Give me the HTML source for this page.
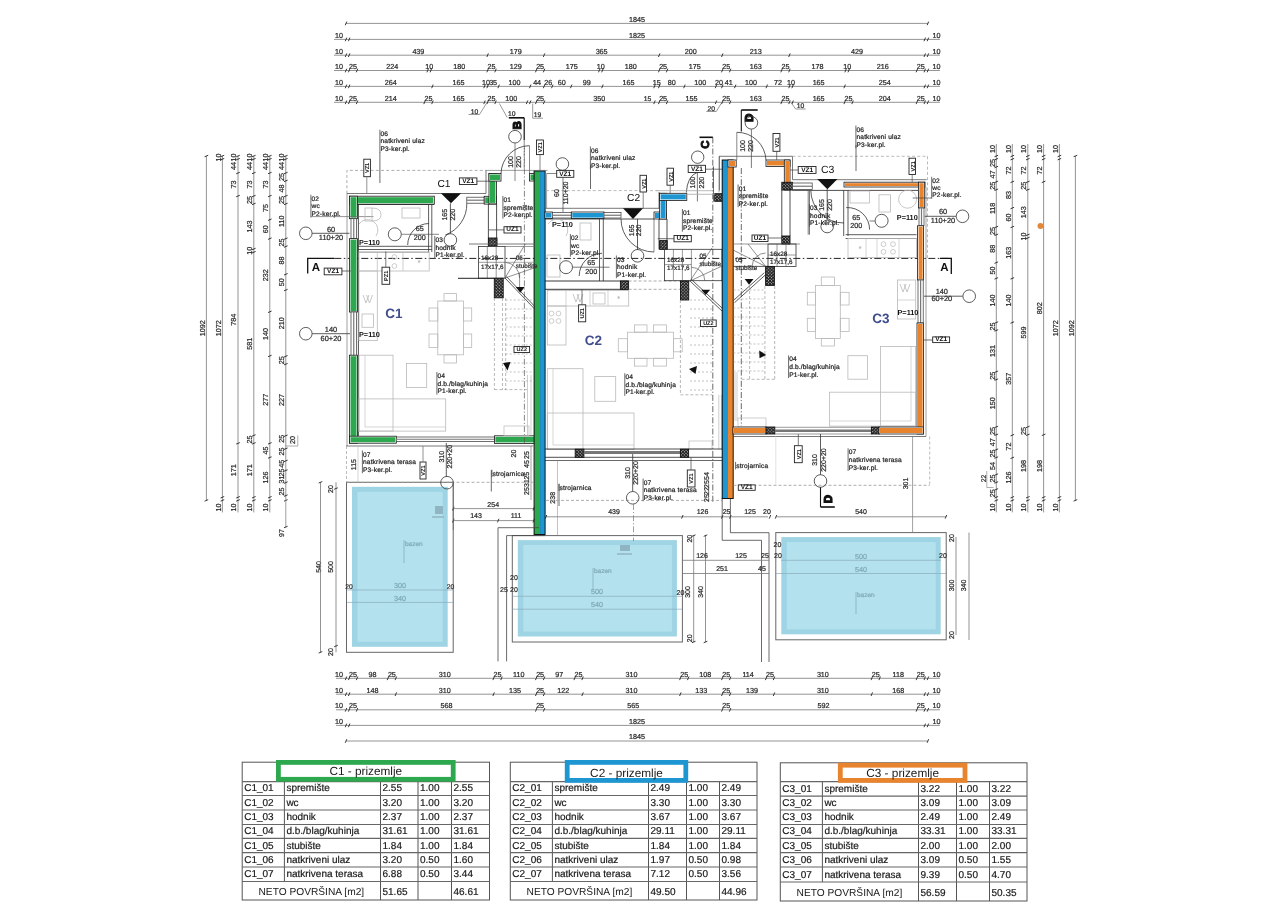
<!DOCTYPE html>
<html><head><meta charset="utf-8"><style>
html,body{margin:0;padding:0;background:#fff;width:1264px;height:920px;overflow:hidden}
svg{display:block;will-change:transform}
#wrap{width:1264px;height:920px}
text{font-family:"Liberation Sans",sans-serif}
svg{-webkit-font-smoothing:antialiased;text-rendering:geometricPrecision}
</style></head><body><div id="wrap">
<svg width="1264" height="920" viewBox="0 0 1264 920">
<rect x="0" y="0" width="1264" height="920" fill="#fff"/>
<line x1="346" y1="23.4" x2="927.91" y2="23.4" stroke="#888888" stroke-width="0.9"/>
<line x1="345.25" y1="25.2" x2="346.75" y2="21.6" stroke="#222" stroke-width="0.9"/>
<line x1="927.16" y1="25.2" x2="928.66" y2="21.6" stroke="#222" stroke-width="0.9"/>
<text x="636.96" y="21.8" font-size="7.2" text-anchor="middle" fill="#2a2a2a" font-weight="normal" font-family="Liberation Sans"  stroke="#2a2a2a" stroke-width="0.22">1845</text>
<line x1="334" y1="39.4" x2="939.91" y2="39.4" stroke="#888888" stroke-width="0.9"/>
<line x1="345.25" y1="41.2" x2="346.75" y2="37.6" stroke="#222" stroke-width="0.9"/>
<line x1="348.4" y1="41.2" x2="349.9" y2="37.6" stroke="#222" stroke-width="0.9"/>
<line x1="924.01" y1="41.2" x2="925.51" y2="37.6" stroke="#222" stroke-width="0.9"/>
<line x1="927.16" y1="41.2" x2="928.66" y2="37.6" stroke="#222" stroke-width="0.9"/>
<text x="343" y="37.8" font-size="7.2" text-anchor="end" fill="#2a2a2a" font-weight="normal" font-family="Liberation Sans"  stroke="#2a2a2a" stroke-width="0.22">10</text>
<text x="636.96" y="37.8" font-size="7.2" text-anchor="middle" fill="#2a2a2a" font-weight="normal" font-family="Liberation Sans"  stroke="#2a2a2a" stroke-width="0.22">1825</text>
<text x="932.41" y="37.8" font-size="7.2" text-anchor="start" fill="#2a2a2a" font-weight="normal" font-family="Liberation Sans"  stroke="#2a2a2a" stroke-width="0.22">10</text>
<line x1="334" y1="55.2" x2="939.91" y2="55.2" stroke="#888888" stroke-width="0.9"/>
<line x1="345.25" y1="57" x2="346.75" y2="53.4" stroke="#222" stroke-width="0.9"/>
<line x1="348.4" y1="57" x2="349.9" y2="53.4" stroke="#222" stroke-width="0.9"/>
<line x1="486.86" y1="57" x2="488.36" y2="53.4" stroke="#222" stroke-width="0.9"/>
<line x1="543.32" y1="57" x2="544.82" y2="53.4" stroke="#222" stroke-width="0.9"/>
<line x1="658.44" y1="57" x2="659.94" y2="53.4" stroke="#222" stroke-width="0.9"/>
<line x1="721.52" y1="57" x2="723.02" y2="53.4" stroke="#222" stroke-width="0.9"/>
<line x1="788.7" y1="57" x2="790.2" y2="53.4" stroke="#222" stroke-width="0.9"/>
<line x1="924.01" y1="57" x2="925.51" y2="53.4" stroke="#222" stroke-width="0.9"/>
<line x1="927.16" y1="57" x2="928.66" y2="53.4" stroke="#222" stroke-width="0.9"/>
<text x="343" y="53.6" font-size="7.2" text-anchor="end" fill="#2a2a2a" font-weight="normal" font-family="Liberation Sans"  stroke="#2a2a2a" stroke-width="0.22">10</text>
<text x="418.38" y="53.6" font-size="7.2" text-anchor="middle" fill="#2a2a2a" font-weight="normal" font-family="Liberation Sans"  stroke="#2a2a2a" stroke-width="0.22">439</text>
<text x="515.84" y="53.6" font-size="7.2" text-anchor="middle" fill="#2a2a2a" font-weight="normal" font-family="Liberation Sans"  stroke="#2a2a2a" stroke-width="0.22">179</text>
<text x="601.63" y="53.6" font-size="7.2" text-anchor="middle" fill="#2a2a2a" font-weight="normal" font-family="Liberation Sans"  stroke="#2a2a2a" stroke-width="0.22">365</text>
<text x="690.73" y="53.6" font-size="7.2" text-anchor="middle" fill="#2a2a2a" font-weight="normal" font-family="Liberation Sans"  stroke="#2a2a2a" stroke-width="0.22">200</text>
<text x="755.86" y="53.6" font-size="7.2" text-anchor="middle" fill="#2a2a2a" font-weight="normal" font-family="Liberation Sans"  stroke="#2a2a2a" stroke-width="0.22">213</text>
<text x="857.11" y="53.6" font-size="7.2" text-anchor="middle" fill="#2a2a2a" font-weight="normal" font-family="Liberation Sans"  stroke="#2a2a2a" stroke-width="0.22">429</text>
<text x="932.41" y="53.6" font-size="7.2" text-anchor="start" fill="#2a2a2a" font-weight="normal" font-family="Liberation Sans"  stroke="#2a2a2a" stroke-width="0.22">10</text>
<line x1="334" y1="70.5" x2="939.91" y2="70.5" stroke="#888888" stroke-width="0.9"/>
<line x1="345.25" y1="72.3" x2="346.75" y2="68.7" stroke="#222" stroke-width="0.9"/>
<line x1="348.4" y1="72.3" x2="349.9" y2="68.7" stroke="#222" stroke-width="0.9"/>
<line x1="356.29" y1="72.3" x2="357.79" y2="68.7" stroke="#222" stroke-width="0.9"/>
<line x1="426.94" y1="72.3" x2="428.44" y2="68.7" stroke="#222" stroke-width="0.9"/>
<line x1="430.09" y1="72.3" x2="431.59" y2="68.7" stroke="#222" stroke-width="0.9"/>
<line x1="486.86" y1="72.3" x2="488.36" y2="68.7" stroke="#222" stroke-width="0.9"/>
<line x1="494.75" y1="72.3" x2="496.25" y2="68.7" stroke="#222" stroke-width="0.9"/>
<line x1="535.44" y1="72.3" x2="536.94" y2="68.7" stroke="#222" stroke-width="0.9"/>
<line x1="543.32" y1="72.3" x2="544.82" y2="68.7" stroke="#222" stroke-width="0.9"/>
<line x1="598.52" y1="72.3" x2="600.02" y2="68.7" stroke="#222" stroke-width="0.9"/>
<line x1="601.67" y1="72.3" x2="603.17" y2="68.7" stroke="#222" stroke-width="0.9"/>
<line x1="658.44" y1="72.3" x2="659.94" y2="68.7" stroke="#222" stroke-width="0.9"/>
<line x1="666.33" y1="72.3" x2="667.83" y2="68.7" stroke="#222" stroke-width="0.9"/>
<line x1="721.52" y1="72.3" x2="723.02" y2="68.7" stroke="#222" stroke-width="0.9"/>
<line x1="729.41" y1="72.3" x2="730.91" y2="68.7" stroke="#222" stroke-width="0.9"/>
<line x1="780.82" y1="72.3" x2="782.32" y2="68.7" stroke="#222" stroke-width="0.9"/>
<line x1="788.7" y1="72.3" x2="790.2" y2="68.7" stroke="#222" stroke-width="0.9"/>
<line x1="844.84" y1="72.3" x2="846.34" y2="68.7" stroke="#222" stroke-width="0.9"/>
<line x1="848" y1="72.3" x2="849.5" y2="68.7" stroke="#222" stroke-width="0.9"/>
<line x1="916.12" y1="72.3" x2="917.62" y2="68.7" stroke="#222" stroke-width="0.9"/>
<line x1="924.01" y1="72.3" x2="925.51" y2="68.7" stroke="#222" stroke-width="0.9"/>
<line x1="927.16" y1="72.3" x2="928.66" y2="68.7" stroke="#222" stroke-width="0.9"/>
<text x="343" y="68.9" font-size="7.2" text-anchor="end" fill="#2a2a2a" font-weight="normal" font-family="Liberation Sans"  stroke="#2a2a2a" stroke-width="0.22">10</text>
<text x="353.1" y="68.9" font-size="7.2" text-anchor="middle" fill="#2a2a2a" font-weight="normal" font-family="Liberation Sans"  stroke="#2a2a2a" stroke-width="0.22">25</text>
<text x="392.36" y="68.9" font-size="7.2" text-anchor="middle" fill="#2a2a2a" font-weight="normal" font-family="Liberation Sans"  stroke="#2a2a2a" stroke-width="0.22">224</text>
<text x="429.27" y="68.9" font-size="7.2" text-anchor="middle" fill="#2a2a2a" font-weight="normal" font-family="Liberation Sans"  stroke="#2a2a2a" stroke-width="0.22">10</text>
<text x="459.23" y="68.9" font-size="7.2" text-anchor="middle" fill="#2a2a2a" font-weight="normal" font-family="Liberation Sans"  stroke="#2a2a2a" stroke-width="0.22">180</text>
<text x="491.56" y="68.9" font-size="7.2" text-anchor="middle" fill="#2a2a2a" font-weight="normal" font-family="Liberation Sans"  stroke="#2a2a2a" stroke-width="0.22">25</text>
<text x="515.84" y="68.9" font-size="7.2" text-anchor="middle" fill="#2a2a2a" font-weight="normal" font-family="Liberation Sans"  stroke="#2a2a2a" stroke-width="0.22">129</text>
<text x="540.13" y="68.9" font-size="7.2" text-anchor="middle" fill="#2a2a2a" font-weight="normal" font-family="Liberation Sans"  stroke="#2a2a2a" stroke-width="0.22">25</text>
<text x="571.67" y="68.9" font-size="7.2" text-anchor="middle" fill="#2a2a2a" font-weight="normal" font-family="Liberation Sans"  stroke="#2a2a2a" stroke-width="0.22">175</text>
<text x="600.84" y="68.9" font-size="7.2" text-anchor="middle" fill="#2a2a2a" font-weight="normal" font-family="Liberation Sans"  stroke="#2a2a2a" stroke-width="0.22">10</text>
<text x="630.81" y="68.9" font-size="7.2" text-anchor="middle" fill="#2a2a2a" font-weight="normal" font-family="Liberation Sans"  stroke="#2a2a2a" stroke-width="0.22">180</text>
<text x="663.13" y="68.9" font-size="7.2" text-anchor="middle" fill="#2a2a2a" font-weight="normal" font-family="Liberation Sans"  stroke="#2a2a2a" stroke-width="0.22">25</text>
<text x="694.67" y="68.9" font-size="7.2" text-anchor="middle" fill="#2a2a2a" font-weight="normal" font-family="Liberation Sans"  stroke="#2a2a2a" stroke-width="0.22">175</text>
<text x="726.21" y="68.9" font-size="7.2" text-anchor="middle" fill="#2a2a2a" font-weight="normal" font-family="Liberation Sans"  stroke="#2a2a2a" stroke-width="0.22">25</text>
<text x="755.86" y="68.9" font-size="7.2" text-anchor="middle" fill="#2a2a2a" font-weight="normal" font-family="Liberation Sans"  stroke="#2a2a2a" stroke-width="0.22">163</text>
<text x="785.51" y="68.9" font-size="7.2" text-anchor="middle" fill="#2a2a2a" font-weight="normal" font-family="Liberation Sans"  stroke="#2a2a2a" stroke-width="0.22">25</text>
<text x="817.52" y="68.9" font-size="7.2" text-anchor="middle" fill="#2a2a2a" font-weight="normal" font-family="Liberation Sans"  stroke="#2a2a2a" stroke-width="0.22">178</text>
<text x="847.17" y="68.9" font-size="7.2" text-anchor="middle" fill="#2a2a2a" font-weight="normal" font-family="Liberation Sans"  stroke="#2a2a2a" stroke-width="0.22">10</text>
<text x="882.81" y="68.9" font-size="7.2" text-anchor="middle" fill="#2a2a2a" font-weight="normal" font-family="Liberation Sans"  stroke="#2a2a2a" stroke-width="0.22">216</text>
<text x="920.82" y="68.9" font-size="7.2" text-anchor="middle" fill="#2a2a2a" font-weight="normal" font-family="Liberation Sans"  stroke="#2a2a2a" stroke-width="0.22">25</text>
<text x="932.41" y="68.9" font-size="7.2" text-anchor="start" fill="#2a2a2a" font-weight="normal" font-family="Liberation Sans"  stroke="#2a2a2a" stroke-width="0.22">10</text>
<line x1="334" y1="86.4" x2="939.91" y2="86.4" stroke="#888888" stroke-width="0.9"/>
<line x1="345.25" y1="88.2" x2="346.75" y2="84.6" stroke="#222" stroke-width="0.9"/>
<line x1="348.4" y1="88.2" x2="349.9" y2="84.6" stroke="#222" stroke-width="0.9"/>
<line x1="431.67" y1="88.2" x2="433.17" y2="84.6" stroke="#222" stroke-width="0.9"/>
<line x1="483.71" y1="88.2" x2="485.21" y2="84.6" stroke="#222" stroke-width="0.9"/>
<line x1="486.86" y1="88.2" x2="488.36" y2="84.6" stroke="#222" stroke-width="0.9"/>
<line x1="497.9" y1="88.2" x2="499.4" y2="84.6" stroke="#222" stroke-width="0.9"/>
<line x1="529.44" y1="88.2" x2="530.94" y2="84.6" stroke="#222" stroke-width="0.9"/>
<line x1="543.32" y1="88.2" x2="544.82" y2="84.6" stroke="#222" stroke-width="0.9"/>
<line x1="551.52" y1="88.2" x2="553.02" y2="84.6" stroke="#222" stroke-width="0.9"/>
<line x1="570.45" y1="88.2" x2="571.95" y2="84.6" stroke="#222" stroke-width="0.9"/>
<line x1="601.67" y1="88.2" x2="603.17" y2="84.6" stroke="#222" stroke-width="0.9"/>
<line x1="653.71" y1="88.2" x2="655.21" y2="84.6" stroke="#222" stroke-width="0.9"/>
<line x1="658.44" y1="88.2" x2="659.94" y2="84.6" stroke="#222" stroke-width="0.9"/>
<line x1="683.67" y1="88.2" x2="685.17" y2="84.6" stroke="#222" stroke-width="0.9"/>
<line x1="715.21" y1="88.2" x2="716.71" y2="84.6" stroke="#222" stroke-width="0.9"/>
<line x1="721.52" y1="88.2" x2="723.02" y2="84.6" stroke="#222" stroke-width="0.9"/>
<line x1="734.45" y1="88.2" x2="735.95" y2="84.6" stroke="#222" stroke-width="0.9"/>
<line x1="765.99" y1="88.2" x2="767.49" y2="84.6" stroke="#222" stroke-width="0.9"/>
<line x1="788.7" y1="88.2" x2="790.2" y2="84.6" stroke="#222" stroke-width="0.9"/>
<line x1="791.86" y1="88.2" x2="793.36" y2="84.6" stroke="#222" stroke-width="0.9"/>
<line x1="843.9" y1="88.2" x2="845.4" y2="84.6" stroke="#222" stroke-width="0.9"/>
<line x1="924.01" y1="88.2" x2="925.51" y2="84.6" stroke="#222" stroke-width="0.9"/>
<line x1="927.16" y1="88.2" x2="928.66" y2="84.6" stroke="#222" stroke-width="0.9"/>
<text x="343" y="84.8" font-size="7.2" text-anchor="end" fill="#2a2a2a" font-weight="normal" font-family="Liberation Sans"  stroke="#2a2a2a" stroke-width="0.22">10</text>
<text x="390.79" y="84.8" font-size="7.2" text-anchor="middle" fill="#2a2a2a" font-weight="normal" font-family="Liberation Sans"  stroke="#2a2a2a" stroke-width="0.22">264</text>
<text x="458.44" y="84.8" font-size="7.2" text-anchor="middle" fill="#2a2a2a" font-weight="normal" font-family="Liberation Sans"  stroke="#2a2a2a" stroke-width="0.22">165</text>
<text x="486.04" y="84.8" font-size="7.2" text-anchor="middle" fill="#2a2a2a" font-weight="normal" font-family="Liberation Sans"  stroke="#2a2a2a" stroke-width="0.22">10</text>
<text x="493.13" y="84.8" font-size="7.2" text-anchor="middle" fill="#2a2a2a" font-weight="normal" font-family="Liberation Sans"  stroke="#2a2a2a" stroke-width="0.22">35</text>
<text x="514.42" y="84.8" font-size="7.2" text-anchor="middle" fill="#2a2a2a" font-weight="normal" font-family="Liberation Sans"  stroke="#2a2a2a" stroke-width="0.22">100</text>
<text x="537.13" y="84.8" font-size="7.2" text-anchor="middle" fill="#2a2a2a" font-weight="normal" font-family="Liberation Sans"  stroke="#2a2a2a" stroke-width="0.22">44</text>
<text x="548.17" y="84.8" font-size="7.2" text-anchor="middle" fill="#2a2a2a" font-weight="normal" font-family="Liberation Sans"  stroke="#2a2a2a" stroke-width="0.22">26</text>
<text x="561.73" y="84.8" font-size="7.2" text-anchor="middle" fill="#2a2a2a" font-weight="normal" font-family="Liberation Sans"  stroke="#2a2a2a" stroke-width="0.22">60</text>
<text x="586.81" y="84.8" font-size="7.2" text-anchor="middle" fill="#2a2a2a" font-weight="normal" font-family="Liberation Sans"  stroke="#2a2a2a" stroke-width="0.22">99</text>
<text x="628.44" y="84.8" font-size="7.2" text-anchor="middle" fill="#2a2a2a" font-weight="normal" font-family="Liberation Sans"  stroke="#2a2a2a" stroke-width="0.22">165</text>
<text x="656.83" y="84.8" font-size="7.2" text-anchor="middle" fill="#2a2a2a" font-weight="normal" font-family="Liberation Sans"  stroke="#2a2a2a" stroke-width="0.22">15</text>
<text x="671.81" y="84.8" font-size="7.2" text-anchor="middle" fill="#2a2a2a" font-weight="normal" font-family="Liberation Sans"  stroke="#2a2a2a" stroke-width="0.22">80</text>
<text x="700.19" y="84.8" font-size="7.2" text-anchor="middle" fill="#2a2a2a" font-weight="normal" font-family="Liberation Sans"  stroke="#2a2a2a" stroke-width="0.22">100</text>
<text x="719.12" y="84.8" font-size="7.2" text-anchor="middle" fill="#2a2a2a" font-weight="normal" font-family="Liberation Sans"  stroke="#2a2a2a" stroke-width="0.22">20</text>
<text x="728.74" y="84.8" font-size="7.2" text-anchor="middle" fill="#2a2a2a" font-weight="normal" font-family="Liberation Sans"  stroke="#2a2a2a" stroke-width="0.22">41</text>
<text x="750.97" y="84.8" font-size="7.2" text-anchor="middle" fill="#2a2a2a" font-weight="normal" font-family="Liberation Sans"  stroke="#2a2a2a" stroke-width="0.22">100</text>
<text x="778.1" y="84.8" font-size="7.2" text-anchor="middle" fill="#2a2a2a" font-weight="normal" font-family="Liberation Sans"  stroke="#2a2a2a" stroke-width="0.22">72</text>
<text x="791.03" y="84.8" font-size="7.2" text-anchor="middle" fill="#2a2a2a" font-weight="normal" font-family="Liberation Sans"  stroke="#2a2a2a" stroke-width="0.22">10</text>
<text x="818.63" y="84.8" font-size="7.2" text-anchor="middle" fill="#2a2a2a" font-weight="normal" font-family="Liberation Sans"  stroke="#2a2a2a" stroke-width="0.22">165</text>
<text x="884.7" y="84.8" font-size="7.2" text-anchor="middle" fill="#2a2a2a" font-weight="normal" font-family="Liberation Sans"  stroke="#2a2a2a" stroke-width="0.22">254</text>
<text x="932.41" y="84.8" font-size="7.2" text-anchor="start" fill="#2a2a2a" font-weight="normal" font-family="Liberation Sans"  stroke="#2a2a2a" stroke-width="0.22">10</text>
<line x1="334" y1="102.3" x2="939.91" y2="102.3" stroke="#888888" stroke-width="0.9"/>
<line x1="345.25" y1="104.1" x2="346.75" y2="100.5" stroke="#222" stroke-width="0.9"/>
<line x1="348.4" y1="104.1" x2="349.9" y2="100.5" stroke="#222" stroke-width="0.9"/>
<line x1="356.29" y1="104.1" x2="357.79" y2="100.5" stroke="#222" stroke-width="0.9"/>
<line x1="423.78" y1="104.1" x2="425.28" y2="100.5" stroke="#222" stroke-width="0.9"/>
<line x1="431.67" y1="104.1" x2="433.17" y2="100.5" stroke="#222" stroke-width="0.9"/>
<line x1="483.71" y1="104.1" x2="485.21" y2="100.5" stroke="#222" stroke-width="0.9"/>
<line x1="486.86" y1="104.1" x2="488.36" y2="100.5" stroke="#222" stroke-width="0.9"/>
<line x1="494.75" y1="104.1" x2="496.25" y2="100.5" stroke="#222" stroke-width="0.9"/>
<line x1="526.29" y1="104.1" x2="527.79" y2="100.5" stroke="#222" stroke-width="0.9"/>
<line x1="529.44" y1="104.1" x2="530.94" y2="100.5" stroke="#222" stroke-width="0.9"/>
<line x1="535.44" y1="104.1" x2="536.94" y2="100.5" stroke="#222" stroke-width="0.9"/>
<line x1="543.32" y1="104.1" x2="544.82" y2="100.5" stroke="#222" stroke-width="0.9"/>
<line x1="653.71" y1="104.1" x2="655.21" y2="100.5" stroke="#222" stroke-width="0.9"/>
<line x1="658.44" y1="104.1" x2="659.94" y2="100.5" stroke="#222" stroke-width="0.9"/>
<line x1="666.33" y1="104.1" x2="667.83" y2="100.5" stroke="#222" stroke-width="0.9"/>
<line x1="715.21" y1="104.1" x2="716.71" y2="100.5" stroke="#222" stroke-width="0.9"/>
<line x1="721.52" y1="104.1" x2="723.02" y2="100.5" stroke="#222" stroke-width="0.9"/>
<line x1="729.41" y1="104.1" x2="730.91" y2="100.5" stroke="#222" stroke-width="0.9"/>
<line x1="780.82" y1="104.1" x2="782.32" y2="100.5" stroke="#222" stroke-width="0.9"/>
<line x1="788.7" y1="104.1" x2="790.2" y2="100.5" stroke="#222" stroke-width="0.9"/>
<line x1="791.86" y1="104.1" x2="793.36" y2="100.5" stroke="#222" stroke-width="0.9"/>
<line x1="843.9" y1="104.1" x2="845.4" y2="100.5" stroke="#222" stroke-width="0.9"/>
<line x1="851.78" y1="104.1" x2="853.28" y2="100.5" stroke="#222" stroke-width="0.9"/>
<line x1="916.12" y1="104.1" x2="917.62" y2="100.5" stroke="#222" stroke-width="0.9"/>
<line x1="924.01" y1="104.1" x2="925.51" y2="100.5" stroke="#222" stroke-width="0.9"/>
<line x1="927.16" y1="104.1" x2="928.66" y2="100.5" stroke="#222" stroke-width="0.9"/>
<text x="343" y="100.7" font-size="7.2" text-anchor="end" fill="#2a2a2a" font-weight="normal" font-family="Liberation Sans"  stroke="#2a2a2a" stroke-width="0.22">10</text>
<text x="353.1" y="100.7" font-size="7.2" text-anchor="middle" fill="#2a2a2a" font-weight="normal" font-family="Liberation Sans"  stroke="#2a2a2a" stroke-width="0.22">25</text>
<text x="390.79" y="100.7" font-size="7.2" text-anchor="middle" fill="#2a2a2a" font-weight="normal" font-family="Liberation Sans"  stroke="#2a2a2a" stroke-width="0.22">214</text>
<text x="428.48" y="100.7" font-size="7.2" text-anchor="middle" fill="#2a2a2a" font-weight="normal" font-family="Liberation Sans"  stroke="#2a2a2a" stroke-width="0.22">25</text>
<text x="458.44" y="100.7" font-size="7.2" text-anchor="middle" fill="#2a2a2a" font-weight="normal" font-family="Liberation Sans"  stroke="#2a2a2a" stroke-width="0.22">165</text>
<text x="491.56" y="100.7" font-size="7.2" text-anchor="middle" fill="#2a2a2a" font-weight="normal" font-family="Liberation Sans"  stroke="#2a2a2a" stroke-width="0.22">25</text>
<text x="511.27" y="100.7" font-size="7.2" text-anchor="middle" fill="#2a2a2a" font-weight="normal" font-family="Liberation Sans"  stroke="#2a2a2a" stroke-width="0.22">100</text>
<text x="540.13" y="100.7" font-size="7.2" text-anchor="middle" fill="#2a2a2a" font-weight="normal" font-family="Liberation Sans"  stroke="#2a2a2a" stroke-width="0.22">25</text>
<text x="599.27" y="100.7" font-size="7.2" text-anchor="middle" fill="#2a2a2a" font-weight="normal" font-family="Liberation Sans"  stroke="#2a2a2a" stroke-width="0.22">350</text>
<text x="663.13" y="100.7" font-size="7.2" text-anchor="middle" fill="#2a2a2a" font-weight="normal" font-family="Liberation Sans"  stroke="#2a2a2a" stroke-width="0.22">25</text>
<text x="691.52" y="100.7" font-size="7.2" text-anchor="middle" fill="#2a2a2a" font-weight="normal" font-family="Liberation Sans"  stroke="#2a2a2a" stroke-width="0.22">155</text>
<text x="726.21" y="100.7" font-size="7.2" text-anchor="middle" fill="#2a2a2a" font-weight="normal" font-family="Liberation Sans"  stroke="#2a2a2a" stroke-width="0.22">25</text>
<text x="755.86" y="100.7" font-size="7.2" text-anchor="middle" fill="#2a2a2a" font-weight="normal" font-family="Liberation Sans"  stroke="#2a2a2a" stroke-width="0.22">163</text>
<text x="785.51" y="100.7" font-size="7.2" text-anchor="middle" fill="#2a2a2a" font-weight="normal" font-family="Liberation Sans"  stroke="#2a2a2a" stroke-width="0.22">25</text>
<text x="818.63" y="100.7" font-size="7.2" text-anchor="middle" fill="#2a2a2a" font-weight="normal" font-family="Liberation Sans"  stroke="#2a2a2a" stroke-width="0.22">165</text>
<text x="848.59" y="100.7" font-size="7.2" text-anchor="middle" fill="#2a2a2a" font-weight="normal" font-family="Liberation Sans"  stroke="#2a2a2a" stroke-width="0.22">25</text>
<text x="884.7" y="100.7" font-size="7.2" text-anchor="middle" fill="#2a2a2a" font-weight="normal" font-family="Liberation Sans"  stroke="#2a2a2a" stroke-width="0.22">204</text>
<text x="920.82" y="100.7" font-size="7.2" text-anchor="middle" fill="#2a2a2a" font-weight="normal" font-family="Liberation Sans"  stroke="#2a2a2a" stroke-width="0.22">25</text>
<text x="932.41" y="100.7" font-size="7.2" text-anchor="start" fill="#2a2a2a" font-weight="normal" font-family="Liberation Sans"  stroke="#2a2a2a" stroke-width="0.22">10</text>
<text x="647.5" y="100.7" font-size="6.8" text-anchor="middle" fill="#2a2a2a" font-weight="normal" font-family="Liberation Sans"  stroke="#2a2a2a" stroke-width="0.22">15</text>
<line x1="486.46" y1="103.3" x2="479.46" y2="114.5" stroke="#555" stroke-width="0.6"/>
<line x1="479.46" y1="114.5" x2="468.46" y2="114.5" stroke="#555" stroke-width="0.6"/>
<text x="474.46" y="113.5" font-size="6.8" text-anchor="middle" fill="#2a2a2a" font-weight="normal" font-family="Liberation Sans"  stroke="#2a2a2a" stroke-width="0.22">10</text>
<line x1="499.4" y1="103.5" x2="507.2" y2="117.5" stroke="#555" stroke-width="0.6"/>
<text x="511.8" y="115.5" font-size="6.8" text-anchor="middle" fill="#2a2a2a" font-weight="normal" font-family="Liberation Sans"  stroke="#2a2a2a" stroke-width="0.22">10</text>
<line x1="532.7" y1="103.5" x2="532.7" y2="118.2" stroke="#555" stroke-width="0.6"/>
<line x1="532.7" y1="118.2" x2="543" y2="118.2" stroke="#555" stroke-width="0.6"/>
<text x="537.5" y="116.7" font-size="6.8" text-anchor="middle" fill="#2a2a2a" font-weight="normal" font-family="Liberation Sans"  stroke="#2a2a2a" stroke-width="0.22">19</text>
<line x1="721.27" y1="103.3" x2="716.27" y2="111.5" stroke="#555" stroke-width="0.6"/>
<line x1="716.27" y1="111.5" x2="706.27" y2="111.5" stroke="#555" stroke-width="0.6"/>
<text x="711.27" y="110.5" font-size="6.8" text-anchor="middle" fill="#2a2a2a" font-weight="normal" font-family="Liberation Sans"  stroke="#2a2a2a" stroke-width="0.22">20</text>
<line x1="791.61" y1="103.3" x2="795.61" y2="109" stroke="#555" stroke-width="0.6"/>
<line x1="795.61" y1="109" x2="805.61" y2="109" stroke="#555" stroke-width="0.6"/>
<text x="800.61" y="108" font-size="6.8" text-anchor="middle" fill="#2a2a2a" font-weight="normal" font-family="Liberation Sans"  stroke="#2a2a2a" stroke-width="0.22">10</text>
<line x1="336" y1="678.3" x2="939.91" y2="678.3" stroke="#888888" stroke-width="0.9"/>
<line x1="345.25" y1="680.1" x2="346.75" y2="676.5" stroke="#222" stroke-width="0.9"/>
<line x1="348.4" y1="680.1" x2="349.9" y2="676.5" stroke="#222" stroke-width="0.9"/>
<line x1="356.29" y1="680.1" x2="357.79" y2="676.5" stroke="#222" stroke-width="0.9"/>
<line x1="387.2" y1="680.1" x2="388.7" y2="676.5" stroke="#222" stroke-width="0.9"/>
<line x1="395.08" y1="680.1" x2="396.58" y2="676.5" stroke="#222" stroke-width="0.9"/>
<line x1="492.86" y1="680.1" x2="494.36" y2="676.5" stroke="#222" stroke-width="0.9"/>
<line x1="500.74" y1="680.1" x2="502.24" y2="676.5" stroke="#222" stroke-width="0.9"/>
<line x1="535.44" y1="680.1" x2="536.94" y2="676.5" stroke="#222" stroke-width="0.9"/>
<line x1="543.32" y1="680.1" x2="544.82" y2="676.5" stroke="#222" stroke-width="0.9"/>
<line x1="573.91" y1="680.1" x2="575.41" y2="676.5" stroke="#222" stroke-width="0.9"/>
<line x1="581.8" y1="680.1" x2="583.3" y2="676.5" stroke="#222" stroke-width="0.9"/>
<line x1="679.57" y1="680.1" x2="681.07" y2="676.5" stroke="#222" stroke-width="0.9"/>
<line x1="687.46" y1="680.1" x2="688.96" y2="676.5" stroke="#222" stroke-width="0.9"/>
<line x1="721.52" y1="680.1" x2="723.02" y2="676.5" stroke="#222" stroke-width="0.9"/>
<line x1="729.41" y1="680.1" x2="730.91" y2="676.5" stroke="#222" stroke-width="0.9"/>
<line x1="765.36" y1="680.1" x2="766.86" y2="676.5" stroke="#222" stroke-width="0.9"/>
<line x1="773.25" y1="680.1" x2="774.75" y2="676.5" stroke="#222" stroke-width="0.9"/>
<line x1="871.02" y1="680.1" x2="872.52" y2="676.5" stroke="#222" stroke-width="0.9"/>
<line x1="878.91" y1="680.1" x2="880.41" y2="676.5" stroke="#222" stroke-width="0.9"/>
<line x1="916.12" y1="680.1" x2="917.62" y2="676.5" stroke="#222" stroke-width="0.9"/>
<line x1="924.01" y1="680.1" x2="925.51" y2="676.5" stroke="#222" stroke-width="0.9"/>
<line x1="927.16" y1="680.1" x2="928.66" y2="676.5" stroke="#222" stroke-width="0.9"/>
<text x="343" y="676.7" font-size="7.2" text-anchor="end" fill="#2a2a2a" font-weight="normal" font-family="Liberation Sans"  stroke="#2a2a2a" stroke-width="0.22">10</text>
<text x="353.1" y="676.7" font-size="7.2" text-anchor="middle" fill="#2a2a2a" font-weight="normal" font-family="Liberation Sans"  stroke="#2a2a2a" stroke-width="0.22">25</text>
<text x="372.49" y="676.7" font-size="7.2" text-anchor="middle" fill="#2a2a2a" font-weight="normal" font-family="Liberation Sans"  stroke="#2a2a2a" stroke-width="0.22">98</text>
<text x="391.89" y="676.7" font-size="7.2" text-anchor="middle" fill="#2a2a2a" font-weight="normal" font-family="Liberation Sans"  stroke="#2a2a2a" stroke-width="0.22">25</text>
<text x="444.72" y="676.7" font-size="7.2" text-anchor="middle" fill="#2a2a2a" font-weight="normal" font-family="Liberation Sans"  stroke="#2a2a2a" stroke-width="0.22">310</text>
<text x="497.55" y="676.7" font-size="7.2" text-anchor="middle" fill="#2a2a2a" font-weight="normal" font-family="Liberation Sans"  stroke="#2a2a2a" stroke-width="0.22">25</text>
<text x="518.84" y="676.7" font-size="7.2" text-anchor="middle" fill="#2a2a2a" font-weight="normal" font-family="Liberation Sans"  stroke="#2a2a2a" stroke-width="0.22">110</text>
<text x="540.13" y="676.7" font-size="7.2" text-anchor="middle" fill="#2a2a2a" font-weight="normal" font-family="Liberation Sans"  stroke="#2a2a2a" stroke-width="0.22">25</text>
<text x="559.37" y="676.7" font-size="7.2" text-anchor="middle" fill="#2a2a2a" font-weight="normal" font-family="Liberation Sans"  stroke="#2a2a2a" stroke-width="0.22">97</text>
<text x="578.61" y="676.7" font-size="7.2" text-anchor="middle" fill="#2a2a2a" font-weight="normal" font-family="Liberation Sans"  stroke="#2a2a2a" stroke-width="0.22">25</text>
<text x="631.44" y="676.7" font-size="7.2" text-anchor="middle" fill="#2a2a2a" font-weight="normal" font-family="Liberation Sans"  stroke="#2a2a2a" stroke-width="0.22">310</text>
<text x="684.27" y="676.7" font-size="7.2" text-anchor="middle" fill="#2a2a2a" font-weight="normal" font-family="Liberation Sans"  stroke="#2a2a2a" stroke-width="0.22">25</text>
<text x="705.24" y="676.7" font-size="7.2" text-anchor="middle" fill="#2a2a2a" font-weight="normal" font-family="Liberation Sans"  stroke="#2a2a2a" stroke-width="0.22">108</text>
<text x="726.21" y="676.7" font-size="7.2" text-anchor="middle" fill="#2a2a2a" font-weight="normal" font-family="Liberation Sans"  stroke="#2a2a2a" stroke-width="0.22">25</text>
<text x="748.13" y="676.7" font-size="7.2" text-anchor="middle" fill="#2a2a2a" font-weight="normal" font-family="Liberation Sans"  stroke="#2a2a2a" stroke-width="0.22">114</text>
<text x="770.06" y="676.7" font-size="7.2" text-anchor="middle" fill="#2a2a2a" font-weight="normal" font-family="Liberation Sans"  stroke="#2a2a2a" stroke-width="0.22">25</text>
<text x="822.88" y="676.7" font-size="7.2" text-anchor="middle" fill="#2a2a2a" font-weight="normal" font-family="Liberation Sans"  stroke="#2a2a2a" stroke-width="0.22">310</text>
<text x="875.71" y="676.7" font-size="7.2" text-anchor="middle" fill="#2a2a2a" font-weight="normal" font-family="Liberation Sans"  stroke="#2a2a2a" stroke-width="0.22">25</text>
<text x="898.27" y="676.7" font-size="7.2" text-anchor="middle" fill="#2a2a2a" font-weight="normal" font-family="Liberation Sans"  stroke="#2a2a2a" stroke-width="0.22">118</text>
<text x="920.82" y="676.7" font-size="7.2" text-anchor="middle" fill="#2a2a2a" font-weight="normal" font-family="Liberation Sans"  stroke="#2a2a2a" stroke-width="0.22">25</text>
<text x="932.41" y="676.7" font-size="7.2" text-anchor="start" fill="#2a2a2a" font-weight="normal" font-family="Liberation Sans"  stroke="#2a2a2a" stroke-width="0.22">10</text>
<line x1="336" y1="694.2" x2="939.91" y2="694.2" stroke="#888888" stroke-width="0.9"/>
<line x1="345.25" y1="696" x2="346.75" y2="692.4" stroke="#222" stroke-width="0.9"/>
<line x1="348.4" y1="696" x2="349.9" y2="692.4" stroke="#222" stroke-width="0.9"/>
<line x1="395.08" y1="696" x2="396.58" y2="692.4" stroke="#222" stroke-width="0.9"/>
<line x1="492.86" y1="696" x2="494.36" y2="692.4" stroke="#222" stroke-width="0.9"/>
<line x1="535.44" y1="696" x2="536.94" y2="692.4" stroke="#222" stroke-width="0.9"/>
<line x1="543.32" y1="696" x2="544.82" y2="692.4" stroke="#222" stroke-width="0.9"/>
<line x1="581.8" y1="696" x2="583.3" y2="692.4" stroke="#222" stroke-width="0.9"/>
<line x1="679.57" y1="696" x2="681.07" y2="692.4" stroke="#222" stroke-width="0.9"/>
<line x1="721.52" y1="696" x2="723.02" y2="692.4" stroke="#222" stroke-width="0.9"/>
<line x1="729.41" y1="696" x2="730.91" y2="692.4" stroke="#222" stroke-width="0.9"/>
<line x1="773.25" y1="696" x2="774.75" y2="692.4" stroke="#222" stroke-width="0.9"/>
<line x1="871.02" y1="696" x2="872.52" y2="692.4" stroke="#222" stroke-width="0.9"/>
<line x1="924.01" y1="696" x2="925.51" y2="692.4" stroke="#222" stroke-width="0.9"/>
<line x1="927.16" y1="696" x2="928.66" y2="692.4" stroke="#222" stroke-width="0.9"/>
<text x="343" y="692.6" font-size="7.2" text-anchor="end" fill="#2a2a2a" font-weight="normal" font-family="Liberation Sans"  stroke="#2a2a2a" stroke-width="0.22">10</text>
<text x="372.49" y="692.6" font-size="7.2" text-anchor="middle" fill="#2a2a2a" font-weight="normal" font-family="Liberation Sans"  stroke="#2a2a2a" stroke-width="0.22">148</text>
<text x="444.72" y="692.6" font-size="7.2" text-anchor="middle" fill="#2a2a2a" font-weight="normal" font-family="Liberation Sans"  stroke="#2a2a2a" stroke-width="0.22">310</text>
<text x="514.9" y="692.6" font-size="7.2" text-anchor="middle" fill="#2a2a2a" font-weight="normal" font-family="Liberation Sans"  stroke="#2a2a2a" stroke-width="0.22">135</text>
<text x="540.13" y="692.6" font-size="7.2" text-anchor="middle" fill="#2a2a2a" font-weight="normal" font-family="Liberation Sans"  stroke="#2a2a2a" stroke-width="0.22">25</text>
<text x="563.31" y="692.6" font-size="7.2" text-anchor="middle" fill="#2a2a2a" font-weight="normal" font-family="Liberation Sans"  stroke="#2a2a2a" stroke-width="0.22">122</text>
<text x="631.44" y="692.6" font-size="7.2" text-anchor="middle" fill="#2a2a2a" font-weight="normal" font-family="Liberation Sans"  stroke="#2a2a2a" stroke-width="0.22">310</text>
<text x="701.3" y="692.6" font-size="7.2" text-anchor="middle" fill="#2a2a2a" font-weight="normal" font-family="Liberation Sans"  stroke="#2a2a2a" stroke-width="0.22">133</text>
<text x="726.21" y="692.6" font-size="7.2" text-anchor="middle" fill="#2a2a2a" font-weight="normal" font-family="Liberation Sans"  stroke="#2a2a2a" stroke-width="0.22">25</text>
<text x="752.08" y="692.6" font-size="7.2" text-anchor="middle" fill="#2a2a2a" font-weight="normal" font-family="Liberation Sans"  stroke="#2a2a2a" stroke-width="0.22">139</text>
<text x="822.88" y="692.6" font-size="7.2" text-anchor="middle" fill="#2a2a2a" font-weight="normal" font-family="Liberation Sans"  stroke="#2a2a2a" stroke-width="0.22">310</text>
<text x="898.27" y="692.6" font-size="7.2" text-anchor="middle" fill="#2a2a2a" font-weight="normal" font-family="Liberation Sans"  stroke="#2a2a2a" stroke-width="0.22">168</text>
<text x="932.41" y="692.6" font-size="7.2" text-anchor="start" fill="#2a2a2a" font-weight="normal" font-family="Liberation Sans"  stroke="#2a2a2a" stroke-width="0.22">10</text>
<line x1="336" y1="709.8" x2="939.91" y2="709.8" stroke="#888888" stroke-width="0.9"/>
<line x1="345.25" y1="711.6" x2="346.75" y2="708" stroke="#222" stroke-width="0.9"/>
<line x1="348.4" y1="711.6" x2="349.9" y2="708" stroke="#222" stroke-width="0.9"/>
<line x1="356.29" y1="711.6" x2="357.79" y2="708" stroke="#222" stroke-width="0.9"/>
<line x1="535.44" y1="711.6" x2="536.94" y2="708" stroke="#222" stroke-width="0.9"/>
<line x1="543.32" y1="711.6" x2="544.82" y2="708" stroke="#222" stroke-width="0.9"/>
<line x1="721.52" y1="711.6" x2="723.02" y2="708" stroke="#222" stroke-width="0.9"/>
<line x1="729.41" y1="711.6" x2="730.91" y2="708" stroke="#222" stroke-width="0.9"/>
<line x1="916.12" y1="711.6" x2="917.62" y2="708" stroke="#222" stroke-width="0.9"/>
<line x1="924.01" y1="711.6" x2="925.51" y2="708" stroke="#222" stroke-width="0.9"/>
<line x1="927.16" y1="711.6" x2="928.66" y2="708" stroke="#222" stroke-width="0.9"/>
<text x="343" y="708.2" font-size="7.2" text-anchor="end" fill="#2a2a2a" font-weight="normal" font-family="Liberation Sans"  stroke="#2a2a2a" stroke-width="0.22">10</text>
<text x="353.1" y="708.2" font-size="7.2" text-anchor="middle" fill="#2a2a2a" font-weight="normal" font-family="Liberation Sans"  stroke="#2a2a2a" stroke-width="0.22">25</text>
<text x="446.61" y="708.2" font-size="7.2" text-anchor="middle" fill="#2a2a2a" font-weight="normal" font-family="Liberation Sans"  stroke="#2a2a2a" stroke-width="0.22">568</text>
<text x="540.13" y="708.2" font-size="7.2" text-anchor="middle" fill="#2a2a2a" font-weight="normal" font-family="Liberation Sans"  stroke="#2a2a2a" stroke-width="0.22">25</text>
<text x="633.17" y="708.2" font-size="7.2" text-anchor="middle" fill="#2a2a2a" font-weight="normal" font-family="Liberation Sans"  stroke="#2a2a2a" stroke-width="0.22">565</text>
<text x="726.21" y="708.2" font-size="7.2" text-anchor="middle" fill="#2a2a2a" font-weight="normal" font-family="Liberation Sans"  stroke="#2a2a2a" stroke-width="0.22">25</text>
<text x="823.52" y="708.2" font-size="7.2" text-anchor="middle" fill="#2a2a2a" font-weight="normal" font-family="Liberation Sans"  stroke="#2a2a2a" stroke-width="0.22">592</text>
<text x="920.82" y="708.2" font-size="7.2" text-anchor="middle" fill="#2a2a2a" font-weight="normal" font-family="Liberation Sans"  stroke="#2a2a2a" stroke-width="0.22">25</text>
<text x="932.41" y="708.2" font-size="7.2" text-anchor="start" fill="#2a2a2a" font-weight="normal" font-family="Liberation Sans"  stroke="#2a2a2a" stroke-width="0.22">10</text>
<line x1="336" y1="725.4" x2="939.91" y2="725.4" stroke="#888888" stroke-width="0.9"/>
<line x1="345.25" y1="727.2" x2="346.75" y2="723.6" stroke="#222" stroke-width="0.9"/>
<line x1="348.4" y1="727.2" x2="349.9" y2="723.6" stroke="#222" stroke-width="0.9"/>
<line x1="924.01" y1="727.2" x2="925.51" y2="723.6" stroke="#222" stroke-width="0.9"/>
<line x1="927.16" y1="727.2" x2="928.66" y2="723.6" stroke="#222" stroke-width="0.9"/>
<text x="343" y="723.8" font-size="7.2" text-anchor="end" fill="#2a2a2a" font-weight="normal" font-family="Liberation Sans"  stroke="#2a2a2a" stroke-width="0.22">10</text>
<text x="636.96" y="723.8" font-size="7.2" text-anchor="middle" fill="#2a2a2a" font-weight="normal" font-family="Liberation Sans"  stroke="#2a2a2a" stroke-width="0.22">1825</text>
<text x="932.41" y="723.8" font-size="7.2" text-anchor="start" fill="#2a2a2a" font-weight="normal" font-family="Liberation Sans"  stroke="#2a2a2a" stroke-width="0.22">10</text>
<line x1="346" y1="741" x2="927.91" y2="741" stroke="#888888" stroke-width="0.9"/>
<line x1="345.25" y1="742.8" x2="346.75" y2="739.2" stroke="#222" stroke-width="0.9"/>
<line x1="927.16" y1="742.8" x2="928.66" y2="739.2" stroke="#222" stroke-width="0.9"/>
<text x="636.96" y="739.4" font-size="7.2" text-anchor="middle" fill="#2a2a2a" font-weight="normal" font-family="Liberation Sans"  stroke="#2a2a2a" stroke-width="0.22">1845</text>
<line x1="206.4" y1="156" x2="206.4" y2="500.42" stroke="#888888" stroke-width="0.9"/>
<line x1="204.6" y1="156.75" x2="208.2" y2="155.25" stroke="#222" stroke-width="0.9"/>
<line x1="204.6" y1="501.17" x2="208.2" y2="499.67" stroke="#222" stroke-width="0.9"/>
<text x="204.8" y="328.21" font-size="7.2" text-anchor="middle" fill="#2a2a2a" font-weight="normal" font-family="Liberation Sans" transform="rotate(-90 204.8 328.21)"  stroke="#2a2a2a" stroke-width="0.22">1092</text>
<line x1="222.4" y1="156" x2="222.4" y2="512.42" stroke="#888888" stroke-width="0.9"/>
<line x1="220.6" y1="156.75" x2="224.2" y2="155.25" stroke="#222" stroke-width="0.9"/>
<line x1="220.6" y1="159.9" x2="224.2" y2="158.4" stroke="#222" stroke-width="0.9"/>
<line x1="220.6" y1="498.01" x2="224.2" y2="496.51" stroke="#222" stroke-width="0.9"/>
<line x1="220.6" y1="501.17" x2="224.2" y2="499.67" stroke="#222" stroke-width="0.9"/>
<text x="220.8" y="157.58" font-size="7.2" text-anchor="middle" fill="#2a2a2a" font-weight="normal" font-family="Liberation Sans" transform="rotate(-90 220.8 157.58)"  stroke="#2a2a2a" stroke-width="0.22">10</text>
<text x="220.8" y="328.21" font-size="7.2" text-anchor="middle" fill="#2a2a2a" font-weight="normal" font-family="Liberation Sans" transform="rotate(-90 220.8 328.21)"  stroke="#2a2a2a" stroke-width="0.22">1072</text>
<text x="220.8" y="503.42" font-size="7.2" text-anchor="end" fill="#2a2a2a" font-weight="normal" font-family="Liberation Sans" transform="rotate(-90 220.8 503.42)"  stroke="#2a2a2a" stroke-width="0.22">10</text>
<line x1="238" y1="156" x2="238" y2="512.42" stroke="#888888" stroke-width="0.9"/>
<line x1="236.2" y1="156.75" x2="239.8" y2="155.25" stroke="#222" stroke-width="0.9"/>
<line x1="236.2" y1="159.9" x2="239.8" y2="158.4" stroke="#222" stroke-width="0.9"/>
<line x1="236.2" y1="173.78" x2="239.8" y2="172.28" stroke="#222" stroke-width="0.9"/>
<line x1="236.2" y1="196.81" x2="239.8" y2="195.31" stroke="#222" stroke-width="0.9"/>
<line x1="236.2" y1="444.08" x2="239.8" y2="442.58" stroke="#222" stroke-width="0.9"/>
<line x1="236.2" y1="498.01" x2="239.8" y2="496.51" stroke="#222" stroke-width="0.9"/>
<line x1="236.2" y1="501.17" x2="239.8" y2="499.67" stroke="#222" stroke-width="0.9"/>
<text x="236.4" y="157.58" font-size="7.2" text-anchor="middle" fill="#2a2a2a" font-weight="normal" font-family="Liberation Sans" transform="rotate(-90 236.4 157.58)"  stroke="#2a2a2a" stroke-width="0.22">10</text>
<text x="236.4" y="166.09" font-size="7.2" text-anchor="middle" fill="#2a2a2a" font-weight="normal" font-family="Liberation Sans" transform="rotate(-90 236.4 166.09)"  stroke="#2a2a2a" stroke-width="0.22">44</text>
<text x="236.4" y="184.54" font-size="7.2" text-anchor="middle" fill="#2a2a2a" font-weight="normal" font-family="Liberation Sans" transform="rotate(-90 236.4 184.54)"  stroke="#2a2a2a" stroke-width="0.22">73</text>
<text x="236.4" y="319.69" font-size="7.2" text-anchor="middle" fill="#2a2a2a" font-weight="normal" font-family="Liberation Sans" transform="rotate(-90 236.4 319.69)"  stroke="#2a2a2a" stroke-width="0.22">784</text>
<text x="236.4" y="470.3" font-size="7.2" text-anchor="middle" fill="#2a2a2a" font-weight="normal" font-family="Liberation Sans" transform="rotate(-90 236.4 470.3)"  stroke="#2a2a2a" stroke-width="0.22">171</text>
<text x="236.4" y="503.42" font-size="7.2" text-anchor="end" fill="#2a2a2a" font-weight="normal" font-family="Liberation Sans" transform="rotate(-90 236.4 503.42)"  stroke="#2a2a2a" stroke-width="0.22">10</text>
<line x1="253.8" y1="156" x2="253.8" y2="512.42" stroke="#888888" stroke-width="0.9"/>
<line x1="252" y1="156.75" x2="255.6" y2="155.25" stroke="#222" stroke-width="0.9"/>
<line x1="252" y1="159.9" x2="255.6" y2="158.4" stroke="#222" stroke-width="0.9"/>
<line x1="252" y1="173.78" x2="255.6" y2="172.28" stroke="#222" stroke-width="0.9"/>
<line x1="252" y1="196.81" x2="255.6" y2="195.31" stroke="#222" stroke-width="0.9"/>
<line x1="252" y1="204.69" x2="255.6" y2="203.19" stroke="#222" stroke-width="0.9"/>
<line x1="252" y1="249.79" x2="255.6" y2="248.29" stroke="#222" stroke-width="0.9"/>
<line x1="252" y1="252.95" x2="255.6" y2="251.45" stroke="#222" stroke-width="0.9"/>
<line x1="252" y1="436.19" x2="255.6" y2="434.69" stroke="#222" stroke-width="0.9"/>
<line x1="252" y1="444.08" x2="255.6" y2="442.58" stroke="#222" stroke-width="0.9"/>
<line x1="252" y1="498.01" x2="255.6" y2="496.51" stroke="#222" stroke-width="0.9"/>
<line x1="252" y1="501.17" x2="255.6" y2="499.67" stroke="#222" stroke-width="0.9"/>
<text x="252.2" y="157.58" font-size="7.2" text-anchor="middle" fill="#2a2a2a" font-weight="normal" font-family="Liberation Sans" transform="rotate(-90 252.2 157.58)"  stroke="#2a2a2a" stroke-width="0.22">10</text>
<text x="252.2" y="166.09" font-size="7.2" text-anchor="middle" fill="#2a2a2a" font-weight="normal" font-family="Liberation Sans" transform="rotate(-90 252.2 166.09)"  stroke="#2a2a2a" stroke-width="0.22">44</text>
<text x="252.2" y="184.54" font-size="7.2" text-anchor="middle" fill="#2a2a2a" font-weight="normal" font-family="Liberation Sans" transform="rotate(-90 252.2 184.54)"  stroke="#2a2a2a" stroke-width="0.22">73</text>
<text x="252.2" y="200" font-size="7.2" text-anchor="middle" fill="#2a2a2a" font-weight="normal" font-family="Liberation Sans" transform="rotate(-90 252.2 200)"  stroke="#2a2a2a" stroke-width="0.22">25</text>
<text x="252.2" y="226.49" font-size="7.2" text-anchor="middle" fill="#2a2a2a" font-weight="normal" font-family="Liberation Sans" transform="rotate(-90 252.2 226.49)"  stroke="#2a2a2a" stroke-width="0.22">143</text>
<text x="252.2" y="250.62" font-size="7.2" text-anchor="middle" fill="#2a2a2a" font-weight="normal" font-family="Liberation Sans" transform="rotate(-90 252.2 250.62)"  stroke="#2a2a2a" stroke-width="0.22">10</text>
<text x="252.2" y="343.82" font-size="7.2" text-anchor="middle" fill="#2a2a2a" font-weight="normal" font-family="Liberation Sans" transform="rotate(-90 252.2 343.82)"  stroke="#2a2a2a" stroke-width="0.22">581</text>
<text x="252.2" y="439.39" font-size="7.2" text-anchor="middle" fill="#2a2a2a" font-weight="normal" font-family="Liberation Sans" transform="rotate(-90 252.2 439.39)"  stroke="#2a2a2a" stroke-width="0.22">25</text>
<text x="252.2" y="470.3" font-size="7.2" text-anchor="middle" fill="#2a2a2a" font-weight="normal" font-family="Liberation Sans" transform="rotate(-90 252.2 470.3)"  stroke="#2a2a2a" stroke-width="0.22">171</text>
<text x="252.2" y="503.42" font-size="7.2" text-anchor="end" fill="#2a2a2a" font-weight="normal" font-family="Liberation Sans" transform="rotate(-90 252.2 503.42)"  stroke="#2a2a2a" stroke-width="0.22">10</text>
<line x1="269.8" y1="156" x2="269.8" y2="512.42" stroke="#888888" stroke-width="0.9"/>
<line x1="268" y1="156.75" x2="271.6" y2="155.25" stroke="#222" stroke-width="0.9"/>
<line x1="268" y1="159.9" x2="271.6" y2="158.4" stroke="#222" stroke-width="0.9"/>
<line x1="268" y1="173.78" x2="271.6" y2="172.28" stroke="#222" stroke-width="0.9"/>
<line x1="268" y1="196.81" x2="271.6" y2="195.31" stroke="#222" stroke-width="0.9"/>
<line x1="268" y1="220.46" x2="271.6" y2="218.96" stroke="#222" stroke-width="0.9"/>
<line x1="268" y1="239.38" x2="271.6" y2="237.88" stroke="#222" stroke-width="0.9"/>
<line x1="268" y1="312.56" x2="271.6" y2="311.06" stroke="#222" stroke-width="0.9"/>
<line x1="268" y1="356.71" x2="271.6" y2="355.21" stroke="#222" stroke-width="0.9"/>
<line x1="268" y1="444.08" x2="271.6" y2="442.58" stroke="#222" stroke-width="0.9"/>
<line x1="268" y1="458.27" x2="271.6" y2="456.77" stroke="#222" stroke-width="0.9"/>
<line x1="268" y1="498.01" x2="271.6" y2="496.51" stroke="#222" stroke-width="0.9"/>
<line x1="268" y1="501.17" x2="271.6" y2="499.67" stroke="#222" stroke-width="0.9"/>
<text x="268.2" y="157.58" font-size="7.2" text-anchor="middle" fill="#2a2a2a" font-weight="normal" font-family="Liberation Sans" transform="rotate(-90 268.2 157.58)"  stroke="#2a2a2a" stroke-width="0.22">10</text>
<text x="268.2" y="166.09" font-size="7.2" text-anchor="middle" fill="#2a2a2a" font-weight="normal" font-family="Liberation Sans" transform="rotate(-90 268.2 166.09)"  stroke="#2a2a2a" stroke-width="0.22">44</text>
<text x="268.2" y="184.54" font-size="7.2" text-anchor="middle" fill="#2a2a2a" font-weight="normal" font-family="Liberation Sans" transform="rotate(-90 268.2 184.54)"  stroke="#2a2a2a" stroke-width="0.22">73</text>
<text x="268.2" y="207.88" font-size="7.2" text-anchor="middle" fill="#2a2a2a" font-weight="normal" font-family="Liberation Sans" transform="rotate(-90 268.2 207.88)"  stroke="#2a2a2a" stroke-width="0.22">75</text>
<text x="268.2" y="229.17" font-size="7.2" text-anchor="middle" fill="#2a2a2a" font-weight="normal" font-family="Liberation Sans" transform="rotate(-90 268.2 229.17)"  stroke="#2a2a2a" stroke-width="0.22">60</text>
<text x="268.2" y="275.22" font-size="7.2" text-anchor="middle" fill="#2a2a2a" font-weight="normal" font-family="Liberation Sans" transform="rotate(-90 268.2 275.22)"  stroke="#2a2a2a" stroke-width="0.22">232</text>
<text x="268.2" y="333.89" font-size="7.2" text-anchor="middle" fill="#2a2a2a" font-weight="normal" font-family="Liberation Sans" transform="rotate(-90 268.2 333.89)"  stroke="#2a2a2a" stroke-width="0.22">140</text>
<text x="268.2" y="399.65" font-size="7.2" text-anchor="middle" fill="#2a2a2a" font-weight="normal" font-family="Liberation Sans" transform="rotate(-90 268.2 399.65)"  stroke="#2a2a2a" stroke-width="0.22">277</text>
<text x="268.2" y="450.43" font-size="7.2" text-anchor="middle" fill="#2a2a2a" font-weight="normal" font-family="Liberation Sans" transform="rotate(-90 268.2 450.43)"  stroke="#2a2a2a" stroke-width="0.22">45</text>
<text x="268.2" y="477.39" font-size="7.2" text-anchor="middle" fill="#2a2a2a" font-weight="normal" font-family="Liberation Sans" transform="rotate(-90 268.2 477.39)"  stroke="#2a2a2a" stroke-width="0.22">126</text>
<text x="268.2" y="503.42" font-size="7.2" text-anchor="end" fill="#2a2a2a" font-weight="normal" font-family="Liberation Sans" transform="rotate(-90 268.2 503.42)"  stroke="#2a2a2a" stroke-width="0.22">10</text>
<line x1="285.8" y1="156" x2="285.8" y2="500.42" stroke="#888888" stroke-width="0.9"/>
<line x1="284" y1="156.75" x2="287.6" y2="155.25" stroke="#222" stroke-width="0.9"/>
<line x1="284" y1="159.9" x2="287.6" y2="158.4" stroke="#222" stroke-width="0.9"/>
<line x1="284" y1="173.78" x2="287.6" y2="172.28" stroke="#222" stroke-width="0.9"/>
<line x1="284" y1="181.67" x2="287.6" y2="180.17" stroke="#222" stroke-width="0.9"/>
<line x1="284" y1="196.81" x2="287.6" y2="195.31" stroke="#222" stroke-width="0.9"/>
<line x1="284" y1="204.69" x2="287.6" y2="203.19" stroke="#222" stroke-width="0.9"/>
<line x1="284" y1="239.38" x2="287.6" y2="237.88" stroke="#222" stroke-width="0.9"/>
<line x1="284" y1="247.27" x2="287.6" y2="245.77" stroke="#222" stroke-width="0.9"/>
<line x1="284" y1="275.02" x2="287.6" y2="273.52" stroke="#222" stroke-width="0.9"/>
<line x1="284" y1="290.8" x2="287.6" y2="289.3" stroke="#222" stroke-width="0.9"/>
<line x1="284" y1="357.03" x2="287.6" y2="355.53" stroke="#222" stroke-width="0.9"/>
<line x1="284" y1="364.91" x2="287.6" y2="363.41" stroke="#222" stroke-width="0.9"/>
<line x1="284" y1="436.51" x2="287.6" y2="435.01" stroke="#222" stroke-width="0.9"/>
<line x1="284" y1="501.17" x2="287.6" y2="499.67" stroke="#222" stroke-width="0.9"/>
<text x="284.2" y="157.58" font-size="7.2" text-anchor="middle" fill="#2a2a2a" font-weight="normal" font-family="Liberation Sans" transform="rotate(-90 284.2 157.58)"  stroke="#2a2a2a" stroke-width="0.22">10</text>
<text x="284.2" y="166.09" font-size="7.2" text-anchor="middle" fill="#2a2a2a" font-weight="normal" font-family="Liberation Sans" transform="rotate(-90 284.2 166.09)"  stroke="#2a2a2a" stroke-width="0.22">44</text>
<text x="284.2" y="176.97" font-size="7.2" text-anchor="middle" fill="#2a2a2a" font-weight="normal" font-family="Liberation Sans" transform="rotate(-90 284.2 176.97)"  stroke="#2a2a2a" stroke-width="0.22">25</text>
<text x="284.2" y="188.49" font-size="7.2" text-anchor="middle" fill="#2a2a2a" font-weight="normal" font-family="Liberation Sans" transform="rotate(-90 284.2 188.49)"  stroke="#2a2a2a" stroke-width="0.22">48</text>
<text x="284.2" y="200" font-size="7.2" text-anchor="middle" fill="#2a2a2a" font-weight="normal" font-family="Liberation Sans" transform="rotate(-90 284.2 200)"  stroke="#2a2a2a" stroke-width="0.22">25</text>
<text x="284.2" y="221.29" font-size="7.2" text-anchor="middle" fill="#2a2a2a" font-weight="normal" font-family="Liberation Sans" transform="rotate(-90 284.2 221.29)"  stroke="#2a2a2a" stroke-width="0.22">110</text>
<text x="284.2" y="242.58" font-size="7.2" text-anchor="middle" fill="#2a2a2a" font-weight="normal" font-family="Liberation Sans" transform="rotate(-90 284.2 242.58)"  stroke="#2a2a2a" stroke-width="0.22">25</text>
<text x="284.2" y="260.4" font-size="7.2" text-anchor="middle" fill="#2a2a2a" font-weight="normal" font-family="Liberation Sans" transform="rotate(-90 284.2 260.4)"  stroke="#2a2a2a" stroke-width="0.22">88</text>
<text x="284.2" y="282.16" font-size="7.2" text-anchor="middle" fill="#2a2a2a" font-weight="normal" font-family="Liberation Sans" transform="rotate(-90 284.2 282.16)"  stroke="#2a2a2a" stroke-width="0.22">50</text>
<text x="284.2" y="323.16" font-size="7.2" text-anchor="middle" fill="#2a2a2a" font-weight="normal" font-family="Liberation Sans" transform="rotate(-90 284.2 323.16)"  stroke="#2a2a2a" stroke-width="0.22">210</text>
<text x="284.2" y="360.22" font-size="7.2" text-anchor="middle" fill="#2a2a2a" font-weight="normal" font-family="Liberation Sans" transform="rotate(-90 284.2 360.22)"  stroke="#2a2a2a" stroke-width="0.22">25</text>
<text x="284.2" y="399.96" font-size="7.2" text-anchor="middle" fill="#2a2a2a" font-weight="normal" font-family="Liberation Sans" transform="rotate(-90 284.2 399.96)"  stroke="#2a2a2a" stroke-width="0.22">227</text>
<line x1="284" y1="449.45" x2="287.6" y2="447.95" stroke="#222" stroke-width="0.9"/>
<line x1="284" y1="461.65" x2="287.6" y2="460.15" stroke="#222" stroke-width="0.9"/>
<line x1="284" y1="471.25" x2="287.6" y2="469.75" stroke="#222" stroke-width="0.9"/>
<line x1="284" y1="483.35" x2="287.6" y2="481.85" stroke="#222" stroke-width="0.9"/>
<line x1="284" y1="496.35" x2="287.6" y2="494.85" stroke="#222" stroke-width="0.9"/>
<text x="284.2" y="438.8" font-size="7.2" text-anchor="middle" fill="#2a2a2a" font-weight="normal" font-family="Liberation Sans" transform="rotate(-90 284.2 438.8)"  stroke="#2a2a2a" stroke-width="0.22">25</text>
<text x="284.2" y="451.5" font-size="7.2" text-anchor="middle" fill="#2a2a2a" font-weight="normal" font-family="Liberation Sans" transform="rotate(-90 284.2 451.5)"  stroke="#2a2a2a" stroke-width="0.22">25</text>
<text x="284.2" y="463.8" font-size="7.2" text-anchor="middle" fill="#2a2a2a" font-weight="normal" font-family="Liberation Sans" transform="rotate(-90 284.2 463.8)"  stroke="#2a2a2a" stroke-width="0.22">45</text>
<text x="284.2" y="472.4" font-size="7.2" text-anchor="middle" fill="#2a2a2a" font-weight="normal" font-family="Liberation Sans" transform="rotate(-90 284.2 472.4)"  stroke="#2a2a2a" stroke-width="0.22">25</text>
<text x="284.2" y="479.4" font-size="7.2" text-anchor="middle" fill="#2a2a2a" font-weight="normal" font-family="Liberation Sans" transform="rotate(-90 284.2 479.4)"  stroke="#2a2a2a" stroke-width="0.22">31</text>
<text x="284.2" y="491.4" font-size="7.2" text-anchor="middle" fill="#2a2a2a" font-weight="normal" font-family="Liberation Sans" transform="rotate(-90 284.2 491.4)"  stroke="#2a2a2a" stroke-width="0.22">25</text>
<text x="294.5" y="440" font-size="7.2" text-anchor="middle" fill="#2a2a2a" font-weight="normal" font-family="Liberation Sans" transform="rotate(-90 294.5 440)"  stroke="#2a2a2a" stroke-width="0.22">20</text>
<path d="M297.8 435.3 V446 H285.6" fill="none" stroke="#777" stroke-width="0.6"/>
<line x1="1075.4" y1="156" x2="1075.4" y2="500.42" stroke="#888888" stroke-width="0.9"/>
<line x1="1073.6" y1="156.75" x2="1077.2" y2="155.25" stroke="#222" stroke-width="0.9"/>
<line x1="1073.6" y1="501.17" x2="1077.2" y2="499.67" stroke="#222" stroke-width="0.9"/>
<text x="1073.8" y="328.21" font-size="7.2" text-anchor="middle" fill="#2a2a2a" font-weight="normal" font-family="Liberation Sans" transform="rotate(-90 1073.8 328.21)"  stroke="#2a2a2a" stroke-width="0.22">1092</text>
<line x1="1059.4" y1="144" x2="1059.4" y2="512.42" stroke="#888888" stroke-width="0.9"/>
<line x1="1057.6" y1="156.75" x2="1061.2" y2="155.25" stroke="#222" stroke-width="0.9"/>
<line x1="1057.6" y1="159.9" x2="1061.2" y2="158.4" stroke="#222" stroke-width="0.9"/>
<line x1="1057.6" y1="498.01" x2="1061.2" y2="496.51" stroke="#222" stroke-width="0.9"/>
<line x1="1057.6" y1="501.17" x2="1061.2" y2="499.67" stroke="#222" stroke-width="0.9"/>
<text x="1057.8" y="153" font-size="7.2" text-anchor="start" fill="#2a2a2a" font-weight="normal" font-family="Liberation Sans" transform="rotate(-90 1057.8 153)"  stroke="#2a2a2a" stroke-width="0.22">10</text>
<text x="1057.8" y="328.21" font-size="7.2" text-anchor="middle" fill="#2a2a2a" font-weight="normal" font-family="Liberation Sans" transform="rotate(-90 1057.8 328.21)"  stroke="#2a2a2a" stroke-width="0.22">1072</text>
<text x="1057.8" y="503.42" font-size="7.2" text-anchor="end" fill="#2a2a2a" font-weight="normal" font-family="Liberation Sans" transform="rotate(-90 1057.8 503.42)"  stroke="#2a2a2a" stroke-width="0.22">10</text>
<line x1="1043.6" y1="144" x2="1043.6" y2="512.42" stroke="#888888" stroke-width="0.9"/>
<line x1="1041.8" y1="156.75" x2="1045.4" y2="155.25" stroke="#222" stroke-width="0.9"/>
<line x1="1041.8" y1="159.9" x2="1045.4" y2="158.4" stroke="#222" stroke-width="0.9"/>
<line x1="1041.8" y1="182.61" x2="1045.4" y2="181.11" stroke="#222" stroke-width="0.9"/>
<line x1="1041.8" y1="435.56" x2="1045.4" y2="434.06" stroke="#222" stroke-width="0.9"/>
<line x1="1041.8" y1="498.01" x2="1045.4" y2="496.51" stroke="#222" stroke-width="0.9"/>
<line x1="1041.8" y1="501.17" x2="1045.4" y2="499.67" stroke="#222" stroke-width="0.9"/>
<text x="1042" y="153" font-size="7.2" text-anchor="start" fill="#2a2a2a" font-weight="normal" font-family="Liberation Sans" transform="rotate(-90 1042 153)"  stroke="#2a2a2a" stroke-width="0.22">10</text>
<text x="1042" y="170.51" font-size="7.2" text-anchor="middle" fill="#2a2a2a" font-weight="normal" font-family="Liberation Sans" transform="rotate(-90 1042 170.51)"  stroke="#2a2a2a" stroke-width="0.22">72</text>
<text x="1042" y="308.34" font-size="7.2" text-anchor="middle" fill="#2a2a2a" font-weight="normal" font-family="Liberation Sans" transform="rotate(-90 1042 308.34)"  stroke="#2a2a2a" stroke-width="0.22">802</text>
<text x="1042" y="466.04" font-size="7.2" text-anchor="middle" fill="#2a2a2a" font-weight="normal" font-family="Liberation Sans" transform="rotate(-90 1042 466.04)"  stroke="#2a2a2a" stroke-width="0.22">198</text>
<text x="1042" y="503.42" font-size="7.2" text-anchor="end" fill="#2a2a2a" font-weight="normal" font-family="Liberation Sans" transform="rotate(-90 1042 503.42)"  stroke="#2a2a2a" stroke-width="0.22">10</text>
<line x1="1027.8" y1="144" x2="1027.8" y2="512.42" stroke="#888888" stroke-width="0.9"/>
<line x1="1026" y1="156.75" x2="1029.6" y2="155.25" stroke="#222" stroke-width="0.9"/>
<line x1="1026" y1="159.9" x2="1029.6" y2="158.4" stroke="#222" stroke-width="0.9"/>
<line x1="1026" y1="182.61" x2="1029.6" y2="181.11" stroke="#222" stroke-width="0.9"/>
<line x1="1026" y1="190.5" x2="1029.6" y2="189" stroke="#222" stroke-width="0.9"/>
<line x1="1026" y1="235.6" x2="1029.6" y2="234.1" stroke="#222" stroke-width="0.9"/>
<line x1="1026" y1="238.75" x2="1029.6" y2="237.25" stroke="#222" stroke-width="0.9"/>
<line x1="1026" y1="427.68" x2="1029.6" y2="426.18" stroke="#222" stroke-width="0.9"/>
<line x1="1026" y1="435.56" x2="1029.6" y2="434.06" stroke="#222" stroke-width="0.9"/>
<line x1="1026" y1="498.01" x2="1029.6" y2="496.51" stroke="#222" stroke-width="0.9"/>
<line x1="1026" y1="501.17" x2="1029.6" y2="499.67" stroke="#222" stroke-width="0.9"/>
<text x="1026.2" y="153" font-size="7.2" text-anchor="start" fill="#2a2a2a" font-weight="normal" font-family="Liberation Sans" transform="rotate(-90 1026.2 153)"  stroke="#2a2a2a" stroke-width="0.22">10</text>
<text x="1026.2" y="170.51" font-size="7.2" text-anchor="middle" fill="#2a2a2a" font-weight="normal" font-family="Liberation Sans" transform="rotate(-90 1026.2 170.51)"  stroke="#2a2a2a" stroke-width="0.22">72</text>
<text x="1026.2" y="185.81" font-size="7.2" text-anchor="middle" fill="#2a2a2a" font-weight="normal" font-family="Liberation Sans" transform="rotate(-90 1026.2 185.81)"  stroke="#2a2a2a" stroke-width="0.22">25</text>
<text x="1026.2" y="212.3" font-size="7.2" text-anchor="middle" fill="#2a2a2a" font-weight="normal" font-family="Liberation Sans" transform="rotate(-90 1026.2 212.3)"  stroke="#2a2a2a" stroke-width="0.22">143</text>
<text x="1026.2" y="236.43" font-size="7.2" text-anchor="middle" fill="#2a2a2a" font-weight="normal" font-family="Liberation Sans" transform="rotate(-90 1026.2 236.43)"  stroke="#2a2a2a" stroke-width="0.22">10</text>
<text x="1026.2" y="332.47" font-size="7.2" text-anchor="middle" fill="#2a2a2a" font-weight="normal" font-family="Liberation Sans" transform="rotate(-90 1026.2 332.47)"  stroke="#2a2a2a" stroke-width="0.22">599</text>
<text x="1026.2" y="430.87" font-size="7.2" text-anchor="middle" fill="#2a2a2a" font-weight="normal" font-family="Liberation Sans" transform="rotate(-90 1026.2 430.87)"  stroke="#2a2a2a" stroke-width="0.22">25</text>
<text x="1026.2" y="466.04" font-size="7.2" text-anchor="middle" fill="#2a2a2a" font-weight="normal" font-family="Liberation Sans" transform="rotate(-90 1026.2 466.04)"  stroke="#2a2a2a" stroke-width="0.22">198</text>
<text x="1026.2" y="503.42" font-size="7.2" text-anchor="end" fill="#2a2a2a" font-weight="normal" font-family="Liberation Sans" transform="rotate(-90 1026.2 503.42)"  stroke="#2a2a2a" stroke-width="0.22">10</text>
<line x1="1012.3" y1="144" x2="1012.3" y2="512.42" stroke="#888888" stroke-width="0.9"/>
<line x1="1010.5" y1="156.75" x2="1014.1" y2="155.25" stroke="#222" stroke-width="0.9"/>
<line x1="1010.5" y1="159.9" x2="1014.1" y2="158.4" stroke="#222" stroke-width="0.9"/>
<line x1="1010.5" y1="182.61" x2="1014.1" y2="181.11" stroke="#222" stroke-width="0.9"/>
<line x1="1010.5" y1="208.79" x2="1014.1" y2="207.29" stroke="#222" stroke-width="0.9"/>
<line x1="1010.5" y1="227.72" x2="1014.1" y2="226.22" stroke="#222" stroke-width="0.9"/>
<line x1="1010.5" y1="279.13" x2="1014.1" y2="277.63" stroke="#222" stroke-width="0.9"/>
<line x1="1010.5" y1="323.28" x2="1014.1" y2="321.78" stroke="#222" stroke-width="0.9"/>
<line x1="1010.5" y1="435.88" x2="1014.1" y2="434.38" stroke="#222" stroke-width="0.9"/>
<line x1="1010.5" y1="458.59" x2="1014.1" y2="457.09" stroke="#222" stroke-width="0.9"/>
<line x1="1010.5" y1="498.01" x2="1014.1" y2="496.51" stroke="#222" stroke-width="0.9"/>
<line x1="1010.5" y1="501.17" x2="1014.1" y2="499.67" stroke="#222" stroke-width="0.9"/>
<text x="1010.7" y="153" font-size="7.2" text-anchor="start" fill="#2a2a2a" font-weight="normal" font-family="Liberation Sans" transform="rotate(-90 1010.7 153)"  stroke="#2a2a2a" stroke-width="0.22">10</text>
<text x="1010.7" y="170.51" font-size="7.2" text-anchor="middle" fill="#2a2a2a" font-weight="normal" font-family="Liberation Sans" transform="rotate(-90 1010.7 170.51)"  stroke="#2a2a2a" stroke-width="0.22">72</text>
<text x="1010.7" y="194.95" font-size="7.2" text-anchor="middle" fill="#2a2a2a" font-weight="normal" font-family="Liberation Sans" transform="rotate(-90 1010.7 194.95)"  stroke="#2a2a2a" stroke-width="0.22">83</text>
<text x="1010.7" y="217.5" font-size="7.2" text-anchor="middle" fill="#2a2a2a" font-weight="normal" font-family="Liberation Sans" transform="rotate(-90 1010.7 217.5)"  stroke="#2a2a2a" stroke-width="0.22">60</text>
<text x="1010.7" y="252.67" font-size="7.2" text-anchor="middle" fill="#2a2a2a" font-weight="normal" font-family="Liberation Sans" transform="rotate(-90 1010.7 252.67)"  stroke="#2a2a2a" stroke-width="0.22">163</text>
<text x="1010.7" y="300.45" font-size="7.2" text-anchor="middle" fill="#2a2a2a" font-weight="normal" font-family="Liberation Sans" transform="rotate(-90 1010.7 300.45)"  stroke="#2a2a2a" stroke-width="0.22">140</text>
<text x="1010.7" y="378.83" font-size="7.2" text-anchor="middle" fill="#2a2a2a" font-weight="normal" font-family="Liberation Sans" transform="rotate(-90 1010.7 378.83)"  stroke="#2a2a2a" stroke-width="0.22">357</text>
<text x="1010.7" y="446.48" font-size="7.2" text-anchor="middle" fill="#2a2a2a" font-weight="normal" font-family="Liberation Sans" transform="rotate(-90 1010.7 446.48)"  stroke="#2a2a2a" stroke-width="0.22">72</text>
<text x="1010.7" y="477.55" font-size="7.2" text-anchor="middle" fill="#2a2a2a" font-weight="normal" font-family="Liberation Sans" transform="rotate(-90 1010.7 477.55)"  stroke="#2a2a2a" stroke-width="0.22">126</text>
<text x="1010.7" y="503.42" font-size="7.2" text-anchor="end" fill="#2a2a2a" font-weight="normal" font-family="Liberation Sans" transform="rotate(-90 1010.7 503.42)"  stroke="#2a2a2a" stroke-width="0.22">10</text>
<text x="985.5" y="478.5" font-size="6.8" text-anchor="middle" fill="#2a2a2a" font-weight="normal" font-family="Liberation Sans" transform="rotate(-90 985.5 478.5)"  stroke="#2a2a2a" stroke-width="0.22">22</text>
<path d="M986.8 471 V487.5 H993.5" fill="none" stroke="#777" stroke-width="0.6"/>
<line x1="996.3" y1="144" x2="996.3" y2="512.42" stroke="#888888" stroke-width="0.9"/>
<line x1="994.5" y1="156.75" x2="998.1" y2="155.25" stroke="#222" stroke-width="0.9"/>
<line x1="994.5" y1="159.9" x2="998.1" y2="158.4" stroke="#222" stroke-width="0.9"/>
<line x1="994.5" y1="167.79" x2="998.1" y2="166.29" stroke="#222" stroke-width="0.9"/>
<line x1="994.5" y1="182.61" x2="998.1" y2="181.11" stroke="#222" stroke-width="0.9"/>
<line x1="994.5" y1="190.5" x2="998.1" y2="189" stroke="#222" stroke-width="0.9"/>
<line x1="994.5" y1="227.72" x2="998.1" y2="226.22" stroke="#222" stroke-width="0.9"/>
<line x1="994.5" y1="235.6" x2="998.1" y2="234.1" stroke="#222" stroke-width="0.9"/>
<line x1="994.5" y1="263.36" x2="998.1" y2="261.86" stroke="#222" stroke-width="0.9"/>
<line x1="994.5" y1="279.13" x2="998.1" y2="277.63" stroke="#222" stroke-width="0.9"/>
<line x1="994.5" y1="323.28" x2="998.1" y2="321.78" stroke="#222" stroke-width="0.9"/>
<line x1="994.5" y1="331.17" x2="998.1" y2="329.67" stroke="#222" stroke-width="0.9"/>
<line x1="994.5" y1="372.48" x2="998.1" y2="370.98" stroke="#222" stroke-width="0.9"/>
<line x1="994.5" y1="380.37" x2="998.1" y2="378.87" stroke="#222" stroke-width="0.9"/>
<line x1="994.5" y1="427.68" x2="998.1" y2="426.18" stroke="#222" stroke-width="0.9"/>
<line x1="994.5" y1="435.56" x2="998.1" y2="434.06" stroke="#222" stroke-width="0.9"/>
<line x1="994.5" y1="450.39" x2="998.1" y2="448.89" stroke="#222" stroke-width="0.9"/>
<line x1="994.5" y1="458.27" x2="998.1" y2="456.77" stroke="#222" stroke-width="0.9"/>
<line x1="994.5" y1="475.3" x2="998.1" y2="473.8" stroke="#222" stroke-width="0.9"/>
<line x1="994.5" y1="483.19" x2="998.1" y2="481.69" stroke="#222" stroke-width="0.9"/>
<line x1="994.5" y1="490.13" x2="998.1" y2="488.63" stroke="#222" stroke-width="0.9"/>
<line x1="994.5" y1="498.01" x2="998.1" y2="496.51" stroke="#222" stroke-width="0.9"/>
<line x1="994.5" y1="501.17" x2="998.1" y2="499.67" stroke="#222" stroke-width="0.9"/>
<text x="994.7" y="153" font-size="7.2" text-anchor="start" fill="#2a2a2a" font-weight="normal" font-family="Liberation Sans" transform="rotate(-90 994.7 153)"  stroke="#2a2a2a" stroke-width="0.22">10</text>
<text x="994.7" y="163.1" font-size="7.2" text-anchor="middle" fill="#2a2a2a" font-weight="normal" font-family="Liberation Sans" transform="rotate(-90 994.7 163.1)"  stroke="#2a2a2a" stroke-width="0.22">25</text>
<text x="994.7" y="174.45" font-size="7.2" text-anchor="middle" fill="#2a2a2a" font-weight="normal" font-family="Liberation Sans" transform="rotate(-90 994.7 174.45)"  stroke="#2a2a2a" stroke-width="0.22">47</text>
<text x="994.7" y="185.81" font-size="7.2" text-anchor="middle" fill="#2a2a2a" font-weight="normal" font-family="Liberation Sans" transform="rotate(-90 994.7 185.81)"  stroke="#2a2a2a" stroke-width="0.22">25</text>
<text x="994.7" y="208.36" font-size="7.2" text-anchor="middle" fill="#2a2a2a" font-weight="normal" font-family="Liberation Sans" transform="rotate(-90 994.7 208.36)"  stroke="#2a2a2a" stroke-width="0.22">118</text>
<text x="994.7" y="230.91" font-size="7.2" text-anchor="middle" fill="#2a2a2a" font-weight="normal" font-family="Liberation Sans" transform="rotate(-90 994.7 230.91)"  stroke="#2a2a2a" stroke-width="0.22">25</text>
<text x="994.7" y="248.73" font-size="7.2" text-anchor="middle" fill="#2a2a2a" font-weight="normal" font-family="Liberation Sans" transform="rotate(-90 994.7 248.73)"  stroke="#2a2a2a" stroke-width="0.22">88</text>
<text x="994.7" y="270.49" font-size="7.2" text-anchor="middle" fill="#2a2a2a" font-weight="normal" font-family="Liberation Sans" transform="rotate(-90 994.7 270.49)"  stroke="#2a2a2a" stroke-width="0.22">50</text>
<text x="994.7" y="300.45" font-size="7.2" text-anchor="middle" fill="#2a2a2a" font-weight="normal" font-family="Liberation Sans" transform="rotate(-90 994.7 300.45)"  stroke="#2a2a2a" stroke-width="0.22">140</text>
<text x="994.7" y="326.47" font-size="7.2" text-anchor="middle" fill="#2a2a2a" font-weight="normal" font-family="Liberation Sans" transform="rotate(-90 994.7 326.47)"  stroke="#2a2a2a" stroke-width="0.22">25</text>
<text x="994.7" y="351.07" font-size="7.2" text-anchor="middle" fill="#2a2a2a" font-weight="normal" font-family="Liberation Sans" transform="rotate(-90 994.7 351.07)"  stroke="#2a2a2a" stroke-width="0.22">131</text>
<text x="994.7" y="375.68" font-size="7.2" text-anchor="middle" fill="#2a2a2a" font-weight="normal" font-family="Liberation Sans" transform="rotate(-90 994.7 375.68)"  stroke="#2a2a2a" stroke-width="0.22">25</text>
<text x="994.7" y="403.27" font-size="7.2" text-anchor="middle" fill="#2a2a2a" font-weight="normal" font-family="Liberation Sans" transform="rotate(-90 994.7 403.27)"  stroke="#2a2a2a" stroke-width="0.22">150</text>
<text x="994.7" y="430.87" font-size="7.2" text-anchor="middle" fill="#2a2a2a" font-weight="normal" font-family="Liberation Sans" transform="rotate(-90 994.7 430.87)"  stroke="#2a2a2a" stroke-width="0.22">25</text>
<text x="994.7" y="442.23" font-size="7.2" text-anchor="middle" fill="#2a2a2a" font-weight="normal" font-family="Liberation Sans" transform="rotate(-90 994.7 442.23)"  stroke="#2a2a2a" stroke-width="0.22">47</text>
<text x="994.7" y="453.58" font-size="7.2" text-anchor="middle" fill="#2a2a2a" font-weight="normal" font-family="Liberation Sans" transform="rotate(-90 994.7 453.58)"  stroke="#2a2a2a" stroke-width="0.22">25</text>
<text x="994.7" y="466.04" font-size="7.2" text-anchor="middle" fill="#2a2a2a" font-weight="normal" font-family="Liberation Sans" transform="rotate(-90 994.7 466.04)"  stroke="#2a2a2a" stroke-width="0.22">54</text>
<text x="994.7" y="478.5" font-size="7.2" text-anchor="middle" fill="#2a2a2a" font-weight="normal" font-family="Liberation Sans" transform="rotate(-90 994.7 478.5)"  stroke="#2a2a2a" stroke-width="0.22">25</text>
<text x="994.7" y="493.32" font-size="7.2" text-anchor="middle" fill="#2a2a2a" font-weight="normal" font-family="Liberation Sans" transform="rotate(-90 994.7 493.32)"  stroke="#2a2a2a" stroke-width="0.22">25</text>
<text x="994.7" y="503.42" font-size="7.2" text-anchor="end" fill="#2a2a2a" font-weight="normal" font-family="Liberation Sans" transform="rotate(-90 994.7 503.42)"  stroke="#2a2a2a" stroke-width="0.22">10</text>
<circle cx="1040.5" cy="226" r="3" fill="#e0893a"/>
<rect x="346.5" y="482.3" width="106.7" height="170" fill="#ffffff" stroke="#666" stroke-width="1" />
<rect x="352" y="486.8" width="95.7" height="160" fill="#9fd4e4" stroke="none" stroke-width="1" />
<rect x="357.5" y="491.8" width="85.2" height="150" fill="#b4e1ee" stroke="none" stroke-width="1" />
<rect x="512.3" y="535.6" width="170.1" height="106.4" fill="#ffffff" stroke="#666" stroke-width="1" />
<rect x="517.8" y="540.1" width="159.1" height="96.4" fill="#9fd4e4" stroke="none" stroke-width="1" />
<rect x="523.3" y="545.1" width="148.6" height="86.4" fill="#b4e1ee" stroke="none" stroke-width="1" />
<rect x="775.8" y="532.6" width="170.4" height="107.2" fill="#ffffff" stroke="#666" stroke-width="1" />
<rect x="781.3" y="537.1" width="159.4" height="97.2" fill="#9fd4e4" stroke="none" stroke-width="1" />
<rect x="786.8" y="542.1" width="148.9" height="87.2" fill="#b4e1ee" stroke="none" stroke-width="1" />
<rect x="242.2" y="762.2" width="247.3" height="137.8" fill="none" stroke="#555" stroke-width="1" />
<line x1="284.4" y1="781.7" x2="284.4" y2="881.5" stroke="#555" stroke-width="1"/>
<line x1="380.5" y1="781.7" x2="380.5" y2="900" stroke="#555" stroke-width="1"/>
<line x1="418" y1="781.7" x2="418" y2="900" stroke="#555" stroke-width="1"/>
<line x1="451.5" y1="781.7" x2="451.5" y2="900" stroke="#555" stroke-width="1"/>
<line x1="242.2" y1="781.7" x2="489.5" y2="781.7" stroke="#666" stroke-width="1.2"/>
<line x1="242.2" y1="795.5" x2="489.5" y2="795.5" stroke="#666" stroke-width="1.2"/>
<line x1="242.2" y1="810" x2="489.5" y2="810" stroke="#666" stroke-width="1.2"/>
<line x1="242.2" y1="824.5" x2="489.5" y2="824.5" stroke="#666" stroke-width="1.2"/>
<line x1="242.2" y1="838.3" x2="489.5" y2="838.3" stroke="#666" stroke-width="1.2"/>
<line x1="242.2" y1="852.7" x2="489.5" y2="852.7" stroke="#666" stroke-width="1.2"/>
<line x1="242.2" y1="867" x2="489.5" y2="867" stroke="#666" stroke-width="1.2"/>
<line x1="242.2" y1="881.5" x2="489.5" y2="881.5" stroke="#666" stroke-width="1.2"/>
<rect x="278.4" y="762.4" width="174.8" height="16.9" fill="#fff" stroke="#2ea84e" stroke-width="4.8" />
<text x="365.8" y="775.4" font-size="11.8" text-anchor="middle" fill="#1a1a1a" font-weight="normal" font-family="Liberation Sans" >C1 - prizemlje</text>
<text x="244.2" y="791.3" font-size="10" text-anchor="start" fill="#1a1a1a" font-weight="normal" font-family="Liberation Sans" stroke="#1a1a1a" stroke-width="0.2">C1_01</text>
<text x="286.4" y="791.3" font-size="10" text-anchor="start" fill="#1a1a1a" font-weight="normal" font-family="Liberation Sans" stroke="#1a1a1a" stroke-width="0.2">spremište</text>
<text x="382.5" y="791.3" font-size="10" text-anchor="start" fill="#1a1a1a" font-weight="normal" font-family="Liberation Sans" stroke="#1a1a1a" stroke-width="0.2">2.55</text>
<text x="420" y="791.3" font-size="10" text-anchor="start" fill="#1a1a1a" font-weight="normal" font-family="Liberation Sans" stroke="#1a1a1a" stroke-width="0.2">1.00</text>
<text x="453.5" y="791.3" font-size="10" text-anchor="start" fill="#1a1a1a" font-weight="normal" font-family="Liberation Sans" stroke="#1a1a1a" stroke-width="0.2">2.55</text>
<text x="244.2" y="805.8" font-size="10" text-anchor="start" fill="#1a1a1a" font-weight="normal" font-family="Liberation Sans" stroke="#1a1a1a" stroke-width="0.2">C1_02</text>
<text x="286.4" y="805.8" font-size="10" text-anchor="start" fill="#1a1a1a" font-weight="normal" font-family="Liberation Sans" stroke="#1a1a1a" stroke-width="0.2">wc</text>
<text x="382.5" y="805.8" font-size="10" text-anchor="start" fill="#1a1a1a" font-weight="normal" font-family="Liberation Sans" stroke="#1a1a1a" stroke-width="0.2">3.20</text>
<text x="420" y="805.8" font-size="10" text-anchor="start" fill="#1a1a1a" font-weight="normal" font-family="Liberation Sans" stroke="#1a1a1a" stroke-width="0.2">1.00</text>
<text x="453.5" y="805.8" font-size="10" text-anchor="start" fill="#1a1a1a" font-weight="normal" font-family="Liberation Sans" stroke="#1a1a1a" stroke-width="0.2">3.20</text>
<text x="244.2" y="820.3" font-size="10" text-anchor="start" fill="#1a1a1a" font-weight="normal" font-family="Liberation Sans" stroke="#1a1a1a" stroke-width="0.2">C1_03</text>
<text x="286.4" y="820.3" font-size="10" text-anchor="start" fill="#1a1a1a" font-weight="normal" font-family="Liberation Sans" stroke="#1a1a1a" stroke-width="0.2">hodnik</text>
<text x="382.5" y="820.3" font-size="10" text-anchor="start" fill="#1a1a1a" font-weight="normal" font-family="Liberation Sans" stroke="#1a1a1a" stroke-width="0.2">2.37</text>
<text x="420" y="820.3" font-size="10" text-anchor="start" fill="#1a1a1a" font-weight="normal" font-family="Liberation Sans" stroke="#1a1a1a" stroke-width="0.2">1.00</text>
<text x="453.5" y="820.3" font-size="10" text-anchor="start" fill="#1a1a1a" font-weight="normal" font-family="Liberation Sans" stroke="#1a1a1a" stroke-width="0.2">2.37</text>
<text x="244.2" y="834.1" font-size="10" text-anchor="start" fill="#1a1a1a" font-weight="normal" font-family="Liberation Sans" stroke="#1a1a1a" stroke-width="0.2">C1_04</text>
<text x="286.4" y="834.1" font-size="10" text-anchor="start" fill="#1a1a1a" font-weight="normal" font-family="Liberation Sans" stroke="#1a1a1a" stroke-width="0.2">d.b./blag/kuhinja</text>
<text x="382.5" y="834.1" font-size="10" text-anchor="start" fill="#1a1a1a" font-weight="normal" font-family="Liberation Sans" stroke="#1a1a1a" stroke-width="0.2">31.61</text>
<text x="420" y="834.1" font-size="10" text-anchor="start" fill="#1a1a1a" font-weight="normal" font-family="Liberation Sans" stroke="#1a1a1a" stroke-width="0.2">1.00</text>
<text x="453.5" y="834.1" font-size="10" text-anchor="start" fill="#1a1a1a" font-weight="normal" font-family="Liberation Sans" stroke="#1a1a1a" stroke-width="0.2">31.61</text>
<text x="244.2" y="848.5" font-size="10" text-anchor="start" fill="#1a1a1a" font-weight="normal" font-family="Liberation Sans" stroke="#1a1a1a" stroke-width="0.2">C1_05</text>
<text x="286.4" y="848.5" font-size="10" text-anchor="start" fill="#1a1a1a" font-weight="normal" font-family="Liberation Sans" stroke="#1a1a1a" stroke-width="0.2">stubište</text>
<text x="382.5" y="848.5" font-size="10" text-anchor="start" fill="#1a1a1a" font-weight="normal" font-family="Liberation Sans" stroke="#1a1a1a" stroke-width="0.2">1.84</text>
<text x="420" y="848.5" font-size="10" text-anchor="start" fill="#1a1a1a" font-weight="normal" font-family="Liberation Sans" stroke="#1a1a1a" stroke-width="0.2">1.00</text>
<text x="453.5" y="848.5" font-size="10" text-anchor="start" fill="#1a1a1a" font-weight="normal" font-family="Liberation Sans" stroke="#1a1a1a" stroke-width="0.2">1.84</text>
<text x="244.2" y="862.8" font-size="10" text-anchor="start" fill="#1a1a1a" font-weight="normal" font-family="Liberation Sans" stroke="#1a1a1a" stroke-width="0.2">C1_06</text>
<text x="286.4" y="862.8" font-size="10" text-anchor="start" fill="#1a1a1a" font-weight="normal" font-family="Liberation Sans" stroke="#1a1a1a" stroke-width="0.2">natkriveni ulaz</text>
<text x="382.5" y="862.8" font-size="10" text-anchor="start" fill="#1a1a1a" font-weight="normal" font-family="Liberation Sans" stroke="#1a1a1a" stroke-width="0.2">3.20</text>
<text x="420" y="862.8" font-size="10" text-anchor="start" fill="#1a1a1a" font-weight="normal" font-family="Liberation Sans" stroke="#1a1a1a" stroke-width="0.2">0.50</text>
<text x="453.5" y="862.8" font-size="10" text-anchor="start" fill="#1a1a1a" font-weight="normal" font-family="Liberation Sans" stroke="#1a1a1a" stroke-width="0.2">1.60</text>
<text x="244.2" y="877.3" font-size="10" text-anchor="start" fill="#1a1a1a" font-weight="normal" font-family="Liberation Sans" stroke="#1a1a1a" stroke-width="0.2">C1_07</text>
<text x="286.4" y="877.3" font-size="10" text-anchor="start" fill="#1a1a1a" font-weight="normal" font-family="Liberation Sans" stroke="#1a1a1a" stroke-width="0.2">natkrivena terasa</text>
<text x="382.5" y="877.3" font-size="10" text-anchor="start" fill="#1a1a1a" font-weight="normal" font-family="Liberation Sans" stroke="#1a1a1a" stroke-width="0.2">6.88</text>
<text x="420" y="877.3" font-size="10" text-anchor="start" fill="#1a1a1a" font-weight="normal" font-family="Liberation Sans" stroke="#1a1a1a" stroke-width="0.2">0.50</text>
<text x="453.5" y="877.3" font-size="10" text-anchor="start" fill="#1a1a1a" font-weight="normal" font-family="Liberation Sans" stroke="#1a1a1a" stroke-width="0.2">3.44</text>
<text x="311.35" y="895" font-size="10.2" text-anchor="middle" fill="#1a1a1a" font-weight="normal" font-family="Liberation Sans" >NETO POVRŠINA [m2]</text>
<text x="382.5" y="895" font-size="10" text-anchor="start" fill="#1a1a1a" font-weight="normal" font-family="Liberation Sans" stroke="#1a1a1a" stroke-width="0.2">51.65</text>
<text x="453.5" y="895" font-size="10" text-anchor="start" fill="#1a1a1a" font-weight="normal" font-family="Liberation Sans" stroke="#1a1a1a" stroke-width="0.2">46.61</text>
<rect x="510.3" y="762.2" width="246.7" height="137.8" fill="none" stroke="#555" stroke-width="1" />
<line x1="552.4" y1="781.7" x2="552.4" y2="881.5" stroke="#555" stroke-width="1"/>
<line x1="648.5" y1="781.7" x2="648.5" y2="900" stroke="#555" stroke-width="1"/>
<line x1="686.5" y1="781.7" x2="686.5" y2="900" stroke="#555" stroke-width="1"/>
<line x1="719.5" y1="781.7" x2="719.5" y2="900" stroke="#555" stroke-width="1"/>
<line x1="510.3" y1="781.7" x2="757" y2="781.7" stroke="#666" stroke-width="1.2"/>
<line x1="510.3" y1="795.5" x2="757" y2="795.5" stroke="#666" stroke-width="1.2"/>
<line x1="510.3" y1="810" x2="757" y2="810" stroke="#666" stroke-width="1.2"/>
<line x1="510.3" y1="824.5" x2="757" y2="824.5" stroke="#666" stroke-width="1.2"/>
<line x1="510.3" y1="838.3" x2="757" y2="838.3" stroke="#666" stroke-width="1.2"/>
<line x1="510.3" y1="852.7" x2="757" y2="852.7" stroke="#666" stroke-width="1.2"/>
<line x1="510.3" y1="867" x2="757" y2="867" stroke="#666" stroke-width="1.2"/>
<line x1="510.3" y1="881.5" x2="757" y2="881.5" stroke="#666" stroke-width="1.2"/>
<rect x="567.2" y="762.4" width="118.6" height="18" fill="#fff" stroke="#1e96d2" stroke-width="4.8" />
<text x="626.5" y="776.5" font-size="11.8" text-anchor="middle" fill="#1a1a1a" font-weight="normal" font-family="Liberation Sans" >C2 - prizemlje</text>
<text x="512.3" y="791.3" font-size="10" text-anchor="start" fill="#1a1a1a" font-weight="normal" font-family="Liberation Sans" stroke="#1a1a1a" stroke-width="0.2">C2_01</text>
<text x="554.4" y="791.3" font-size="10" text-anchor="start" fill="#1a1a1a" font-weight="normal" font-family="Liberation Sans" stroke="#1a1a1a" stroke-width="0.2">spremište</text>
<text x="650.5" y="791.3" font-size="10" text-anchor="start" fill="#1a1a1a" font-weight="normal" font-family="Liberation Sans" stroke="#1a1a1a" stroke-width="0.2">2.49</text>
<text x="688.5" y="791.3" font-size="10" text-anchor="start" fill="#1a1a1a" font-weight="normal" font-family="Liberation Sans" stroke="#1a1a1a" stroke-width="0.2">1.00</text>
<text x="721.5" y="791.3" font-size="10" text-anchor="start" fill="#1a1a1a" font-weight="normal" font-family="Liberation Sans" stroke="#1a1a1a" stroke-width="0.2">2.49</text>
<text x="512.3" y="805.8" font-size="10" text-anchor="start" fill="#1a1a1a" font-weight="normal" font-family="Liberation Sans" stroke="#1a1a1a" stroke-width="0.2">C2_02</text>
<text x="554.4" y="805.8" font-size="10" text-anchor="start" fill="#1a1a1a" font-weight="normal" font-family="Liberation Sans" stroke="#1a1a1a" stroke-width="0.2">wc</text>
<text x="650.5" y="805.8" font-size="10" text-anchor="start" fill="#1a1a1a" font-weight="normal" font-family="Liberation Sans" stroke="#1a1a1a" stroke-width="0.2">3.30</text>
<text x="688.5" y="805.8" font-size="10" text-anchor="start" fill="#1a1a1a" font-weight="normal" font-family="Liberation Sans" stroke="#1a1a1a" stroke-width="0.2">1.00</text>
<text x="721.5" y="805.8" font-size="10" text-anchor="start" fill="#1a1a1a" font-weight="normal" font-family="Liberation Sans" stroke="#1a1a1a" stroke-width="0.2">3.30</text>
<text x="512.3" y="820.3" font-size="10" text-anchor="start" fill="#1a1a1a" font-weight="normal" font-family="Liberation Sans" stroke="#1a1a1a" stroke-width="0.2">C2_03</text>
<text x="554.4" y="820.3" font-size="10" text-anchor="start" fill="#1a1a1a" font-weight="normal" font-family="Liberation Sans" stroke="#1a1a1a" stroke-width="0.2">hodnik</text>
<text x="650.5" y="820.3" font-size="10" text-anchor="start" fill="#1a1a1a" font-weight="normal" font-family="Liberation Sans" stroke="#1a1a1a" stroke-width="0.2">3.67</text>
<text x="688.5" y="820.3" font-size="10" text-anchor="start" fill="#1a1a1a" font-weight="normal" font-family="Liberation Sans" stroke="#1a1a1a" stroke-width="0.2">1.00</text>
<text x="721.5" y="820.3" font-size="10" text-anchor="start" fill="#1a1a1a" font-weight="normal" font-family="Liberation Sans" stroke="#1a1a1a" stroke-width="0.2">3.67</text>
<text x="512.3" y="834.1" font-size="10" text-anchor="start" fill="#1a1a1a" font-weight="normal" font-family="Liberation Sans" stroke="#1a1a1a" stroke-width="0.2">C2_04</text>
<text x="554.4" y="834.1" font-size="10" text-anchor="start" fill="#1a1a1a" font-weight="normal" font-family="Liberation Sans" stroke="#1a1a1a" stroke-width="0.2">d.b./blag/kuhinja</text>
<text x="650.5" y="834.1" font-size="10" text-anchor="start" fill="#1a1a1a" font-weight="normal" font-family="Liberation Sans" stroke="#1a1a1a" stroke-width="0.2">29.11</text>
<text x="688.5" y="834.1" font-size="10" text-anchor="start" fill="#1a1a1a" font-weight="normal" font-family="Liberation Sans" stroke="#1a1a1a" stroke-width="0.2">1.00</text>
<text x="721.5" y="834.1" font-size="10" text-anchor="start" fill="#1a1a1a" font-weight="normal" font-family="Liberation Sans" stroke="#1a1a1a" stroke-width="0.2">29.11</text>
<text x="512.3" y="848.5" font-size="10" text-anchor="start" fill="#1a1a1a" font-weight="normal" font-family="Liberation Sans" stroke="#1a1a1a" stroke-width="0.2">C2_05</text>
<text x="554.4" y="848.5" font-size="10" text-anchor="start" fill="#1a1a1a" font-weight="normal" font-family="Liberation Sans" stroke="#1a1a1a" stroke-width="0.2">stubište</text>
<text x="650.5" y="848.5" font-size="10" text-anchor="start" fill="#1a1a1a" font-weight="normal" font-family="Liberation Sans" stroke="#1a1a1a" stroke-width="0.2">1.84</text>
<text x="688.5" y="848.5" font-size="10" text-anchor="start" fill="#1a1a1a" font-weight="normal" font-family="Liberation Sans" stroke="#1a1a1a" stroke-width="0.2">1.00</text>
<text x="721.5" y="848.5" font-size="10" text-anchor="start" fill="#1a1a1a" font-weight="normal" font-family="Liberation Sans" stroke="#1a1a1a" stroke-width="0.2">1.84</text>
<text x="512.3" y="862.8" font-size="10" text-anchor="start" fill="#1a1a1a" font-weight="normal" font-family="Liberation Sans" stroke="#1a1a1a" stroke-width="0.2">C2_06</text>
<text x="554.4" y="862.8" font-size="10" text-anchor="start" fill="#1a1a1a" font-weight="normal" font-family="Liberation Sans" stroke="#1a1a1a" stroke-width="0.2">natkriveni ulaz</text>
<text x="650.5" y="862.8" font-size="10" text-anchor="start" fill="#1a1a1a" font-weight="normal" font-family="Liberation Sans" stroke="#1a1a1a" stroke-width="0.2">1.97</text>
<text x="688.5" y="862.8" font-size="10" text-anchor="start" fill="#1a1a1a" font-weight="normal" font-family="Liberation Sans" stroke="#1a1a1a" stroke-width="0.2">0.50</text>
<text x="721.5" y="862.8" font-size="10" text-anchor="start" fill="#1a1a1a" font-weight="normal" font-family="Liberation Sans" stroke="#1a1a1a" stroke-width="0.2">0.98</text>
<text x="512.3" y="877.3" font-size="10" text-anchor="start" fill="#1a1a1a" font-weight="normal" font-family="Liberation Sans" stroke="#1a1a1a" stroke-width="0.2">C2_07</text>
<text x="554.4" y="877.3" font-size="10" text-anchor="start" fill="#1a1a1a" font-weight="normal" font-family="Liberation Sans" stroke="#1a1a1a" stroke-width="0.2">natkrivena terasa</text>
<text x="650.5" y="877.3" font-size="10" text-anchor="start" fill="#1a1a1a" font-weight="normal" font-family="Liberation Sans" stroke="#1a1a1a" stroke-width="0.2">7.12</text>
<text x="688.5" y="877.3" font-size="10" text-anchor="start" fill="#1a1a1a" font-weight="normal" font-family="Liberation Sans" stroke="#1a1a1a" stroke-width="0.2">0.50</text>
<text x="721.5" y="877.3" font-size="10" text-anchor="start" fill="#1a1a1a" font-weight="normal" font-family="Liberation Sans" stroke="#1a1a1a" stroke-width="0.2">3.56</text>
<text x="579.4" y="895" font-size="10.2" text-anchor="middle" fill="#1a1a1a" font-weight="normal" font-family="Liberation Sans" >NETO POVRŠINA [m2]</text>
<text x="650.5" y="895" font-size="10" text-anchor="start" fill="#1a1a1a" font-weight="normal" font-family="Liberation Sans" stroke="#1a1a1a" stroke-width="0.2">49.50</text>
<text x="721.5" y="895" font-size="10" text-anchor="start" fill="#1a1a1a" font-weight="normal" font-family="Liberation Sans" stroke="#1a1a1a" stroke-width="0.2">44.96</text>
<rect x="780.3" y="762.8" width="246.7" height="138.2" fill="none" stroke="#555" stroke-width="1" />
<line x1="822.4" y1="781.7" x2="822.4" y2="882" stroke="#555" stroke-width="1"/>
<line x1="918.5" y1="781.7" x2="918.5" y2="901" stroke="#555" stroke-width="1"/>
<line x1="956.5" y1="781.7" x2="956.5" y2="901" stroke="#555" stroke-width="1"/>
<line x1="989.5" y1="781.7" x2="989.5" y2="901" stroke="#555" stroke-width="1"/>
<line x1="780.3" y1="781.7" x2="1027" y2="781.7" stroke="#666" stroke-width="1.2"/>
<line x1="780.3" y1="796.1" x2="1027" y2="796.1" stroke="#666" stroke-width="1.2"/>
<line x1="780.3" y1="810" x2="1027" y2="810" stroke="#666" stroke-width="1.2"/>
<line x1="780.3" y1="824.5" x2="1027" y2="824.5" stroke="#666" stroke-width="1.2"/>
<line x1="780.3" y1="838.3" x2="1027" y2="838.3" stroke="#666" stroke-width="1.2"/>
<line x1="780.3" y1="852.7" x2="1027" y2="852.7" stroke="#666" stroke-width="1.2"/>
<line x1="780.3" y1="867" x2="1027" y2="867" stroke="#666" stroke-width="1.2"/>
<line x1="780.3" y1="882" x2="1027" y2="882" stroke="#666" stroke-width="1.2"/>
<rect x="840.3" y="765.2" width="124.7" height="15.2" fill="#fff" stroke="#e8832e" stroke-width="4.8" />
<text x="902.65" y="776.5" font-size="11.8" text-anchor="middle" fill="#1a1a1a" font-weight="normal" font-family="Liberation Sans" >C3 - prizemlje</text>
<text x="782.3" y="791.9" font-size="10" text-anchor="start" fill="#1a1a1a" font-weight="normal" font-family="Liberation Sans" stroke="#1a1a1a" stroke-width="0.2">C3_01</text>
<text x="824.4" y="791.9" font-size="10" text-anchor="start" fill="#1a1a1a" font-weight="normal" font-family="Liberation Sans" stroke="#1a1a1a" stroke-width="0.2">spremište</text>
<text x="920.5" y="791.9" font-size="10" text-anchor="start" fill="#1a1a1a" font-weight="normal" font-family="Liberation Sans" stroke="#1a1a1a" stroke-width="0.2">3.22</text>
<text x="958.5" y="791.9" font-size="10" text-anchor="start" fill="#1a1a1a" font-weight="normal" font-family="Liberation Sans" stroke="#1a1a1a" stroke-width="0.2">1.00</text>
<text x="991.5" y="791.9" font-size="10" text-anchor="start" fill="#1a1a1a" font-weight="normal" font-family="Liberation Sans" stroke="#1a1a1a" stroke-width="0.2">3.22</text>
<text x="782.3" y="805.8" font-size="10" text-anchor="start" fill="#1a1a1a" font-weight="normal" font-family="Liberation Sans" stroke="#1a1a1a" stroke-width="0.2">C3_02</text>
<text x="824.4" y="805.8" font-size="10" text-anchor="start" fill="#1a1a1a" font-weight="normal" font-family="Liberation Sans" stroke="#1a1a1a" stroke-width="0.2">wc</text>
<text x="920.5" y="805.8" font-size="10" text-anchor="start" fill="#1a1a1a" font-weight="normal" font-family="Liberation Sans" stroke="#1a1a1a" stroke-width="0.2">3.09</text>
<text x="958.5" y="805.8" font-size="10" text-anchor="start" fill="#1a1a1a" font-weight="normal" font-family="Liberation Sans" stroke="#1a1a1a" stroke-width="0.2">1.00</text>
<text x="991.5" y="805.8" font-size="10" text-anchor="start" fill="#1a1a1a" font-weight="normal" font-family="Liberation Sans" stroke="#1a1a1a" stroke-width="0.2">3.09</text>
<text x="782.3" y="820.3" font-size="10" text-anchor="start" fill="#1a1a1a" font-weight="normal" font-family="Liberation Sans" stroke="#1a1a1a" stroke-width="0.2">C3_03</text>
<text x="824.4" y="820.3" font-size="10" text-anchor="start" fill="#1a1a1a" font-weight="normal" font-family="Liberation Sans" stroke="#1a1a1a" stroke-width="0.2">hodnik</text>
<text x="920.5" y="820.3" font-size="10" text-anchor="start" fill="#1a1a1a" font-weight="normal" font-family="Liberation Sans" stroke="#1a1a1a" stroke-width="0.2">2.49</text>
<text x="958.5" y="820.3" font-size="10" text-anchor="start" fill="#1a1a1a" font-weight="normal" font-family="Liberation Sans" stroke="#1a1a1a" stroke-width="0.2">1.00</text>
<text x="991.5" y="820.3" font-size="10" text-anchor="start" fill="#1a1a1a" font-weight="normal" font-family="Liberation Sans" stroke="#1a1a1a" stroke-width="0.2">2.49</text>
<text x="782.3" y="834.1" font-size="10" text-anchor="start" fill="#1a1a1a" font-weight="normal" font-family="Liberation Sans" stroke="#1a1a1a" stroke-width="0.2">C3_04</text>
<text x="824.4" y="834.1" font-size="10" text-anchor="start" fill="#1a1a1a" font-weight="normal" font-family="Liberation Sans" stroke="#1a1a1a" stroke-width="0.2">d.b./blag/kuhinja</text>
<text x="920.5" y="834.1" font-size="10" text-anchor="start" fill="#1a1a1a" font-weight="normal" font-family="Liberation Sans" stroke="#1a1a1a" stroke-width="0.2">33.31</text>
<text x="958.5" y="834.1" font-size="10" text-anchor="start" fill="#1a1a1a" font-weight="normal" font-family="Liberation Sans" stroke="#1a1a1a" stroke-width="0.2">1.00</text>
<text x="991.5" y="834.1" font-size="10" text-anchor="start" fill="#1a1a1a" font-weight="normal" font-family="Liberation Sans" stroke="#1a1a1a" stroke-width="0.2">33.31</text>
<text x="782.3" y="848.5" font-size="10" text-anchor="start" fill="#1a1a1a" font-weight="normal" font-family="Liberation Sans" stroke="#1a1a1a" stroke-width="0.2">C3_05</text>
<text x="824.4" y="848.5" font-size="10" text-anchor="start" fill="#1a1a1a" font-weight="normal" font-family="Liberation Sans" stroke="#1a1a1a" stroke-width="0.2">stubište</text>
<text x="920.5" y="848.5" font-size="10" text-anchor="start" fill="#1a1a1a" font-weight="normal" font-family="Liberation Sans" stroke="#1a1a1a" stroke-width="0.2">2.00</text>
<text x="958.5" y="848.5" font-size="10" text-anchor="start" fill="#1a1a1a" font-weight="normal" font-family="Liberation Sans" stroke="#1a1a1a" stroke-width="0.2">1.00</text>
<text x="991.5" y="848.5" font-size="10" text-anchor="start" fill="#1a1a1a" font-weight="normal" font-family="Liberation Sans" stroke="#1a1a1a" stroke-width="0.2">2.00</text>
<text x="782.3" y="862.8" font-size="10" text-anchor="start" fill="#1a1a1a" font-weight="normal" font-family="Liberation Sans" stroke="#1a1a1a" stroke-width="0.2">C3_06</text>
<text x="824.4" y="862.8" font-size="10" text-anchor="start" fill="#1a1a1a" font-weight="normal" font-family="Liberation Sans" stroke="#1a1a1a" stroke-width="0.2">natkriveni ulaz</text>
<text x="920.5" y="862.8" font-size="10" text-anchor="start" fill="#1a1a1a" font-weight="normal" font-family="Liberation Sans" stroke="#1a1a1a" stroke-width="0.2">3.09</text>
<text x="958.5" y="862.8" font-size="10" text-anchor="start" fill="#1a1a1a" font-weight="normal" font-family="Liberation Sans" stroke="#1a1a1a" stroke-width="0.2">0.50</text>
<text x="991.5" y="862.8" font-size="10" text-anchor="start" fill="#1a1a1a" font-weight="normal" font-family="Liberation Sans" stroke="#1a1a1a" stroke-width="0.2">1.55</text>
<text x="782.3" y="877.8" font-size="10" text-anchor="start" fill="#1a1a1a" font-weight="normal" font-family="Liberation Sans" stroke="#1a1a1a" stroke-width="0.2">C3_07</text>
<text x="824.4" y="877.8" font-size="10" text-anchor="start" fill="#1a1a1a" font-weight="normal" font-family="Liberation Sans" stroke="#1a1a1a" stroke-width="0.2">natkrivena terasa</text>
<text x="920.5" y="877.8" font-size="10" text-anchor="start" fill="#1a1a1a" font-weight="normal" font-family="Liberation Sans" stroke="#1a1a1a" stroke-width="0.2">9.39</text>
<text x="958.5" y="877.8" font-size="10" text-anchor="start" fill="#1a1a1a" font-weight="normal" font-family="Liberation Sans" stroke="#1a1a1a" stroke-width="0.2">0.50</text>
<text x="991.5" y="877.8" font-size="10" text-anchor="start" fill="#1a1a1a" font-weight="normal" font-family="Liberation Sans" stroke="#1a1a1a" stroke-width="0.2">4.70</text>
<text x="849.4" y="896" font-size="10.2" text-anchor="middle" fill="#1a1a1a" font-weight="normal" font-family="Liberation Sans" >NETO POVRŠINA [m2]</text>
<text x="920.5" y="896" font-size="10" text-anchor="start" fill="#1a1a1a" font-weight="normal" font-family="Liberation Sans" stroke="#1a1a1a" stroke-width="0.2">56.59</text>
<text x="991.5" y="896" font-size="10" text-anchor="start" fill="#1a1a1a" font-weight="normal" font-family="Liberation Sans" stroke="#1a1a1a" stroke-width="0.2">50.35</text>
<defs><pattern id="hp" width="2.2" height="2.2" patternUnits="userSpaceOnUse" patternTransform="rotate(45)"><rect width="2.2" height="2.2" fill="#222"/><rect x="0" y="0" width="1.1" height="1.1" fill="#bbb"/></pattern></defs>
<path d="M346.9 193.5 V170.4 H486" fill="none" stroke="#9a9a9a" stroke-width="0.8" stroke-dasharray="3,2.2"/>
<line x1="346.9" y1="193.5" x2="486" y2="193.5" stroke="#555" stroke-width="0.8"/>
<line x1="486" y1="170.4" x2="486" y2="193.5" stroke="#555" stroke-width="0.8"/>
<line x1="486" y1="170.4" x2="547.6" y2="170.4" stroke="#888" stroke-width="0.8"/>
<line x1="545.7" y1="208.3" x2="659" y2="208.3" stroke="#555" stroke-width="0.8"/>
<line x1="546.6" y1="173.5" x2="546.6" y2="208.3" stroke="#777" stroke-width="0.7"/>
<line x1="546.6" y1="173.5" x2="557" y2="173.5" stroke="#555" stroke-width="0.7"/>
<line x1="546" y1="190.6" x2="659" y2="190.6" stroke="#aaa" stroke-width="0.8" stroke-dasharray="3,2.2"/>
<line x1="659" y1="192" x2="659" y2="208.3" stroke="#555" stroke-width="0.8"/>
<line x1="719" y1="156.3" x2="792.5" y2="156.3" stroke="#555" stroke-width="0.8"/>
<line x1="792.5" y1="156.3" x2="792.5" y2="179.7" stroke="#555" stroke-width="0.8"/>
<line x1="792.5" y1="179.7" x2="926.6" y2="179.7" stroke="#555" stroke-width="0.8"/>
<line x1="792.5" y1="156.3" x2="928" y2="156.3" stroke="#aaa" stroke-width="0.8" stroke-dasharray="3,2.2"/>
<line x1="927.5" y1="156.3" x2="927.5" y2="260" stroke="#aaa" stroke-width="0.8" stroke-dasharray="3,2.2"/>
<line x1="719" y1="156.3" x2="719" y2="192.4" stroke="#777" stroke-width="0.7"/>
<line x1="347" y1="193.5" x2="347" y2="446" stroke="#888" stroke-width="0.8"/>
<line x1="346" y1="446" x2="533.7" y2="446" stroke="#555" stroke-width="0.8"/>
<line x1="545" y1="460.5" x2="722" y2="460.5" stroke="#444" stroke-width="0.8"/>
<line x1="733.5" y1="436.5" x2="926" y2="436.5" stroke="#555" stroke-width="0.8"/>
<line x1="926" y1="187" x2="926" y2="436.5" stroke="#888" stroke-width="0.8"/>
<line x1="334.3" y1="258.4" x2="951.9" y2="258.4" stroke="#222" stroke-width="1" stroke-dasharray="7,2.5,1.5,2.5"/>
<path d="M307.7 273.5 V258.4 H334.3" fill="none" stroke="#111" stroke-width="1.3" />
<text x="315.8" y="270.6" font-size="11.5" text-anchor="middle" fill="#111" font-weight="bold" font-family="Liberation Sans" >A</text>
<path d="M951.3 274 V258.4 H940" fill="none" stroke="#111" stroke-width="1.3" />
<text x="944.3" y="270.6" font-size="11.5" text-anchor="middle" fill="#111" font-weight="bold" font-family="Liberation Sans" >A</text>
<rect x="349.5" y="196.2" width="84.8" height="8" fill="#fff" stroke="#151515" stroke-width="0.8" />
<rect x="350.5" y="197.2" width="82.8" height="6" fill="#2ea84e" stroke="none" stroke-width="1" />
<rect x="349.5" y="196.2" width="8" height="22.5" fill="#fff" stroke="#151515" stroke-width="0.8" />
<rect x="350.5" y="197.2" width="6" height="20.5" fill="#2ea84e" stroke="none" stroke-width="1" />
<rect x="351" y="218.7" width="5.5" height="20" fill="#fff" stroke="#333" stroke-width="0.7" />
<line x1="353.75" y1="218.7" x2="353.75" y2="238.7" stroke="#777" stroke-width="1.2"/>
<rect x="349.5" y="238.7" width="8" height="73.3" fill="#fff" stroke="#151515" stroke-width="0.8" />
<rect x="350.5" y="239.7" width="6" height="71.3" fill="#2ea84e" stroke="none" stroke-width="1" />
<rect x="351" y="312" width="5.5" height="44" fill="#fff" stroke="#333" stroke-width="0.7" />
<line x1="353.75" y1="312" x2="353.75" y2="356" stroke="#777" stroke-width="1.2"/>
<rect x="349.5" y="355.2" width="8" height="88" fill="#fff" stroke="#151515" stroke-width="0.8" />
<rect x="350.5" y="356.2" width="6" height="86" fill="#2ea84e" stroke="none" stroke-width="1" />
<rect x="349.5" y="436.2" width="46.8" height="7" fill="#fff" stroke="#151515" stroke-width="0.8" />
<rect x="350.5" y="437.2" width="44.8" height="5" fill="#2ea84e" stroke="none" stroke-width="1" />
<rect x="396.3" y="437" width="98.1" height="4.5" fill="#fff" stroke="#333" stroke-width="0.7" />
<line x1="396.3" y1="439.25" x2="494.4" y2="439.25" stroke="#777" stroke-width="1.2"/>
<rect x="494.4" y="435.8" width="41.2" height="7.6" fill="#fff" stroke="#151515" stroke-width="0.8" />
<rect x="495.4" y="436.8" width="39.2" height="5.6" fill="#2ea84e" stroke="none" stroke-width="1" />
<rect x="466.8" y="197.2" width="17.4" height="6" fill="#fff" stroke="#333" stroke-width="0.7" />
<line x1="466.8" y1="200.2" x2="484.2" y2="200.2" stroke="#777" stroke-width="1.2"/>
<rect x="484.2" y="196.3" width="12.1" height="7.8" fill="#fff" stroke="#151515" stroke-width="0.8" />
<rect x="485.2" y="197.3" width="10.1" height="5.8" fill="#2ea84e" stroke="none" stroke-width="1" />
<rect x="489" y="173.5" width="7.4" height="30.4" fill="#fff" stroke="#151515" stroke-width="0.8" />
<rect x="490" y="174.5" width="5.4" height="28.4" fill="#2ea84e" stroke="none" stroke-width="1" />
<rect x="489" y="173.5" width="12" height="7.6" fill="#fff" stroke="#151515" stroke-width="0.8" />
<rect x="490" y="174.5" width="10" height="5.6" fill="#2ea84e" stroke="none" stroke-width="1" />
<rect x="529.5" y="173.5" width="6" height="7.5" fill="#fff" stroke="#151515" stroke-width="0.8" />
<rect x="530.5" y="174.5" width="4" height="5.5" fill="#2ea84e" stroke="none" stroke-width="1" />
<rect x="533.6" y="170.6" width="12" height="364.4" fill="#111" stroke="none" stroke-width="1" />
<rect x="534.6" y="171.5" width="5.5" height="362.5" fill="#2ea84e" stroke="none" stroke-width="1" />
<rect x="540.1" y="171.5" width="4.5" height="362.5" fill="#1e96d2" stroke="none" stroke-width="1" />
<line x1="358.4" y1="204" x2="358.4" y2="436" stroke="#222" stroke-width="0.8"/>
<line x1="357.5" y1="204.5" x2="434" y2="204.5" stroke="#222" stroke-width="0.8"/>
<line x1="428.6" y1="204.5" x2="428.6" y2="252" stroke="#333" stroke-width="0.8"/>
<line x1="431.8" y1="204.5" x2="431.8" y2="252" stroke="#333" stroke-width="0.8"/>
<line x1="358" y1="246.3" x2="431.8" y2="246.3" stroke="#333" stroke-width="0.8"/>
<line x1="358" y1="249.5" x2="431.8" y2="249.5" stroke="#333" stroke-width="0.8"/>
<line x1="358" y1="252.2" x2="429" y2="252.2" stroke="#555" stroke-width="0.6"/>
<line x1="488.4" y1="203.9" x2="488.4" y2="246" stroke="#222" stroke-width="0.8"/>
<line x1="496.6" y1="203.9" x2="496.6" y2="246" stroke="#222" stroke-width="0.8"/>
<rect x="488.4" y="238" width="8.6" height="8" fill="url(#hp)" stroke="#111" stroke-width="0.9" />
<line x1="469" y1="244" x2="535" y2="244" stroke="#555" stroke-width="0.8"/>
<line x1="524.4" y1="146" x2="524.4" y2="444" stroke="#555" stroke-width="0.7" stroke-dasharray="6,2,1.2,2"/>
<line x1="527.5" y1="374.8" x2="527.5" y2="435.7" stroke="#b9b9b9" stroke-width="0.7"/>
<line x1="531" y1="374.8" x2="531" y2="435.7" stroke="#b9b9b9" stroke-width="0.7"/>
<rect x="504" y="426" width="25" height="9.7" fill="none" stroke="#b9b9b9" stroke-width="0.7" />
<rect x="478.5" y="246.5" width="26.5" height="31.7" fill="none" stroke="#333" stroke-width="0.8" />
<line x1="487.3" y1="246.5" x2="487.3" y2="278.2" stroke="#555" stroke-width="0.6"/>
<line x1="496.2" y1="246.5" x2="496.2" y2="278.2" stroke="#555" stroke-width="0.6"/>
<line x1="478.5" y1="262.3" x2="505" y2="262.3" stroke="#555" stroke-width="0.6"/>
<line x1="505" y1="246.5" x2="535" y2="246.5" stroke="#555" stroke-width="0.6"/>
<line x1="505" y1="262.3" x2="535" y2="262.3" stroke="#777" stroke-width="0.6"/>
<rect x="494.3" y="278.2" width="8.9" height="19.6" fill="url(#hp)" stroke="#111" stroke-width="0.9" />
<line x1="505" y1="278" x2="534.8" y2="309.2" stroke="#333" stroke-width="0.8"/>
<line x1="506.5" y1="276.6" x2="534.8" y2="306.5" stroke="#333" stroke-width="0.8"/>
<line x1="505" y1="278" x2="525.3" y2="244" stroke="#444" stroke-width="0.6"/>
<line x1="505" y1="278" x2="534" y2="268" stroke="#444" stroke-width="0.6"/>
<path d="M505.7 262.3 A15.7 15.7 0 0 1 519.6 278" fill="none" stroke="#444" stroke-width="0.6"/>
<line x1="519.6" y1="273" x2="519.6" y2="287" stroke="#444" stroke-width="0.6"/>
<polygon points="515.8,287 524.7,287 520.25,292.7" fill="#111" stroke="none" stroke-width="1" />
<line x1="458" y1="278.3" x2="494" y2="278.3" stroke="#222" stroke-width="1"/>
<text x="481" y="260.4" font-size="6.3" text-anchor="start" fill="#2a2a2a" font-weight="normal" font-family="Liberation Sans"  stroke="#2a2a2a" stroke-width="0.22">16x28</text>
<text x="481" y="268.7" font-size="6.3" text-anchor="start" fill="#2a2a2a" font-weight="normal" font-family="Liberation Sans"  stroke="#2a2a2a" stroke-width="0.22">17x17,6</text>
<text x="515.8" y="260" font-size="6.3" text-anchor="start" fill="#2a2a2a" font-weight="normal" font-family="Liberation Sans"  stroke="#2a2a2a" stroke-width="0.22">05</text>
<text x="515.8" y="268" font-size="6.3" text-anchor="start" fill="#2a2a2a" font-weight="normal" font-family="Liberation Sans"  stroke="#2a2a2a" stroke-width="0.22">stubište</text>
<line x1="494.4" y1="298" x2="494.4" y2="389.6" stroke="#888" stroke-width="0.6" stroke-dasharray="3,2"/>
<line x1="502.5" y1="298" x2="502.5" y2="389.6" stroke="#888" stroke-width="0.6" stroke-dasharray="3,2"/>
<line x1="505.7" y1="298" x2="505.7" y2="389.6" stroke="#888" stroke-width="0.6" stroke-dasharray="3,2"/>
<line x1="505.7" y1="300" x2="533" y2="300" stroke="#999" stroke-width="0.6" stroke-dasharray="2,2"/>
<line x1="505.7" y1="309" x2="533" y2="309" stroke="#999" stroke-width="0.6" stroke-dasharray="2,2"/>
<line x1="505.7" y1="318" x2="533" y2="318" stroke="#999" stroke-width="0.6" stroke-dasharray="2,2"/>
<line x1="505.7" y1="327" x2="533" y2="327" stroke="#999" stroke-width="0.6" stroke-dasharray="2,2"/>
<line x1="505.7" y1="336" x2="533" y2="336" stroke="#999" stroke-width="0.6" stroke-dasharray="2,2"/>
<line x1="505.7" y1="345" x2="533" y2="345" stroke="#999" stroke-width="0.6" stroke-dasharray="2,2"/>
<line x1="505.7" y1="354" x2="533" y2="354" stroke="#999" stroke-width="0.6" stroke-dasharray="2,2"/>
<line x1="505.7" y1="363" x2="533" y2="363" stroke="#999" stroke-width="0.6" stroke-dasharray="2,2"/>
<line x1="505.7" y1="372" x2="533" y2="372" stroke="#999" stroke-width="0.6" stroke-dasharray="2,2"/>
<line x1="505.7" y1="381" x2="533" y2="381" stroke="#999" stroke-width="0.6" stroke-dasharray="2,2"/>
<line x1="494.4" y1="389.6" x2="527" y2="389.6" stroke="#888" stroke-width="0.6" stroke-dasharray="3,2"/>
<polygon points="503,363 510.5,362 507.5,370.5" fill="#111" stroke="none" stroke-width="1" />
<rect x="514" y="346.5" width="15.6" height="6" fill="#fff" stroke="#222" stroke-width="0.9" />
<text x="521.8" y="350.8" font-size="5.5" text-anchor="middle" fill="#111" font-weight="bold" font-family="Liberation Sans" >UZ2</text>
<polygon points="440.9,193.2 461.1,193.2 451,203.3" fill="#111" stroke="none" stroke-width="1" />
<text x="444" y="187" font-size="10.2" text-anchor="middle" fill="#111" font-weight="normal" font-family="Liberation Sans" >C1</text>
<line x1="450.4" y1="203.3" x2="450.4" y2="233.7" stroke="#333" stroke-width="0.8"/>
<circle cx="450.4" cy="240" r="6.3" fill="none" stroke="#333" stroke-width="0.8"/>
<text x="447.5" y="214.7" font-size="7" text-anchor="middle" fill="#2a2a2a" font-weight="normal" font-family="Liberation Sans" transform="rotate(-90 447.5 214.7)"  stroke="#2a2a2a" stroke-width="0.22">165</text>
<text x="455.5" y="214.7" font-size="7" text-anchor="middle" fill="#2a2a2a" font-weight="normal" font-family="Liberation Sans" transform="rotate(-90 455.5 214.7)"  stroke="#2a2a2a" stroke-width="0.22">220</text>
<path d="M466.8 203.3 A33 33 0 0 1 445.3 235" fill="none" stroke="#333" stroke-width="0.8"/>
<path d="M501 173.5 A28.5 28.5 0 0 1 529.5 145.7" fill="none" stroke="#333" stroke-width="0.8"/>
<line x1="529.5" y1="145.7" x2="529.5" y2="173.5" stroke="#555" stroke-width="0.7"/>
<text x="513" y="162" font-size="7" text-anchor="middle" fill="#2a2a2a" font-weight="normal" font-family="Liberation Sans" transform="rotate(-90 513 162)"  stroke="#2a2a2a" stroke-width="0.22">100</text>
<text x="521" y="162" font-size="7" text-anchor="middle" fill="#2a2a2a" font-weight="normal" font-family="Liberation Sans" transform="rotate(-90 521 162)"  stroke="#2a2a2a" stroke-width="0.22">220</text>
<line x1="502.9" y1="196" x2="502.9" y2="218.7" stroke="#444" stroke-width="0.8"/>
<text x="503.5" y="202" font-size="6.6" text-anchor="start" fill="#222" font-weight="normal" font-family="Liberation Sans" letter-spacing="0.15" stroke="#222" stroke-width="0.22">01</text>
<text x="503.5" y="209.6" font-size="6.6" text-anchor="start" fill="#222" font-weight="normal" font-family="Liberation Sans" letter-spacing="0.15" stroke="#222" stroke-width="0.22">spremište</text>
<text x="503.5" y="217.2" font-size="6.6" text-anchor="start" fill="#222" font-weight="normal" font-family="Liberation Sans" letter-spacing="0.15" stroke="#222" stroke-width="0.22">P2-ker.pl.</text>
<rect x="504" y="226.7" width="17" height="6.3" fill="#fff" stroke="#222" stroke-width="0.9" />
<text x="512.5" y="231.3" font-size="6.5" text-anchor="middle" fill="#111" font-weight="bold" font-family="Liberation Sans" >UZ1</text>
<line x1="489" y1="229.9" x2="504" y2="229.9" stroke="#333" stroke-width="0.7"/>
<line x1="508.8" y1="117.8" x2="524.2" y2="117.8" stroke="#111" stroke-width="1.6"/>
<line x1="524.2" y1="117.8" x2="524.2" y2="140" stroke="#111" stroke-width="1.2"/>
<text x="521.5" y="125.4" font-size="11.5" text-anchor="middle" fill="#111" font-weight="bold" font-family="Liberation Sans" transform="rotate(-90 521.5 125.4)" stroke="#111" stroke-width="1.2">B</text>
<circle cx="515" cy="136.7" r="6.3" fill="none" stroke="#333" stroke-width="0.8"/>
<line x1="515" y1="143" x2="515" y2="181" stroke="#555" stroke-width="0.7"/>
<line x1="524.2" y1="140" x2="524.2" y2="170" stroke="#555" stroke-width="0.7" stroke-dasharray="6,2,1.2,2"/>
<rect x="363.8" y="159.2" width="6.6" height="17.5" fill="#fff" stroke="#222" stroke-width="0.9" />
<text x="369.4" y="167.95" font-size="5.6" text-anchor="middle" fill="#111" font-weight="bold" font-family="Liberation Sans" transform="rotate(-90 369.4 167.95)" >VZ1</text>
<line x1="366.8" y1="176.7" x2="366.8" y2="193.8" stroke="#777" stroke-width="0.8"/>
<rect x="459.4" y="177.9" width="17.5" height="6.6" fill="#fff" stroke="#222" stroke-width="0.9" />
<text x="468.15" y="182.8" font-size="6.5" text-anchor="middle" fill="#111" font-weight="bold" font-family="Liberation Sans" >VZ1</text>
<line x1="476.9" y1="181.2" x2="489" y2="181.2" stroke="#333" stroke-width="0.7"/>
<rect x="536.5" y="140" width="6.9" height="14.6" fill="#fff" stroke="#222" stroke-width="0.9" />
<text x="542.25" y="147.3" font-size="5.6" text-anchor="middle" fill="#111" font-weight="bold" font-family="Liberation Sans" transform="rotate(-90 542.25 147.3)" >VZ1</text>
<line x1="540" y1="154.6" x2="540" y2="170" stroke="#555" stroke-width="0.7"/>
<line x1="379.9" y1="129.7" x2="379.9" y2="152.4" stroke="#444" stroke-width="0.8"/>
<text x="380.5" y="135.7" font-size="6.6" text-anchor="start" fill="#222" font-weight="normal" font-family="Liberation Sans" letter-spacing="0.15" stroke="#222" stroke-width="0.22">06</text>
<text x="380.5" y="143.3" font-size="6.6" text-anchor="start" fill="#222" font-weight="normal" font-family="Liberation Sans" letter-spacing="0.15" stroke="#222" stroke-width="0.22">natkriveni ulaz</text>
<text x="380.5" y="150.9" font-size="6.6" text-anchor="start" fill="#222" font-weight="normal" font-family="Liberation Sans" letter-spacing="0.15" stroke="#222" stroke-width="0.22">P3-ker.pl.</text>
<line x1="379.9" y1="152" x2="379.9" y2="183" stroke="#444" stroke-width="0.8"/>
<line x1="310.9" y1="194.8" x2="310.9" y2="217.5" stroke="#444" stroke-width="0.8"/>
<text x="311.5" y="200.8" font-size="6.6" text-anchor="start" fill="#222" font-weight="normal" font-family="Liberation Sans" letter-spacing="0.15" stroke="#222" stroke-width="0.22">02</text>
<text x="311.5" y="208.4" font-size="6.6" text-anchor="start" fill="#222" font-weight="normal" font-family="Liberation Sans" letter-spacing="0.15" stroke="#222" stroke-width="0.22">wc</text>
<text x="311.5" y="216" font-size="6.6" text-anchor="start" fill="#222" font-weight="normal" font-family="Liberation Sans" letter-spacing="0.15" stroke="#222" stroke-width="0.22">P2-ker.pl.</text>
<line x1="311" y1="216.6" x2="373.5" y2="216.6" stroke="#666" stroke-width="0.7"/>
<circle cx="305.8" cy="233.3" r="6.3" fill="none" stroke="#333" stroke-width="0.8"/>
<line x1="312.1" y1="233.3" x2="349.5" y2="233.3" stroke="#333" stroke-width="0.8"/>
<text x="331" y="231.5" font-size="7.4" text-anchor="middle" fill="#2a2a2a" font-weight="normal" font-family="Liberation Sans"  stroke="#2a2a2a" stroke-width="0.22">60</text>
<text x="331" y="240" font-size="7.4" text-anchor="middle" fill="#2a2a2a" font-weight="normal" font-family="Liberation Sans"  stroke="#2a2a2a" stroke-width="0.22">110+20</text>
<circle cx="305.8" cy="333.7" r="6.3" fill="none" stroke="#333" stroke-width="0.8"/>
<line x1="312.1" y1="333.7" x2="350" y2="333.7" stroke="#333" stroke-width="0.8"/>
<text x="331" y="332.2" font-size="7.4" text-anchor="middle" fill="#2a2a2a" font-weight="normal" font-family="Liberation Sans"  stroke="#2a2a2a" stroke-width="0.22">140</text>
<text x="331" y="340.6" font-size="7.4" text-anchor="middle" fill="#2a2a2a" font-weight="normal" font-family="Liberation Sans"  stroke="#2a2a2a" stroke-width="0.22">60+20</text>
<rect x="324.2" y="268.1" width="17.7" height="6.7" fill="#fff" stroke="#222" stroke-width="0.9" />
<text x="333.05" y="273.1" font-size="6.5" text-anchor="middle" fill="#111" font-weight="bold" font-family="Liberation Sans" >VZ1</text>
<line x1="341.9" y1="271" x2="350.8" y2="271" stroke="#333" stroke-width="0.7"/>
<rect x="365" y="208" width="7" height="13" fill="none" stroke="#b9b9b9" stroke-width="0.8" />
<path d="M372 208 Q381 208 381 214.5 Q381 221 372 221" fill="none" stroke="#b9b9b9" stroke-width="0.8" />
<rect x="402" y="208" width="18" height="10" fill="none" stroke="#b9b9b9" stroke-width="0.8" />
<circle cx="394.8" cy="234.3" r="6.5" fill="none" stroke="#333" stroke-width="0.8"/>
<line x1="401.3" y1="234.3" x2="439" y2="234.3" stroke="#555" stroke-width="0.7"/>
<path d="M407.7 245 A21.5 21.5 0 0 1 429 223.5" fill="none" stroke="#333" stroke-width="0.8"/>
<text x="419.7" y="231" font-size="7.2" text-anchor="middle" fill="#2a2a2a" font-weight="normal" font-family="Liberation Sans"  stroke="#2a2a2a" stroke-width="0.22">65</text>
<text x="419.7" y="240" font-size="7.2" text-anchor="middle" fill="#2a2a2a" font-weight="normal" font-family="Liberation Sans"  stroke="#2a2a2a" stroke-width="0.22">200</text>
<text x="359" y="245" font-size="7.3" text-anchor="start" fill="#111" font-weight="bold" font-family="Liberation Sans" >P=110</text>
<path d="M359 224 A9 9 0 0 1 376 236" fill="none" stroke="#b9b9b9" stroke-width="0.8" />
<line x1="434.8" y1="236" x2="434.8" y2="258.7" stroke="#444" stroke-width="0.8"/>
<text x="435.4" y="242" font-size="6.6" text-anchor="start" fill="#222" font-weight="normal" font-family="Liberation Sans" letter-spacing="0.15" stroke="#222" stroke-width="0.22">03</text>
<text x="435.4" y="249.6" font-size="6.6" text-anchor="start" fill="#222" font-weight="normal" font-family="Liberation Sans" letter-spacing="0.15" stroke="#222" stroke-width="0.22">hodnik</text>
<text x="435.4" y="257.2" font-size="6.6" text-anchor="start" fill="#222" font-weight="normal" font-family="Liberation Sans" letter-spacing="0.15" stroke="#222" stroke-width="0.22">P1-ker.pl.</text>
<rect x="359" y="252" width="70.2" height="19" fill="none" stroke="#b9b9b9" stroke-width="0.8" />
<line x1="377.3" y1="252" x2="377.3" y2="271" stroke="#b9b9b9" stroke-width="0.7"/>
<line x1="403" y1="252" x2="403" y2="271" stroke="#b9b9b9" stroke-width="0.7"/>
<rect x="359" y="271" width="18.3" height="69.6" fill="none" stroke="#b9b9b9" stroke-width="0.8" />
<circle cx="394.4" cy="257" r="2.4" fill="none" stroke="#b9b9b9" stroke-width="0.7"/>
<circle cx="394.4" cy="266" r="2.4" fill="none" stroke="#b9b9b9" stroke-width="0.7"/>
<text x="419" y="264.5" font-size="7" text-anchor="middle" fill="#b9b9b9" font-weight="normal" font-family="Liberation Sans"  stroke="#b9b9b9" stroke-width="0.22">*</text>
<path d="M363 295 L366 303 L369 295 M366.5 295 L369.5 303 L372.5 295" fill="none" stroke="#b9b9b9" stroke-width="0.8" />
<rect x="362" y="314" width="11.5" height="13.3" fill="none" stroke="#b9b9b9" stroke-width="0.8" />
<rect x="382" y="267.2" width="7.7" height="17.1" fill="#fff" stroke="#222" stroke-width="0.9" />
<text x="388.15" y="275.75" font-size="5.6" text-anchor="middle" fill="#111" font-weight="bold" font-family="Liberation Sans" transform="rotate(-90 388.15 275.75)" >PZ1</text>
<line x1="385.8" y1="251.4" x2="385.8" y2="267.2" stroke="#444" stroke-width="0.7"/>
<text x="394" y="318" font-size="13.5" text-anchor="middle" fill="#414e8e" font-weight="bold" font-family="Liberation Sans" >C1</text>
<text x="359" y="336.8" font-size="7.3" text-anchor="start" fill="#111" font-weight="bold" font-family="Liberation Sans" >P=110</text>
<rect x="437.8" y="301" width="25.6" height="53.8" fill="none" stroke="#b9b9b9" stroke-width="0.8" />
<rect x="444" y="293.6" width="12.5" height="7.4" fill="none" stroke="#b9b9b9" stroke-width="0.8" />
<rect x="444" y="354.8" width="12.5" height="8.2" fill="none" stroke="#b9b9b9" stroke-width="0.8" />
<rect x="429" y="308" width="8.8" height="13" fill="none" stroke="#b9b9b9" stroke-width="0.8" />
<rect x="429" y="334" width="8.8" height="13.4" fill="none" stroke="#b9b9b9" stroke-width="0.8" />
<rect x="463.4" y="308" width="8.3" height="13" fill="none" stroke="#b9b9b9" stroke-width="0.8" />
<rect x="463.4" y="334" width="8.3" height="13.4" fill="none" stroke="#b9b9b9" stroke-width="0.8" />
<rect x="359" y="355.2" width="34" height="75.9" fill="none" stroke="#b9b9b9" stroke-width="0.8" />
<rect x="359" y="398.9" width="86.7" height="32.2" fill="none" stroke="#b9b9b9" stroke-width="0.8" />
<line x1="365" y1="355.2" x2="365" y2="427" stroke="#b9b9b9" stroke-width="0.6"/>
<line x1="365" y1="427" x2="445.7" y2="427" stroke="#b9b9b9" stroke-width="0.6"/>
<rect x="406.5" y="363.4" width="20.2" height="24.1" fill="none" stroke="#b9b9b9" stroke-width="0.8" />
<line x1="436.9" y1="372" x2="436.9" y2="394.7" stroke="#444" stroke-width="0.8"/>
<text x="437.5" y="378" font-size="6.6" text-anchor="start" fill="#222" font-weight="normal" font-family="Liberation Sans" letter-spacing="0.15" stroke="#222" stroke-width="0.22">04</text>
<text x="437.5" y="385.6" font-size="6.6" text-anchor="start" fill="#222" font-weight="normal" font-family="Liberation Sans" letter-spacing="0.15" stroke="#222" stroke-width="0.22">d.b./blag/kuhinja</text>
<text x="437.5" y="393.2" font-size="6.6" text-anchor="start" fill="#222" font-weight="normal" font-family="Liberation Sans" letter-spacing="0.15" stroke="#222" stroke-width="0.22">P1-ker.pl.</text>
<line x1="346.5" y1="446" x2="346.5" y2="482.3" stroke="#aaa" stroke-width="0.8" stroke-dasharray="3,2"/>
<line x1="346.5" y1="482.3" x2="533" y2="482.3" stroke="#999" stroke-width="0.8" stroke-dasharray="3,2"/>
<line x1="362.4" y1="450.5" x2="362.4" y2="473.2" stroke="#444" stroke-width="0.8"/>
<text x="363" y="456.5" font-size="6.6" text-anchor="start" fill="#222" font-weight="normal" font-family="Liberation Sans" letter-spacing="0.15" stroke="#222" stroke-width="0.22">07</text>
<text x="363" y="464.1" font-size="6.6" text-anchor="start" fill="#222" font-weight="normal" font-family="Liberation Sans" letter-spacing="0.15" stroke="#222" stroke-width="0.22">natkrivena terasa</text>
<text x="363" y="471.7" font-size="6.6" text-anchor="start" fill="#222" font-weight="normal" font-family="Liberation Sans" letter-spacing="0.15" stroke="#222" stroke-width="0.22">P3-ker.pl.</text>
<rect x="420" y="462" width="6" height="17" fill="#fff" stroke="#222" stroke-width="0.9" />
<text x="425.3" y="470.5" font-size="5.6" text-anchor="middle" fill="#111" font-weight="bold" font-family="Liberation Sans" transform="rotate(-90 425.3 470.5)" >VZ1</text>
<line x1="423" y1="446" x2="423" y2="462" stroke="#777" stroke-width="0.8"/>
<text x="356.5" y="464.6" font-size="7" text-anchor="middle" fill="#2a2a2a" font-weight="normal" font-family="Liberation Sans" transform="rotate(-90 356.5 464.6)"  stroke="#2a2a2a" stroke-width="0.22">115</text>
<line x1="358" y1="446" x2="358" y2="482" stroke="#bbb" stroke-width="0.6"/>
<circle cx="447" cy="482.7" r="6.3" fill="none" stroke="#333" stroke-width="0.8"/>
<line x1="446.3" y1="443" x2="446.3" y2="476.4" stroke="#333" stroke-width="0.8"/>
<text x="443.8" y="456.7" font-size="7" text-anchor="middle" fill="#2a2a2a" font-weight="normal" font-family="Liberation Sans" transform="rotate(-90 443.8 456.7)"  stroke="#2a2a2a" stroke-width="0.22">310</text>
<text x="452" y="456.7" font-size="7" text-anchor="middle" fill="#2a2a2a" font-weight="normal" font-family="Liberation Sans" transform="rotate(-90 452 456.7)"  stroke="#2a2a2a" stroke-width="0.22">220+20</text>
<line x1="491.9" y1="469.7" x2="491.9" y2="477.2" stroke="#444" stroke-width="0.8"/>
<text x="492.5" y="475.7" font-size="6.6" text-anchor="start" fill="#222" font-weight="normal" font-family="Liberation Sans" letter-spacing="0.15" stroke="#222" stroke-width="0.22">strojarnica</text>
<line x1="491.3" y1="470" x2="491.3" y2="491.5" stroke="#444" stroke-width="0.8"/>
<text x="516" y="453.5" font-size="7" text-anchor="middle" fill="#2a2a2a" font-weight="normal" font-family="Liberation Sans" transform="rotate(-90 516 453.5)"  stroke="#2a2a2a" stroke-width="0.22">20</text>
<line x1="533.7" y1="445" x2="533.7" y2="527.6" stroke="#999" stroke-width="0.7"/>
<text x="529" y="455" font-size="7" text-anchor="middle" fill="#2a2a2a" font-weight="normal" font-family="Liberation Sans" transform="rotate(-90 529 455)"  stroke="#2a2a2a" stroke-width="0.22">25</text>
<text x="529" y="464" font-size="7" text-anchor="middle" fill="#2a2a2a" font-weight="normal" font-family="Liberation Sans" transform="rotate(-90 529 464)"  stroke="#2a2a2a" stroke-width="0.22">45</text>
<text x="529" y="475.7" font-size="7" text-anchor="middle" fill="#2a2a2a" font-weight="normal" font-family="Liberation Sans" transform="rotate(-90 529 475.7)"  stroke="#2a2a2a" stroke-width="0.22">25</text>
<text x="529" y="483" font-size="7" text-anchor="middle" fill="#2a2a2a" font-weight="normal" font-family="Liberation Sans" transform="rotate(-90 529 483)"  stroke="#2a2a2a" stroke-width="0.22">31</text>
<text x="529" y="491" font-size="7" text-anchor="middle" fill="#2a2a2a" font-weight="normal" font-family="Liberation Sans" transform="rotate(-90 529 491)"  stroke="#2a2a2a" stroke-width="0.22">25</text>
<line x1="531" y1="446" x2="531" y2="500" stroke="#777" stroke-width="0.7"/>
<text x="493.2" y="506.7" font-size="7" text-anchor="middle" fill="#2a2a2a" font-weight="normal" font-family="Liberation Sans"  stroke="#2a2a2a" stroke-width="0.22">254</text>
<line x1="453.3" y1="508.6" x2="533.7" y2="508.6" stroke="#777" stroke-width="0.8"/>
<text x="476" y="518.3" font-size="7" text-anchor="middle" fill="#2a2a2a" font-weight="normal" font-family="Liberation Sans"  stroke="#2a2a2a" stroke-width="0.22">143</text>
<text x="516" y="518.3" font-size="7" text-anchor="middle" fill="#2a2a2a" font-weight="normal" font-family="Liberation Sans"  stroke="#2a2a2a" stroke-width="0.22">111</text>
<line x1="453.3" y1="520.6" x2="533.7" y2="520.6" stroke="#777" stroke-width="0.8"/>
<line x1="497.45" y1="522.4" x2="498.95" y2="518.8" stroke="#222" stroke-width="0.9"/>
<line x1="532.95" y1="522.4" x2="534.45" y2="518.8" stroke="#222" stroke-width="0.9"/>
<line x1="452.55" y1="522.4" x2="454.05" y2="518.8" stroke="#222" stroke-width="0.9"/>
<line x1="452.55" y1="510.4" x2="454.05" y2="506.8" stroke="#222" stroke-width="0.9"/>
<line x1="532.95" y1="510.4" x2="534.45" y2="506.8" stroke="#222" stroke-width="0.9"/>
<line x1="453.3" y1="482" x2="453.3" y2="530" stroke="#666" stroke-width="0.7"/>
<rect x="545" y="212" width="7.3" height="6.6" fill="#fff" stroke="#151515" stroke-width="0.8" />
<rect x="546" y="213" width="5.3" height="4.6" fill="#1e96d2" stroke="none" stroke-width="1" />
<rect x="552.3" y="212.5" width="19" height="5.5" fill="#fff" stroke="#333" stroke-width="0.7" />
<line x1="552.3" y1="215.25" x2="571.3" y2="215.25" stroke="#777" stroke-width="1.2"/>
<rect x="571.3" y="212" width="32.7" height="6.6" fill="#fff" stroke="#151515" stroke-width="0.8" />
<rect x="572.3" y="213" width="30.7" height="4.6" fill="#1e96d2" stroke="none" stroke-width="1" />
<rect x="604" y="212.5" width="17" height="5.5" fill="#fff" stroke="#333" stroke-width="0.7" />
<line x1="604" y1="215.25" x2="621" y2="215.25" stroke="#777" stroke-width="1.2"/>
<polygon points="623,208.3 643,208.3 633,219" fill="#111" stroke="none" stroke-width="1" />
<text x="633.6" y="201.3" font-size="10.2" text-anchor="middle" fill="#111" font-weight="normal" font-family="Liberation Sans" >C2</text>
<rect x="654" y="212" width="12.6" height="7" fill="#fff" stroke="#151515" stroke-width="0.8" />
<rect x="655" y="213" width="10.6" height="5" fill="#1e96d2" stroke="none" stroke-width="1" />
<rect x="659.6" y="193.3" width="7" height="25.7" fill="#fff" stroke="#151515" stroke-width="0.8" />
<rect x="660.6" y="194.3" width="5" height="23.7" fill="#1e96d2" stroke="none" stroke-width="1" />
<rect x="659.6" y="193.3" width="27.2" height="7.1" fill="#fff" stroke="#151515" stroke-width="0.8" />
<rect x="660.6" y="194.3" width="25.2" height="5.1" fill="#1e96d2" stroke="none" stroke-width="1" />
<line x1="545" y1="219" x2="654" y2="219" stroke="#222" stroke-width="0.8"/>
<rect x="556.7" y="170.4" width="17.1" height="6.9" fill="#fff" stroke="#222" stroke-width="0.9" />
<text x="565.25" y="175.6" font-size="6.5" text-anchor="middle" fill="#111" font-weight="bold" font-family="Liberation Sans" >VZ1</text>
<circle cx="562.4" cy="164" r="6.3" fill="none" stroke="#333" stroke-width="0.8"/>
<line x1="563" y1="177.3" x2="563" y2="212" stroke="#444" stroke-width="0.7"/>
<text x="558.6" y="193" font-size="7" text-anchor="middle" fill="#2a2a2a" font-weight="normal" font-family="Liberation Sans" transform="rotate(-90 558.6 193)"  stroke="#2a2a2a" stroke-width="0.22">60</text>
<text x="567.5" y="193" font-size="7" text-anchor="middle" fill="#2a2a2a" font-weight="normal" font-family="Liberation Sans" transform="rotate(-90 567.5 193)"  stroke="#2a2a2a" stroke-width="0.22">110+20</text>
<line x1="590.4" y1="146.5" x2="590.4" y2="169.2" stroke="#444" stroke-width="0.8"/>
<text x="591" y="152.5" font-size="6.6" text-anchor="start" fill="#222" font-weight="normal" font-family="Liberation Sans" letter-spacing="0.15" stroke="#222" stroke-width="0.22">06</text>
<text x="591" y="160.1" font-size="6.6" text-anchor="start" fill="#222" font-weight="normal" font-family="Liberation Sans" letter-spacing="0.15" stroke="#222" stroke-width="0.22">natkriveni ulaz</text>
<text x="591" y="167.7" font-size="6.6" text-anchor="start" fill="#222" font-weight="normal" font-family="Liberation Sans" letter-spacing="0.15" stroke="#222" stroke-width="0.22">P3-ker.pl.</text>
<line x1="590.5" y1="165" x2="590.5" y2="189" stroke="#444" stroke-width="0.8"/>
<rect x="640" y="175.3" width="6.5" height="16.7" fill="#fff" stroke="#222" stroke-width="0.9" />
<text x="645.55" y="183.65" font-size="5.6" text-anchor="middle" fill="#111" font-weight="bold" font-family="Liberation Sans" transform="rotate(-90 645.55 183.65)" >VZ1</text>
<line x1="643.2" y1="192" x2="643.2" y2="208.3" stroke="#555" stroke-width="0.7"/>
<rect x="667" y="168.2" width="6.5" height="17" fill="#fff" stroke="#222" stroke-width="0.9" />
<text x="672.55" y="176.7" font-size="5.6" text-anchor="middle" fill="#111" font-weight="bold" font-family="Liberation Sans" transform="rotate(-90 672.55 176.7)" >VZ1</text>
<line x1="670.2" y1="185.2" x2="670.2" y2="193.3" stroke="#555" stroke-width="0.7"/>
<line x1="637.5" y1="219" x2="637.5" y2="250" stroke="#333" stroke-width="0.8"/>
<circle cx="637.5" cy="255.8" r="6.3" fill="none" stroke="#333" stroke-width="0.8"/>
<text x="633.7" y="230.4" font-size="7" text-anchor="middle" fill="#2a2a2a" font-weight="normal" font-family="Liberation Sans" transform="rotate(-90 633.7 230.4)"  stroke="#2a2a2a" stroke-width="0.22">165</text>
<text x="641.3" y="230.4" font-size="7" text-anchor="middle" fill="#2a2a2a" font-weight="normal" font-family="Liberation Sans" transform="rotate(-90 641.3 230.4)"  stroke="#2a2a2a" stroke-width="0.22">220</text>
<path d="M621 219 A33 33 0 0 0 654 252" fill="none" stroke="#333" stroke-width="0.8"/>
<line x1="654" y1="219" x2="654" y2="252" stroke="#555" stroke-width="0.7"/>
<line x1="659" y1="219" x2="659" y2="249.4" stroke="#222" stroke-width="0.8"/>
<line x1="667" y1="219" x2="667" y2="249.4" stroke="#222" stroke-width="0.8"/>
<rect x="659.6" y="240.6" width="7.6" height="8.8" fill="url(#hp)" stroke="#111" stroke-width="0.9" />
<rect x="674" y="235.5" width="17.3" height="6.3" fill="#fff" stroke="#222" stroke-width="0.9" />
<text x="682.65" y="240.1" font-size="6.5" text-anchor="middle" fill="#111" font-weight="bold" font-family="Liberation Sans" >UZ1</text>
<line x1="657.7" y1="238.7" x2="674" y2="238.7" stroke="#333" stroke-width="0.7"/>
<line x1="682.4" y1="209" x2="682.4" y2="231.7" stroke="#444" stroke-width="0.8"/>
<text x="683" y="215" font-size="6.6" text-anchor="start" fill="#222" font-weight="normal" font-family="Liberation Sans" letter-spacing="0.15" stroke="#222" stroke-width="0.22">01</text>
<text x="683" y="222.6" font-size="6.6" text-anchor="start" fill="#222" font-weight="normal" font-family="Liberation Sans" letter-spacing="0.15" stroke="#222" stroke-width="0.22">spremište</text>
<text x="683" y="230.2" font-size="6.6" text-anchor="start" fill="#222" font-weight="normal" font-family="Liberation Sans" letter-spacing="0.15" stroke="#222" stroke-width="0.22">P2-ker.pl.</text>
<path d="M686.3 192.5 Q687.5 176 697 172.5" fill="none" stroke="#333" stroke-width="0.8" />
<line x1="697.4" y1="172.5" x2="697.4" y2="201.5" stroke="#444" stroke-width="0.7"/>
<text x="695" y="182.6" font-size="7" text-anchor="middle" fill="#2a2a2a" font-weight="normal" font-family="Liberation Sans" transform="rotate(-90 695 182.6)"  stroke="#2a2a2a" stroke-width="0.22">100</text>
<text x="704.2" y="182.6" font-size="7" text-anchor="middle" fill="#2a2a2a" font-weight="normal" font-family="Liberation Sans" transform="rotate(-90 704.2 182.6)"  stroke="#2a2a2a" stroke-width="0.22">220</text>
<line x1="712.8" y1="137.3" x2="712.8" y2="502" stroke="#444" stroke-width="0.8" stroke-dasharray="6,2,1.2,2"/>
<path d="M699.5 137.3 H712.8" fill="none" stroke="#111" stroke-width="1.6" />
<text x="709.5" y="144.6" font-size="11.5" text-anchor="middle" fill="#111" font-weight="bold" font-family="Liberation Sans" transform="rotate(-90 709.5 144.6)" stroke="#111" stroke-width="0.9">C</text>
<circle cx="697.7" cy="157.2" r="6.2" fill="none" stroke="#333" stroke-width="0.8"/>
<rect x="688.2" y="165.3" width="17.3" height="7.2" fill="#fff" stroke="#222" stroke-width="0.9" />
<text x="696.85" y="170.8" font-size="6.5" text-anchor="middle" fill="#111" font-weight="bold" font-family="Liberation Sans" >VZ1</text>
<line x1="705.5" y1="169.2" x2="722" y2="169.2" stroke="#444" stroke-width="0.7"/>
<line x1="713.5" y1="166.3" x2="713.5" y2="201.5" stroke="#333" stroke-width="0.7"/>
<rect x="714.7" y="193.7" width="7.6" height="7.6" fill="url(#hp)" stroke="#111" stroke-width="0.9" />
<line x1="656.3" y1="190.7" x2="713" y2="190.7" stroke="#aaa" stroke-width="0.8"/>
<line x1="686.3" y1="194.3" x2="714.7" y2="194.3" stroke="#aaa" stroke-width="0.8"/>
<line x1="719.5" y1="156.2" x2="719.5" y2="190.4" stroke="#555" stroke-width="0.7"/>
<line x1="599.5" y1="219" x2="599.5" y2="281" stroke="#333" stroke-width="0.8"/>
<line x1="603.3" y1="219" x2="603.3" y2="281" stroke="#333" stroke-width="0.8"/>
<text x="552" y="227.3" font-size="7.3" text-anchor="start" fill="#111" font-weight="bold" font-family="Liberation Sans" >P=110</text>
<line x1="570.4" y1="234" x2="570.4" y2="256.7" stroke="#444" stroke-width="0.8"/>
<text x="571" y="240" font-size="6.6" text-anchor="start" fill="#222" font-weight="normal" font-family="Liberation Sans" letter-spacing="0.15" stroke="#222" stroke-width="0.22">02</text>
<text x="571" y="247.6" font-size="6.6" text-anchor="start" fill="#222" font-weight="normal" font-family="Liberation Sans" letter-spacing="0.15" stroke="#222" stroke-width="0.22">wc</text>
<text x="571" y="255.2" font-size="6.6" text-anchor="start" fill="#222" font-weight="normal" font-family="Liberation Sans" letter-spacing="0.15" stroke="#222" stroke-width="0.22">P2-ker.pl.</text>
<path d="M548 224 A10 10 0 0 1 566 236" fill="none" stroke="#b9b9b9" stroke-width="0.8" />
<rect x="580" y="223" width="11" height="17" fill="none" stroke="#b9b9b9" stroke-width="0.8" />
<rect x="547" y="255" width="13" height="22" fill="none" stroke="#b9b9b9" stroke-width="0.8" />
<circle cx="566" cy="267.2" r="6.5" fill="none" stroke="#333" stroke-width="0.8"/>
<line x1="572.5" y1="267.2" x2="609.6" y2="267.2" stroke="#444" stroke-width="0.7"/>
<path d="M579.2 276 A22.7 22.7 0 0 1 602 253.3" fill="none" stroke="#333" stroke-width="0.8"/>
<text x="591.3" y="265.3" font-size="7.2" text-anchor="middle" fill="#2a2a2a" font-weight="normal" font-family="Liberation Sans"  stroke="#2a2a2a" stroke-width="0.22">65</text>
<text x="591.3" y="274" font-size="7.2" text-anchor="middle" fill="#2a2a2a" font-weight="normal" font-family="Liberation Sans"  stroke="#2a2a2a" stroke-width="0.22">200</text>
<line x1="616.4" y1="255.5" x2="616.4" y2="278.2" stroke="#444" stroke-width="0.8"/>
<text x="617" y="261.5" font-size="6.6" text-anchor="start" fill="#222" font-weight="normal" font-family="Liberation Sans" letter-spacing="0.15" stroke="#222" stroke-width="0.22">03</text>
<text x="617" y="269.1" font-size="6.6" text-anchor="start" fill="#222" font-weight="normal" font-family="Liberation Sans" letter-spacing="0.15" stroke="#222" stroke-width="0.22">hodnik</text>
<text x="617" y="276.7" font-size="6.6" text-anchor="start" fill="#222" font-weight="normal" font-family="Liberation Sans" letter-spacing="0.15" stroke="#222" stroke-width="0.22">P1-ker.pl.</text>
<line x1="545" y1="281" x2="628.6" y2="281" stroke="#222" stroke-width="0.9"/>
<line x1="545" y1="289.3" x2="628.6" y2="289.3" stroke="#222" stroke-width="0.9"/>
<rect x="620.4" y="281" width="8.2" height="8.3" fill="url(#hp)" stroke="#111" stroke-width="0.9" />
<line x1="628.6" y1="281" x2="690" y2="281" stroke="#888" stroke-width="0.7" stroke-dasharray="3,2"/>
<line x1="628.6" y1="289.3" x2="690" y2="289.3" stroke="#888" stroke-width="0.7" stroke-dasharray="3,2"/>
<rect x="664.5" y="249.3" width="57.5" height="31.4" fill="none" stroke="#333" stroke-width="0.8" />
<line x1="673.4" y1="249.3" x2="673.4" y2="280.7" stroke="#555" stroke-width="0.6"/>
<line x1="682.4" y1="249.3" x2="682.4" y2="280.7" stroke="#555" stroke-width="0.6"/>
<line x1="691.4" y1="249.3" x2="691.4" y2="280.7" stroke="#555" stroke-width="0.6"/>
<line x1="664.5" y1="264.6" x2="691.4" y2="264.6" stroke="#555" stroke-width="0.6"/>
<path d="M691.4 267.3 A13.4 13.4 0 0 1 704.8 280.7" fill="none" stroke="#444" stroke-width="0.6"/>
<text x="667" y="262" font-size="6.3" text-anchor="start" fill="#2a2a2a" font-weight="normal" font-family="Liberation Sans"  stroke="#2a2a2a" stroke-width="0.22">16x28</text>
<text x="667" y="270" font-size="6.3" text-anchor="start" fill="#2a2a2a" font-weight="normal" font-family="Liberation Sans"  stroke="#2a2a2a" stroke-width="0.22">17x17,6</text>
<text x="699.4" y="258.3" font-size="6.3" text-anchor="start" fill="#2a2a2a" font-weight="normal" font-family="Liberation Sans"  stroke="#2a2a2a" stroke-width="0.22">05</text>
<text x="699.4" y="265.5" font-size="6.3" text-anchor="start" fill="#2a2a2a" font-weight="normal" font-family="Liberation Sans"  stroke="#2a2a2a" stroke-width="0.22">stubište</text>
<rect x="680.5" y="281" width="8.2" height="19" fill="url(#hp)" stroke="#111" stroke-width="0.9" />
<line x1="690" y1="281" x2="722" y2="311" stroke="#333" stroke-width="0.8"/>
<line x1="691.5" y1="279.6" x2="722" y2="308" stroke="#333" stroke-width="0.8"/>
<line x1="690" y1="281" x2="722" y2="266" stroke="#444" stroke-width="0.6"/>
<line x1="690" y1="281" x2="712" y2="248" stroke="#444" stroke-width="0.6"/>
<polygon points="701.2,289.7 710.2,289.7 705.7,295" fill="#111" stroke="none" stroke-width="1" />
<line x1="680.4" y1="300" x2="680.4" y2="394.8" stroke="#888" stroke-width="0.6" stroke-dasharray="3,2"/>
<line x1="680.4" y1="394.8" x2="712.3" y2="394.8" stroke="#888" stroke-width="0.6" stroke-dasharray="3,2"/>
<line x1="690" y1="300" x2="712" y2="300" stroke="#999" stroke-width="0.6" stroke-dasharray="2,2"/>
<line x1="690" y1="309" x2="712" y2="309" stroke="#999" stroke-width="0.6" stroke-dasharray="2,2"/>
<line x1="690" y1="318" x2="712" y2="318" stroke="#999" stroke-width="0.6" stroke-dasharray="2,2"/>
<line x1="690" y1="327" x2="712" y2="327" stroke="#999" stroke-width="0.6" stroke-dasharray="2,2"/>
<line x1="690" y1="336" x2="712" y2="336" stroke="#999" stroke-width="0.6" stroke-dasharray="2,2"/>
<line x1="690" y1="345" x2="712" y2="345" stroke="#999" stroke-width="0.6" stroke-dasharray="2,2"/>
<line x1="690" y1="354" x2="712" y2="354" stroke="#999" stroke-width="0.6" stroke-dasharray="2,2"/>
<line x1="690" y1="363" x2="712" y2="363" stroke="#999" stroke-width="0.6" stroke-dasharray="2,2"/>
<line x1="690" y1="372" x2="712" y2="372" stroke="#999" stroke-width="0.6" stroke-dasharray="2,2"/>
<line x1="690" y1="381" x2="712" y2="381" stroke="#999" stroke-width="0.6" stroke-dasharray="2,2"/>
<line x1="690" y1="390" x2="712" y2="390" stroke="#999" stroke-width="0.6" stroke-dasharray="2,2"/>
<polygon points="689,369 697,366 695.5,374" fill="#111" stroke="none" stroke-width="1" />
<rect x="700.5" y="320" width="15.7" height="6.5" fill="#fff" stroke="#222" stroke-width="0.9" />
<text x="708.35" y="324.8" font-size="5.5" text-anchor="middle" fill="#111" font-weight="bold" font-family="Liberation Sans" >UZ2</text>
<rect x="547.3" y="290.4" width="81.4" height="15.6" fill="none" stroke="#b9b9b9" stroke-width="0.8" />
<line x1="566" y1="290.4" x2="566" y2="306" stroke="#b9b9b9" stroke-width="0.6"/>
<line x1="590" y1="290.4" x2="590" y2="306" stroke="#b9b9b9" stroke-width="0.6"/>
<line x1="608" y1="290.4" x2="608" y2="306" stroke="#b9b9b9" stroke-width="0.6"/>
<rect x="547.3" y="306" width="18.7" height="39" fill="none" stroke="#b9b9b9" stroke-width="0.8" />
<circle cx="551.5" cy="313.5" r="2.4" fill="none" stroke="#b9b9b9" stroke-width="0.7"/>
<circle cx="551.5" cy="321" r="2.4" fill="none" stroke="#b9b9b9" stroke-width="0.7"/>
<circle cx="558.5" cy="313.5" r="2.4" fill="none" stroke="#b9b9b9" stroke-width="0.7"/>
<circle cx="558.5" cy="321" r="2.4" fill="none" stroke="#b9b9b9" stroke-width="0.7"/>
<path d="M573 294 L576 302 L579 294 M577 294 L580 302 L583 294" fill="none" stroke="#b9b9b9" stroke-width="0.8" />
<rect x="593" y="293" width="12" height="11" fill="none" stroke="#b9b9b9" stroke-width="0.8" />
<text x="618.5" y="301" font-size="7" text-anchor="middle" fill="#b9b9b9" font-weight="normal" font-family="Liberation Sans"  stroke="#b9b9b9" stroke-width="0.22">*</text>
<rect x="578.6" y="304.8" width="7.1" height="17" fill="#fff" stroke="#222" stroke-width="0.9" />
<text x="584.45" y="313.3" font-size="5.6" text-anchor="middle" fill="#111" font-weight="bold" font-family="Liberation Sans" transform="rotate(-90 584.45 313.3)" >UZ1</text>
<line x1="582" y1="289.3" x2="582" y2="304.8" stroke="#444" stroke-width="0.7"/>
<text x="593.5" y="345.2" font-size="13.5" text-anchor="middle" fill="#414e8e" font-weight="bold" font-family="Liberation Sans" >C2</text>
<rect x="627.4" y="332.2" width="46.2" height="26.1" fill="none" stroke="#b9b9b9" stroke-width="0.8" />
<rect x="634.5" y="324.9" width="12.5" height="7.3" fill="none" stroke="#b9b9b9" stroke-width="0.8" />
<rect x="653.5" y="324.9" width="13.1" height="7.3" fill="none" stroke="#b9b9b9" stroke-width="0.8" />
<rect x="634.5" y="358.3" width="12.5" height="7.8" fill="none" stroke="#b9b9b9" stroke-width="0.8" />
<rect x="653.5" y="358.3" width="13.1" height="7.8" fill="none" stroke="#b9b9b9" stroke-width="0.8" />
<rect x="618.3" y="338.7" width="9.1" height="13.1" fill="none" stroke="#b9b9b9" stroke-width="0.8" />
<rect x="673.6" y="338.7" width="8.6" height="13.1" fill="none" stroke="#b9b9b9" stroke-width="0.8" />
<rect x="547.3" y="368.7" width="35.7" height="80.9" fill="none" stroke="#b9b9b9" stroke-width="0.8" />
<rect x="547.3" y="413" width="86.7" height="36.6" fill="none" stroke="#b9b9b9" stroke-width="0.8" />
<line x1="553" y1="368.7" x2="553" y2="445" stroke="#b9b9b9" stroke-width="0.6"/>
<line x1="553" y1="445" x2="634" y2="445" stroke="#b9b9b9" stroke-width="0.6"/>
<rect x="594.8" y="376.6" width="20.9" height="24.7" fill="none" stroke="#b9b9b9" stroke-width="0.8" />
<line x1="624.8" y1="373.2" x2="624.8" y2="395.9" stroke="#444" stroke-width="0.8"/>
<text x="625.4" y="379.2" font-size="6.6" text-anchor="start" fill="#222" font-weight="normal" font-family="Liberation Sans" letter-spacing="0.15" stroke="#222" stroke-width="0.22">04</text>
<text x="625.4" y="386.8" font-size="6.6" text-anchor="start" fill="#222" font-weight="normal" font-family="Liberation Sans" letter-spacing="0.15" stroke="#222" stroke-width="0.22">d.b./blag/kuhinja</text>
<text x="625.4" y="394.4" font-size="6.6" text-anchor="start" fill="#222" font-weight="normal" font-family="Liberation Sans" letter-spacing="0.15" stroke="#222" stroke-width="0.22">P1-ker.pl.</text>
<line x1="718.8" y1="394.8" x2="718.8" y2="449.6" stroke="#b9b9b9" stroke-width="0.7"/>
<line x1="721.4" y1="394.8" x2="721.4" y2="449.6" stroke="#b9b9b9" stroke-width="0.7"/>
<rect x="689" y="441" width="23" height="8" fill="none" stroke="#b9b9b9" stroke-width="0.7" />
<line x1="545" y1="449" x2="722.2" y2="449" stroke="#222" stroke-width="0.8"/>
<line x1="545" y1="457.3" x2="722.2" y2="457.3" stroke="#222" stroke-width="0.8"/>
<rect x="575.2" y="449.2" width="8.7" height="8.1" fill="url(#hp)" stroke="#111" stroke-width="0.9" />
<rect x="583.9" y="451" width="97.1" height="3" fill="#777" stroke="none" stroke-width="1" />
<rect x="680.4" y="449.2" width="8.2" height="8.1" fill="url(#hp)" stroke="#111" stroke-width="0.9" />
<line x1="557.5" y1="460.5" x2="557.5" y2="535" stroke="#999" stroke-width="0.6"/>
<line x1="559" y1="483.6" x2="559" y2="491.1" stroke="#444" stroke-width="0.8"/>
<text x="559.6" y="489.6" font-size="6.6" text-anchor="start" fill="#222" font-weight="normal" font-family="Liberation Sans" letter-spacing="0.15" stroke="#222" stroke-width="0.22">strojarnica</text>
<line x1="559" y1="484" x2="559" y2="506" stroke="#444" stroke-width="0.8"/>
<text x="554.6" y="497.8" font-size="7" text-anchor="middle" fill="#2a2a2a" font-weight="normal" font-family="Liberation Sans" transform="rotate(-90 554.6 497.8)"  stroke="#2a2a2a" stroke-width="0.22">238</text>
<line x1="546" y1="500.4" x2="722" y2="500.4" stroke="#999" stroke-width="0.8" stroke-dasharray="3,2"/>
<line x1="643.1" y1="478.6" x2="643.1" y2="501.3" stroke="#444" stroke-width="0.8"/>
<text x="643.7" y="484.6" font-size="6.6" text-anchor="start" fill="#222" font-weight="normal" font-family="Liberation Sans" letter-spacing="0.15" stroke="#222" stroke-width="0.22">07</text>
<text x="643.7" y="492.2" font-size="6.6" text-anchor="start" fill="#222" font-weight="normal" font-family="Liberation Sans" letter-spacing="0.15" stroke="#222" stroke-width="0.22">natkrivena terasa</text>
<text x="643.7" y="499.8" font-size="6.6" text-anchor="start" fill="#222" font-weight="normal" font-family="Liberation Sans" letter-spacing="0.15" stroke="#222" stroke-width="0.22">P3-ker.pl.</text>
<circle cx="632.7" cy="497.8" r="6.3" fill="none" stroke="#333" stroke-width="0.8"/>
<line x1="632.7" y1="454" x2="632.7" y2="491.5" stroke="#333" stroke-width="0.8"/>
<text x="629.7" y="473" font-size="7" text-anchor="middle" fill="#2a2a2a" font-weight="normal" font-family="Liberation Sans" transform="rotate(-90 629.7 473)"  stroke="#2a2a2a" stroke-width="0.22">310</text>
<text x="638" y="473" font-size="7" text-anchor="middle" fill="#2a2a2a" font-weight="normal" font-family="Liberation Sans" transform="rotate(-90 638 473)"  stroke="#2a2a2a" stroke-width="0.22">220+20</text>
<line x1="633.5" y1="504" x2="633.5" y2="541" stroke="#777" stroke-width="0.7" stroke-dasharray="6,2,1.2,2"/>
<rect x="687.3" y="470" width="7.7" height="17" fill="#fff" stroke="#222" stroke-width="0.9" />
<text x="693.45" y="478.5" font-size="5.6" text-anchor="middle" fill="#111" font-weight="bold" font-family="Liberation Sans" transform="rotate(-90 693.45 478.5)" >VZ1</text>
<line x1="691" y1="457.3" x2="691" y2="470" stroke="#444" stroke-width="0.7"/>
<text x="708.9" y="476" font-size="7" text-anchor="middle" fill="#2a2a2a" font-weight="normal" font-family="Liberation Sans" transform="rotate(-90 708.9 476)"  stroke="#2a2a2a" stroke-width="0.22">54</text>
<text x="708.9" y="484" font-size="7" text-anchor="middle" fill="#2a2a2a" font-weight="normal" font-family="Liberation Sans" transform="rotate(-90 708.9 484)"  stroke="#2a2a2a" stroke-width="0.22">25</text>
<text x="708.9" y="491" font-size="7" text-anchor="middle" fill="#2a2a2a" font-weight="normal" font-family="Liberation Sans" transform="rotate(-90 708.9 491)"  stroke="#2a2a2a" stroke-width="0.22">22</text>
<text x="708.9" y="498" font-size="7" text-anchor="middle" fill="#2a2a2a" font-weight="normal" font-family="Liberation Sans" transform="rotate(-90 708.9 498)"  stroke="#2a2a2a" stroke-width="0.22">25</text>
<line x1="546" y1="516.8" x2="768" y2="516.8" stroke="#777" stroke-width="0.8"/>
<text x="614" y="514.3" font-size="7" text-anchor="middle" fill="#2a2a2a" font-weight="normal" font-family="Liberation Sans"  stroke="#2a2a2a" stroke-width="0.22">439</text>
<text x="702.5" y="514.3" font-size="7" text-anchor="middle" fill="#2a2a2a" font-weight="normal" font-family="Liberation Sans"  stroke="#2a2a2a" stroke-width="0.22">126</text>
<text x="726.6" y="514.3" font-size="7" text-anchor="middle" fill="#2a2a2a" font-weight="normal" font-family="Liberation Sans"  stroke="#2a2a2a" stroke-width="0.22">25</text>
<text x="750" y="514.3" font-size="7" text-anchor="middle" fill="#2a2a2a" font-weight="normal" font-family="Liberation Sans"  stroke="#2a2a2a" stroke-width="0.22">125</text>
<text x="767" y="514.3" font-size="7" text-anchor="middle" fill="#2a2a2a" font-weight="normal" font-family="Liberation Sans"  stroke="#2a2a2a" stroke-width="0.22">20</text>
<line x1="545.25" y1="518.6" x2="546.75" y2="515" stroke="#222" stroke-width="0.9"/>
<line x1="681.55" y1="518.6" x2="683.05" y2="515" stroke="#222" stroke-width="0.9"/>
<line x1="721.45" y1="518.6" x2="722.95" y2="515" stroke="#222" stroke-width="0.9"/>
<line x1="729.65" y1="518.6" x2="731.15" y2="515" stroke="#222" stroke-width="0.9"/>
<line x1="769.25" y1="518.6" x2="770.75" y2="515" stroke="#222" stroke-width="0.9"/>
<line x1="775.25" y1="518.6" x2="776.75" y2="515" stroke="#222" stroke-width="0.9"/>
<line x1="776" y1="516.8" x2="946" y2="516.8" stroke="#777" stroke-width="0.8"/>
<text x="861" y="514.3" font-size="7" text-anchor="middle" fill="#2a2a2a" font-weight="normal" font-family="Liberation Sans"  stroke="#2a2a2a" stroke-width="0.22">540</text>
<line x1="945.25" y1="518.6" x2="946.75" y2="515" stroke="#222" stroke-width="0.9"/>
<path d="M539 527.7 H498 V661.4" fill="none" stroke="#444" stroke-width="0.8" />
<path d="M545 535.6 H506.6 V661.4" fill="none" stroke="#444" stroke-width="0.8" />
<path d="M722.2 497.8 V540.3 H761.5 V662" fill="none" stroke="#444" stroke-width="0.8" />
<path d="M730.4 499 V532.7 H769 V662" fill="none" stroke="#444" stroke-width="0.8" />
<rect x="721.7" y="159.5" width="12" height="339.5" fill="#111" stroke="none" stroke-width="1" />
<rect x="722.7" y="160.5" width="5.3" height="337.5" fill="#1e96d2" stroke="none" stroke-width="1" />
<rect x="728" y="160.5" width="4.7" height="337.5" fill="#e8832e" stroke="none" stroke-width="1" />
<rect x="728" y="160" width="8.2" height="7" fill="#fff" stroke="#151515" stroke-width="0.8" />
<rect x="729" y="161" width="6.2" height="5" fill="#e8832e" stroke="none" stroke-width="1" />
<rect x="766" y="160" width="24" height="6.5" fill="#fff" stroke="#151515" stroke-width="0.8" />
<rect x="767" y="161" width="22" height="4.5" fill="#e8832e" stroke="none" stroke-width="1" />
<rect x="784.3" y="160" width="5.7" height="30" fill="#fff" stroke="#151515" stroke-width="0.8" />
<rect x="785.3" y="161" width="3.7" height="28" fill="#e8832e" stroke="none" stroke-width="1" />
<rect x="781.8" y="182.3" width="10.7" height="7.7" fill="url(#hp)" stroke="#111" stroke-width="0.9" />
<path d="M736.8 132.3 A29 29 0 0 1 766 160" fill="none" stroke="#333" stroke-width="0.8"/>
<line x1="736.8" y1="132.3" x2="736.8" y2="160" stroke="#555" stroke-width="0.7"/>
<text x="745" y="146" font-size="7" text-anchor="middle" fill="#2a2a2a" font-weight="normal" font-family="Liberation Sans" transform="rotate(-90 745 146)"  stroke="#2a2a2a" stroke-width="0.22">100</text>
<text x="753" y="146" font-size="7" text-anchor="middle" fill="#2a2a2a" font-weight="normal" font-family="Liberation Sans" transform="rotate(-90 753 146)"  stroke="#2a2a2a" stroke-width="0.22">220</text>
<line x1="741.3" y1="110" x2="757.7" y2="110" stroke="#111" stroke-width="1.6"/>
<line x1="741.3" y1="110" x2="741.3" y2="131.6" stroke="#111" stroke-width="1.1"/>
<text x="753" y="117.8" font-size="11.5" text-anchor="middle" fill="#111" font-weight="bold" font-family="Liberation Sans" transform="rotate(-90 753 117.8)" stroke="#111" stroke-width="1.2">D</text>
<circle cx="751.4" cy="122.8" r="6.3" fill="none" stroke="#333" stroke-width="0.8"/>
<line x1="751.4" y1="129" x2="751.4" y2="168" stroke="#444" stroke-width="0.7"/>
<line x1="741.3" y1="168" x2="741.3" y2="426" stroke="#444" stroke-width="0.8" stroke-dasharray="6,2,1.2,2"/>
<rect x="773" y="133.5" width="6.9" height="17.8" fill="#fff" stroke="#222" stroke-width="0.9" />
<text x="778.75" y="142.4" font-size="5.6" text-anchor="middle" fill="#111" font-weight="bold" font-family="Liberation Sans" transform="rotate(-90 778.75 142.4)" >VZ1</text>
<line x1="776.7" y1="151.3" x2="776.7" y2="160" stroke="#444" stroke-width="0.7"/>
<rect x="798.2" y="166.5" width="17.8" height="6.9" fill="#fff" stroke="#222" stroke-width="0.9" />
<text x="807.1" y="171.7" font-size="6.5" text-anchor="middle" fill="#111" font-weight="bold" font-family="Liberation Sans" >VZ1</text>
<line x1="790" y1="170" x2="798.2" y2="170" stroke="#444" stroke-width="0.7"/>
<text x="827.6" y="172.8" font-size="10.5" text-anchor="middle" fill="#111" font-weight="normal" font-family="Liberation Sans" >C3</text>
<polygon points="817.2,179 837.5,179 827.35,189.2" fill="#111" stroke="none" stroke-width="1" />
<rect x="792.5" y="183" width="19.7" height="6.5" fill="#fff" stroke="#333" stroke-width="0.7" />
<line x1="792.5" y1="186.25" x2="812.2" y2="186.25" stroke="#777" stroke-width="1.2"/>
<rect x="844" y="182.2" width="81" height="4.8" fill="#fff" stroke="#151515" stroke-width="0.8" />
<rect x="845" y="183.2" width="79" height="2.8" fill="#e8832e" stroke="none" stroke-width="1" />
<rect x="918.4" y="182.2" width="6.3" height="25.8" fill="#fff" stroke="#151515" stroke-width="0.8" />
<rect x="919.4" y="183.2" width="4.3" height="23.8" fill="#e8832e" stroke="none" stroke-width="1" />
<rect x="919" y="208" width="5" height="17.8" fill="#fff" stroke="#333" stroke-width="0.7" />
<line x1="921.5" y1="208" x2="921.5" y2="225.8" stroke="#777" stroke-width="1.2"/>
<rect x="917.6" y="225.8" width="6" height="54.2" fill="#fff" stroke="#151515" stroke-width="0.8" />
<rect x="918.6" y="226.8" width="4" height="52.2" fill="#e8832e" stroke="none" stroke-width="1" />
<rect x="918" y="280" width="5.2" height="43" fill="#fff" stroke="#333" stroke-width="0.7" />
<line x1="920.6" y1="280" x2="920.6" y2="323" stroke="#777" stroke-width="1.2"/>
<rect x="917" y="323" width="6.6" height="111" fill="#fff" stroke="#151515" stroke-width="0.8" />
<rect x="918" y="324" width="4.6" height="109" fill="#e8832e" stroke="none" stroke-width="1" />
<line x1="792.5" y1="190.4" x2="918" y2="190.4" stroke="#222" stroke-width="0.8"/>
<line x1="781.8" y1="190" x2="781.8" y2="236" stroke="#222" stroke-width="0.8"/>
<line x1="790" y1="190" x2="790" y2="236" stroke="#222" stroke-width="0.8"/>
<line x1="738.1" y1="184.5" x2="738.1" y2="207.2" stroke="#444" stroke-width="0.8"/>
<text x="738.7" y="190.5" font-size="6.6" text-anchor="start" fill="#222" font-weight="normal" font-family="Liberation Sans" letter-spacing="0.15" stroke="#222" stroke-width="0.22">01</text>
<text x="738.7" y="198.1" font-size="6.6" text-anchor="start" fill="#222" font-weight="normal" font-family="Liberation Sans" letter-spacing="0.15" stroke="#222" stroke-width="0.22">spremište</text>
<text x="738.7" y="205.7" font-size="6.6" text-anchor="start" fill="#222" font-weight="normal" font-family="Liberation Sans" letter-spacing="0.15" stroke="#222" stroke-width="0.22">P2-ker.pl.</text>
<rect x="752" y="235" width="16" height="6.5" fill="#fff" stroke="#222" stroke-width="0.9" />
<text x="760" y="239.8" font-size="6.5" text-anchor="middle" fill="#111" font-weight="bold" font-family="Liberation Sans" >UZ1</text>
<line x1="768" y1="238" x2="781.8" y2="238" stroke="#333" stroke-width="0.7"/>
<rect x="781.8" y="236" width="8.2" height="8" fill="url(#hp)" stroke="#111" stroke-width="0.9" />
<line x1="733" y1="244" x2="800" y2="244" stroke="#555" stroke-width="0.6"/>
<line x1="827.2" y1="189.2" x2="827.2" y2="220" stroke="#333" stroke-width="0.8"/>
<circle cx="827.2" cy="226.5" r="6.3" fill="none" stroke="#333" stroke-width="0.8"/>
<text x="823.5" y="205" font-size="7" text-anchor="middle" fill="#2a2a2a" font-weight="normal" font-family="Liberation Sans" transform="rotate(-90 823.5 205)"  stroke="#2a2a2a" stroke-width="0.22">165</text>
<text x="831.5" y="205" font-size="7" text-anchor="middle" fill="#2a2a2a" font-weight="normal" font-family="Liberation Sans" transform="rotate(-90 831.5 205)"  stroke="#2a2a2a" stroke-width="0.22">220</text>
<path d="M810.8 190.4 A33 33 0 0 0 844 223" fill="none" stroke="#333" stroke-width="0.8"/>
<line x1="809.4" y1="204" x2="809.4" y2="226.7" stroke="#444" stroke-width="0.8"/>
<text x="810" y="210" font-size="6.6" text-anchor="start" fill="#222" font-weight="normal" font-family="Liberation Sans" letter-spacing="0.15" stroke="#222" stroke-width="0.22">03</text>
<text x="810" y="217.6" font-size="6.6" text-anchor="start" fill="#222" font-weight="normal" font-family="Liberation Sans" letter-spacing="0.15" stroke="#222" stroke-width="0.22">hodnik</text>
<text x="810" y="225.2" font-size="6.6" text-anchor="start" fill="#222" font-weight="normal" font-family="Liberation Sans" letter-spacing="0.15" stroke="#222" stroke-width="0.22">P1-ker.pl.</text>
<line x1="808.2" y1="190.4" x2="808.2" y2="234.7" stroke="#444" stroke-width="0.7"/>
<line x1="809.5" y1="190.4" x2="809.5" y2="234.7" stroke="#444" stroke-width="0.7"/>
<line x1="843.7" y1="190.4" x2="843.7" y2="236" stroke="#333" stroke-width="0.8"/>
<line x1="848" y1="190.4" x2="848" y2="236" stroke="#333" stroke-width="0.8"/>
<line x1="845.6" y1="234.7" x2="916.5" y2="234.7" stroke="#333" stroke-width="0.8"/>
<line x1="845.6" y1="238.5" x2="916.5" y2="238.5" stroke="#333" stroke-width="0.8"/>
<rect x="850" y="191" width="19.6" height="12" fill="none" stroke="#b9b9b9" stroke-width="0.8" />
<rect x="879" y="194.8" width="11.5" height="17.2" fill="none" stroke="#b9b9b9" stroke-width="0.8" />
<circle cx="907.6" cy="199.2" r="9" fill="none" stroke="#b9b9b9" stroke-width="0.8"/>
<path d="M846.2 207.6 A22 22 0 0 1 869.6 229.6" fill="none" stroke="#333" stroke-width="0.8"/>
<text x="856.3" y="219.5" font-size="7.2" text-anchor="middle" fill="#2a2a2a" font-weight="normal" font-family="Liberation Sans"  stroke="#2a2a2a" stroke-width="0.22">65</text>
<text x="856.3" y="227.7" font-size="7.2" text-anchor="middle" fill="#2a2a2a" font-weight="normal" font-family="Liberation Sans"  stroke="#2a2a2a" stroke-width="0.22">200</text>
<circle cx="881.6" cy="220.8" r="6.5" fill="none" stroke="#333" stroke-width="0.8"/>
<line x1="869.6" y1="221" x2="875" y2="221" stroke="#444" stroke-width="0.7"/>
<text x="896.8" y="219.5" font-size="7.3" text-anchor="start" fill="#111" font-weight="bold" font-family="Liberation Sans" >P=110</text>
<line x1="931.7" y1="176.8" x2="931.7" y2="198.7" stroke="#444" stroke-width="0.8"/>
<text x="932.3" y="182.8" font-size="6.6" text-anchor="start" fill="#222" font-weight="normal" font-family="Liberation Sans" letter-spacing="0.15" stroke="#222" stroke-width="0.22">02</text>
<text x="932.3" y="190" font-size="6.6" text-anchor="start" fill="#222" font-weight="normal" font-family="Liberation Sans" letter-spacing="0.15" stroke="#222" stroke-width="0.22">wc</text>
<text x="932.3" y="197.2" font-size="6.6" text-anchor="start" fill="#222" font-weight="normal" font-family="Liberation Sans" letter-spacing="0.15" stroke="#222" stroke-width="0.22">P2-ker.pl.</text>
<line x1="912.7" y1="198" x2="931.6" y2="198" stroke="#444" stroke-width="0.7"/>
<text x="943" y="213.8" font-size="7.4" text-anchor="middle" fill="#2a2a2a" font-weight="normal" font-family="Liberation Sans"  stroke="#2a2a2a" stroke-width="0.22">60</text>
<text x="943" y="222.7" font-size="7.4" text-anchor="middle" fill="#2a2a2a" font-weight="normal" font-family="Liberation Sans"  stroke="#2a2a2a" stroke-width="0.22">110+20</text>
<line x1="924.7" y1="216.3" x2="956" y2="216.3" stroke="#333" stroke-width="0.8"/>
<circle cx="962.5" cy="216.3" r="6.3" fill="none" stroke="#333" stroke-width="0.8"/>
<rect x="909" y="158.2" width="6.5" height="16.3" fill="#fff" stroke="#222" stroke-width="0.9" />
<text x="914.55" y="166.35" font-size="5.6" text-anchor="middle" fill="#111" font-weight="bold" font-family="Liberation Sans" transform="rotate(-90 914.55 166.35)" >VZ1</text>
<line x1="912.2" y1="174.5" x2="912.2" y2="182" stroke="#555" stroke-width="0.7"/>
<line x1="855.9" y1="125.5" x2="855.9" y2="148.2" stroke="#444" stroke-width="0.8"/>
<text x="856.5" y="131.5" font-size="6.6" text-anchor="start" fill="#222" font-weight="normal" font-family="Liberation Sans" letter-spacing="0.15" stroke="#222" stroke-width="0.22">06</text>
<text x="856.5" y="139.1" font-size="6.6" text-anchor="start" fill="#222" font-weight="normal" font-family="Liberation Sans" letter-spacing="0.15" stroke="#222" stroke-width="0.22">natkriveni ulaz</text>
<text x="856.5" y="146.7" font-size="6.6" text-anchor="start" fill="#222" font-weight="normal" font-family="Liberation Sans" letter-spacing="0.15" stroke="#222" stroke-width="0.22">P3-ker.pl.</text>
<line x1="856" y1="145" x2="856" y2="171" stroke="#444" stroke-width="0.8"/>
<rect x="848" y="238.5" width="68.5" height="19" fill="none" stroke="#b9b9b9" stroke-width="0.8" />
<line x1="866" y1="238.5" x2="866" y2="257.5" stroke="#b9b9b9" stroke-width="0.6"/>
<line x1="877" y1="238.5" x2="877" y2="257.5" stroke="#b9b9b9" stroke-width="0.6"/>
<line x1="899" y1="238.5" x2="899" y2="257.5" stroke="#b9b9b9" stroke-width="0.6"/>
<text x="860" y="251" font-size="7" text-anchor="middle" fill="#b9b9b9" font-weight="normal" font-family="Liberation Sans"  stroke="#b9b9b9" stroke-width="0.22">*</text>
<circle cx="883.5" cy="244.2" r="2.4" fill="none" stroke="#b9b9b9" stroke-width="0.7"/>
<circle cx="883.5" cy="251.8" r="2.4" fill="none" stroke="#b9b9b9" stroke-width="0.7"/>
<circle cx="893" cy="244.2" r="2.4" fill="none" stroke="#b9b9b9" stroke-width="0.7"/>
<circle cx="893" cy="251.8" r="2.4" fill="none" stroke="#b9b9b9" stroke-width="0.7"/>
<rect x="897.5" y="280" width="18.2" height="39" fill="none" stroke="#b9b9b9" stroke-width="0.8" />
<line x1="897.5" y1="300" x2="915.7" y2="300" stroke="#b9b9b9" stroke-width="0.6"/>
<path d="M900 284 L903 292 L906 284 M904 284 L907 292 L910 284" fill="none" stroke="#b9b9b9" stroke-width="0.8" />
<text x="897.5" y="315.2" font-size="7.3" text-anchor="start" fill="#111" font-weight="bold" font-family="Liberation Sans" >P=110</text>
<text x="881" y="323" font-size="13.5" text-anchor="middle" fill="#414e8e" font-weight="bold" font-family="Liberation Sans" >C3</text>
<text x="941.8" y="293.6" font-size="7.4" text-anchor="middle" fill="#2a2a2a" font-weight="normal" font-family="Liberation Sans"  stroke="#2a2a2a" stroke-width="0.22">140</text>
<text x="941.8" y="300.9" font-size="7.4" text-anchor="middle" fill="#2a2a2a" font-weight="normal" font-family="Liberation Sans"  stroke="#2a2a2a" stroke-width="0.22">60+20</text>
<line x1="924" y1="296.2" x2="962.7" y2="296.2" stroke="#333" stroke-width="0.8"/>
<circle cx="969.2" cy="296.2" r="6.3" fill="none" stroke="#333" stroke-width="0.8"/>
<rect x="932.7" y="336.9" width="16.9" height="5.7" fill="#fff" stroke="#222" stroke-width="0.9" />
<text x="941.15" y="340.9" font-size="6.5" text-anchor="middle" fill="#111" font-weight="bold" font-family="Liberation Sans" >VZ1</text>
<line x1="923.6" y1="340" x2="932.7" y2="340" stroke="#333" stroke-width="0.7"/>
<rect x="768" y="244" width="28" height="22.4" fill="none" stroke="#333" stroke-width="0.8" />
<line x1="777" y1="244" x2="777" y2="266.4" stroke="#555" stroke-width="0.6"/>
<line x1="786" y1="244" x2="786" y2="266.4" stroke="#555" stroke-width="0.6"/>
<line x1="768" y1="255" x2="796" y2="255" stroke="#555" stroke-width="0.6"/>
<text x="770" y="256" font-size="6.3" text-anchor="start" fill="#2a2a2a" font-weight="normal" font-family="Liberation Sans"  stroke="#2a2a2a" stroke-width="0.22">16x28</text>
<text x="770" y="264" font-size="6.3" text-anchor="start" fill="#2a2a2a" font-weight="normal" font-family="Liberation Sans"  stroke="#2a2a2a" stroke-width="0.22">17x17,6</text>
<line x1="733" y1="266.4" x2="768" y2="266.4" stroke="#333" stroke-width="0.8"/>
<text x="735.5" y="261.5" font-size="6.3" text-anchor="start" fill="#2a2a2a" font-weight="normal" font-family="Liberation Sans"  stroke="#2a2a2a" stroke-width="0.22">05</text>
<text x="735.5" y="269.5" font-size="6.3" text-anchor="start" fill="#2a2a2a" font-weight="normal" font-family="Liberation Sans"  stroke="#2a2a2a" stroke-width="0.22">stubište</text>
<rect x="765.6" y="266.4" width="8.8" height="19" fill="url(#hp)" stroke="#111" stroke-width="0.9" />
<line x1="764.3" y1="272.7" x2="733.3" y2="300.6" stroke="#333" stroke-width="0.8"/>
<line x1="765.5" y1="274.8" x2="734.5" y2="302.7" stroke="#333" stroke-width="0.8"/>
<line x1="765.6" y1="266.4" x2="748" y2="244" stroke="#444" stroke-width="0.6"/>
<line x1="765.6" y1="266.4" x2="733" y2="250" stroke="#444" stroke-width="0.6"/>
<path d="M752 266.4 A14 14 0 0 1 765.6 253" fill="none" stroke="#444" stroke-width="0.6"/>
<polygon points="744.7,279 753.5,279 749.1,284.7" fill="#111" stroke="none" stroke-width="1" />
<line x1="749.6" y1="286" x2="749.6" y2="379.3" stroke="#888" stroke-width="0.6" stroke-dasharray="3,2"/>
<line x1="764.9" y1="286" x2="764.9" y2="379.3" stroke="#888" stroke-width="0.6" stroke-dasharray="3,2"/>
<line x1="774.7" y1="286" x2="774.7" y2="379.3" stroke="#888" stroke-width="0.6" stroke-dasharray="3,2"/>
<line x1="733.5" y1="290" x2="764.3" y2="290" stroke="#999" stroke-width="0.6" stroke-dasharray="2,2"/>
<line x1="733.5" y1="299" x2="764.3" y2="299" stroke="#999" stroke-width="0.6" stroke-dasharray="2,2"/>
<line x1="733.5" y1="308" x2="764.3" y2="308" stroke="#999" stroke-width="0.6" stroke-dasharray="2,2"/>
<line x1="733.5" y1="317" x2="764.3" y2="317" stroke="#999" stroke-width="0.6" stroke-dasharray="2,2"/>
<line x1="733.5" y1="326" x2="764.3" y2="326" stroke="#999" stroke-width="0.6" stroke-dasharray="2,2"/>
<line x1="733.5" y1="335" x2="764.3" y2="335" stroke="#999" stroke-width="0.6" stroke-dasharray="2,2"/>
<line x1="733.5" y1="344" x2="764.3" y2="344" stroke="#999" stroke-width="0.6" stroke-dasharray="2,2"/>
<line x1="733.5" y1="353" x2="764.3" y2="353" stroke="#999" stroke-width="0.6" stroke-dasharray="2,2"/>
<line x1="733.5" y1="362" x2="764.3" y2="362" stroke="#999" stroke-width="0.6" stroke-dasharray="2,2"/>
<line x1="733.5" y1="371" x2="764.3" y2="371" stroke="#999" stroke-width="0.6" stroke-dasharray="2,2"/>
<polygon points="759.2,350.6 766.2,355 759.5,358.2" fill="#111" stroke="none" stroke-width="1" />
<line x1="741.6" y1="379.3" x2="774.7" y2="379.3" stroke="#888" stroke-width="0.6" stroke-dasharray="3,2"/>
<rect x="815.6" y="285.4" width="24.7" height="53.1" fill="none" stroke="#b9b9b9" stroke-width="0.8" />
<rect x="821.3" y="277" width="13.3" height="8.4" fill="none" stroke="#b9b9b9" stroke-width="0.8" />
<rect x="821.3" y="338.5" width="13.3" height="7.5" fill="none" stroke="#b9b9b9" stroke-width="0.8" />
<rect x="807.3" y="292.3" width="8.3" height="12.7" fill="none" stroke="#b9b9b9" stroke-width="0.8" />
<rect x="807.3" y="318.3" width="8.3" height="13.3" fill="none" stroke="#b9b9b9" stroke-width="0.8" />
<rect x="840.3" y="292.3" width="8.8" height="12.7" fill="none" stroke="#b9b9b9" stroke-width="0.8" />
<rect x="840.3" y="318.3" width="8.8" height="13.3" fill="none" stroke="#b9b9b9" stroke-width="0.8" />
<rect x="829.6" y="392.2" width="86.1" height="33.9" fill="none" stroke="#b9b9b9" stroke-width="0.8" />
<rect x="880.5" y="346.5" width="35.2" height="79.6" fill="none" stroke="#b9b9b9" stroke-width="0.8" />
<line x1="829.6" y1="421" x2="911" y2="421" stroke="#b9b9b9" stroke-width="0.6"/>
<line x1="911" y1="346.5" x2="911" y2="421" stroke="#b9b9b9" stroke-width="0.6"/>
<rect x="847.9" y="355.7" width="19.5" height="23.5" fill="none" stroke="#b9b9b9" stroke-width="0.8" />
<line x1="788.6" y1="355.4" x2="788.6" y2="378.1" stroke="#444" stroke-width="0.8"/>
<text x="789.2" y="361.4" font-size="6.6" text-anchor="start" fill="#222" font-weight="normal" font-family="Liberation Sans" letter-spacing="0.15" stroke="#222" stroke-width="0.22">04</text>
<text x="789.2" y="369" font-size="6.6" text-anchor="start" fill="#222" font-weight="normal" font-family="Liberation Sans" letter-spacing="0.15" stroke="#222" stroke-width="0.22">d.b./blag/kuhinja</text>
<text x="789.2" y="376.6" font-size="6.6" text-anchor="start" fill="#222" font-weight="normal" font-family="Liberation Sans" letter-spacing="0.15" stroke="#222" stroke-width="0.22">P1-ker.pl.</text>
<line x1="735" y1="372" x2="735" y2="421" stroke="#b9b9b9" stroke-width="0.7"/>
<line x1="737" y1="372" x2="737" y2="421" stroke="#b9b9b9" stroke-width="0.7"/>
<rect x="738" y="418" width="28" height="9" fill="none" stroke="#b9b9b9" stroke-width="0.7" />
<rect x="733" y="427" width="33" height="7" fill="#fff" stroke="#151515" stroke-width="0.8" />
<rect x="734" y="428" width="31" height="5" fill="#e8832e" stroke="none" stroke-width="1" />
<rect x="766" y="427" width="8.8" height="7" fill="url(#hp)" stroke="#111" stroke-width="0.9" />
<rect x="774.8" y="429.5" width="96.6" height="2.5" fill="#777" stroke="none" stroke-width="1" />
<line x1="774.8" y1="427.3" x2="871.4" y2="427.3" stroke="#555" stroke-width="0.6"/>
<line x1="774.8" y1="434" x2="871.4" y2="434" stroke="#555" stroke-width="0.6"/>
<rect x="871.4" y="427" width="7.9" height="7" fill="url(#hp)" stroke="#111" stroke-width="0.9" />
<rect x="879" y="427" width="44.6" height="7" fill="#fff" stroke="#151515" stroke-width="0.8" />
<rect x="880" y="428" width="42.6" height="5" fill="#e8832e" stroke="none" stroke-width="1" />
<line x1="733.5" y1="485.3" x2="929.7" y2="485.3" stroke="#999" stroke-width="0.8" stroke-dasharray="3,2"/>
<line x1="929.7" y1="436.5" x2="929.7" y2="485.3" stroke="#aaa" stroke-width="0.8" stroke-dasharray="3,2"/>
<line x1="848.1" y1="448.3" x2="848.1" y2="471" stroke="#444" stroke-width="0.8"/>
<text x="848.7" y="454.3" font-size="6.6" text-anchor="start" fill="#222" font-weight="normal" font-family="Liberation Sans" letter-spacing="0.15" stroke="#222" stroke-width="0.22">07</text>
<text x="848.7" y="461.9" font-size="6.6" text-anchor="start" fill="#222" font-weight="normal" font-family="Liberation Sans" letter-spacing="0.15" stroke="#222" stroke-width="0.22">natkrivena terasa</text>
<text x="848.7" y="469.5" font-size="6.6" text-anchor="start" fill="#222" font-weight="normal" font-family="Liberation Sans" letter-spacing="0.15" stroke="#222" stroke-width="0.22">P3-ker.pl.</text>
<circle cx="820.5" cy="481" r="6.3" fill="none" stroke="#333" stroke-width="0.8"/>
<line x1="820.5" y1="434" x2="820.5" y2="474.7" stroke="#333" stroke-width="0.8"/>
<text x="817" y="460" font-size="7" text-anchor="middle" fill="#2a2a2a" font-weight="normal" font-family="Liberation Sans" transform="rotate(-90 817 460)"  stroke="#2a2a2a" stroke-width="0.22">310</text>
<text x="825.7" y="460" font-size="7" text-anchor="middle" fill="#2a2a2a" font-weight="normal" font-family="Liberation Sans" transform="rotate(-90 825.7 460)"  stroke="#2a2a2a" stroke-width="0.22">220+20</text>
<line x1="820.5" y1="487.3" x2="820.5" y2="507" stroke="#111" stroke-width="1.1"/>
<line x1="820.5" y1="507" x2="834.8" y2="507" stroke="#111" stroke-width="1.6"/>
<text x="832.5" y="499.2" font-size="11.5" text-anchor="middle" fill="#111" font-weight="bold" font-family="Liberation Sans" transform="rotate(-90 832.5 499.2)" stroke="#111" stroke-width="1.2">D</text>
<rect x="794.4" y="445.7" width="7.8" height="17" fill="#fff" stroke="#222" stroke-width="0.9" />
<text x="800.6" y="454.2" font-size="5.6" text-anchor="middle" fill="#111" font-weight="bold" font-family="Liberation Sans" transform="rotate(-90 800.6 454.2)" >VZ1</text>
<line x1="798.3" y1="434" x2="798.3" y2="445.7" stroke="#444" stroke-width="0.7"/>
<text x="908.4" y="483.5" font-size="7" text-anchor="middle" fill="#2a2a2a" font-weight="normal" font-family="Liberation Sans" transform="rotate(-90 908.4 483.5)"  stroke="#2a2a2a" stroke-width="0.22">301</text>
<line x1="912.6" y1="436" x2="912.6" y2="533" stroke="#777" stroke-width="0.7"/>
<line x1="735.6" y1="461.9" x2="735.6" y2="469.4" stroke="#444" stroke-width="0.8"/>
<text x="736.2" y="467.9" font-size="6.6" text-anchor="start" fill="#222" font-weight="normal" font-family="Liberation Sans" letter-spacing="0.15" stroke="#222" stroke-width="0.22">strojarnica</text>
<rect x="738.3" y="484.9" width="16.9" height="5.4" fill="#fff" stroke="#222" stroke-width="0.9" />
<text x="746.75" y="488.6" font-size="6.5" text-anchor="middle" fill="#111" font-weight="bold" font-family="Liberation Sans" >VZ1</text>
<line x1="775.8" y1="436" x2="775.8" y2="485" stroke="#ccc" stroke-width="0.6"/>
<text x="405" y="546" font-size="6.5" text-anchor="start" fill="#7fa9b8" font-weight="normal" font-family="Liberation Sans"  stroke="#7fa9b8" stroke-width="0.22">bazen</text>
<line x1="404" y1="540" x2="404" y2="563" stroke="#7fa9b8" stroke-width="0.7"/>
<line x1="347" y1="590" x2="453" y2="590" stroke="#8ab" stroke-width="0.7"/>
<text x="400" y="588.3" font-size="7.2" text-anchor="middle" fill="#7fa9b8" font-weight="normal" font-family="Liberation Sans"  stroke="#7fa9b8" stroke-width="0.22">300</text>
<line x1="347" y1="602.4" x2="453" y2="602.4" stroke="#8ab" stroke-width="0.7"/>
<text x="400" y="600.5" font-size="7.2" text-anchor="middle" fill="#7fa9b8" font-weight="normal" font-family="Liberation Sans"  stroke="#7fa9b8" stroke-width="0.22">340</text>
<text x="349" y="588.5" font-size="6.8" text-anchor="middle" fill="#333" font-weight="normal" font-family="Liberation Sans"  stroke="#333" stroke-width="0.22">20</text>
<text x="450.5" y="588.5" font-size="6.8" text-anchor="middle" fill="#333" font-weight="normal" font-family="Liberation Sans"  stroke="#333" stroke-width="0.22">20</text>
<rect x="435" y="506" width="8" height="8" fill="#8fb5c2" stroke="none" stroke-width="1" />
<line x1="432" y1="517" x2="444" y2="517" stroke="#8fb5c2" stroke-width="1.5"/>
<text x="320.5" y="567" font-size="7" text-anchor="middle" fill="#2a2a2a" font-weight="normal" font-family="Liberation Sans" transform="rotate(-90 320.5 567)"  stroke="#2a2a2a" stroke-width="0.22">540</text>
<text x="333" y="567" font-size="7" text-anchor="middle" fill="#2a2a2a" font-weight="normal" font-family="Liberation Sans" transform="rotate(-90 333 567)"  stroke="#2a2a2a" stroke-width="0.22">500</text>
<line x1="320.5" y1="482.3" x2="320.5" y2="652.3" stroke="#777" stroke-width="0.8"/>
<line x1="336" y1="482.3" x2="336" y2="652.3" stroke="#777" stroke-width="0.8"/>
<line x1="318.7" y1="483.05" x2="322.3" y2="481.55" stroke="#222" stroke-width="0.9"/>
<line x1="318.7" y1="653.05" x2="322.3" y2="651.55" stroke="#222" stroke-width="0.9"/>
<line x1="334.2" y1="489.25" x2="337.8" y2="487.75" stroke="#222" stroke-width="0.9"/>
<line x1="334.2" y1="646.75" x2="337.8" y2="645.25" stroke="#222" stroke-width="0.9"/>
<text x="333" y="489" font-size="7" text-anchor="middle" fill="#2a2a2a" font-weight="normal" font-family="Liberation Sans" transform="rotate(-90 333 489)"  stroke="#2a2a2a" stroke-width="0.22">20</text>
<text x="333" y="652" font-size="7" text-anchor="middle" fill="#2a2a2a" font-weight="normal" font-family="Liberation Sans" transform="rotate(-90 333 652)"  stroke="#2a2a2a" stroke-width="0.22">20</text>
<line x1="285.8" y1="500" x2="285.8" y2="527.5" stroke="#888" stroke-width="0.8"/>
<line x1="284" y1="527.75" x2="287.6" y2="526.25" stroke="#222" stroke-width="0.9"/>
<text x="284" y="533" font-size="7" text-anchor="middle" fill="#2a2a2a" font-weight="normal" font-family="Liberation Sans" transform="rotate(-90 284 533)"  stroke="#2a2a2a" stroke-width="0.22">97</text>
<text x="594" y="573" font-size="6.5" text-anchor="start" fill="#7fa9b8" font-weight="normal" font-family="Liberation Sans"  stroke="#7fa9b8" stroke-width="0.22">bazen</text>
<line x1="593" y1="568" x2="593" y2="590" stroke="#7fa9b8" stroke-width="0.7"/>
<line x1="512.5" y1="596.3" x2="682.3" y2="596.3" stroke="#8ab" stroke-width="0.7"/>
<text x="597" y="594.4" font-size="7.2" text-anchor="middle" fill="#7fa9b8" font-weight="normal" font-family="Liberation Sans"  stroke="#7fa9b8" stroke-width="0.22">500</text>
<line x1="512.5" y1="609.2" x2="682.3" y2="609.2" stroke="#8ab" stroke-width="0.7"/>
<text x="597" y="606.8" font-size="7.2" text-anchor="middle" fill="#7fa9b8" font-weight="normal" font-family="Liberation Sans"  stroke="#7fa9b8" stroke-width="0.22">540</text>
<rect x="620" y="545" width="10" height="6" fill="#8fb5c2" stroke="none" stroke-width="1" />
<line x1="617" y1="554" x2="632" y2="554" stroke="#8fb5c2" stroke-width="1.5"/>
<text x="690" y="592" font-size="7" text-anchor="middle" fill="#2a2a2a" font-weight="normal" font-family="Liberation Sans" transform="rotate(-90 690 592)"  stroke="#2a2a2a" stroke-width="0.22">300</text>
<text x="702.5" y="592" font-size="7" text-anchor="middle" fill="#2a2a2a" font-weight="normal" font-family="Liberation Sans" transform="rotate(-90 702.5 592)"  stroke="#2a2a2a" stroke-width="0.22">340</text>
<line x1="693.7" y1="535.6" x2="693.7" y2="642" stroke="#777" stroke-width="0.8"/>
<line x1="705.5" y1="535.6" x2="705.5" y2="642" stroke="#777" stroke-width="0.8"/>
<text x="504" y="592" font-size="7" text-anchor="middle" fill="#333" font-weight="normal" font-family="Liberation Sans"  stroke="#333" stroke-width="0.22">25</text>
<text x="514" y="592" font-size="7" text-anchor="middle" fill="#333" font-weight="normal" font-family="Liberation Sans"  stroke="#333" stroke-width="0.22">20</text>
<text x="514" y="580" font-size="7" text-anchor="middle" fill="#333" font-weight="normal" font-family="Liberation Sans"  stroke="#333" stroke-width="0.22">20</text>
<line x1="682.4" y1="560.3" x2="769" y2="560.3" stroke="#777" stroke-width="0.8"/>
<line x1="682.4" y1="573.5" x2="769" y2="573.5" stroke="#777" stroke-width="0.8"/>
<text x="702" y="558" font-size="7" text-anchor="middle" fill="#2a2a2a" font-weight="normal" font-family="Liberation Sans"  stroke="#2a2a2a" stroke-width="0.22">126</text>
<text x="741" y="558" font-size="7" text-anchor="middle" fill="#2a2a2a" font-weight="normal" font-family="Liberation Sans"  stroke="#2a2a2a" stroke-width="0.22">125</text>
<text x="765" y="558" font-size="7" text-anchor="middle" fill="#2a2a2a" font-weight="normal" font-family="Liberation Sans"  stroke="#2a2a2a" stroke-width="0.22">25</text>
<text x="722" y="571" font-size="7" text-anchor="middle" fill="#2a2a2a" font-weight="normal" font-family="Liberation Sans"  stroke="#2a2a2a" stroke-width="0.22">251</text>
<text x="762" y="571" font-size="7" text-anchor="middle" fill="#2a2a2a" font-weight="normal" font-family="Liberation Sans"  stroke="#2a2a2a" stroke-width="0.22">45</text>
<text x="680.5" y="594.5" font-size="7" text-anchor="middle" fill="#333" font-weight="normal" font-family="Liberation Sans"  stroke="#333" stroke-width="0.22">20</text>
<text x="692" y="538.7" font-size="7" text-anchor="middle" fill="#2a2a2a" font-weight="normal" font-family="Liberation Sans" transform="rotate(-90 692 538.7)"  stroke="#2a2a2a" stroke-width="0.22">20</text>
<text x="692" y="638.3" font-size="7" text-anchor="middle" fill="#2a2a2a" font-weight="normal" font-family="Liberation Sans" transform="rotate(-90 692 638.3)"  stroke="#2a2a2a" stroke-width="0.22">20</text>
<line x1="691.9" y1="536.35" x2="695.5" y2="534.85" stroke="#222" stroke-width="0.9"/>
<line x1="691.9" y1="642.75" x2="695.5" y2="641.25" stroke="#222" stroke-width="0.9"/>
<line x1="703.7" y1="536.35" x2="707.3" y2="534.85" stroke="#222" stroke-width="0.9"/>
<line x1="703.7" y1="642.75" x2="707.3" y2="641.25" stroke="#222" stroke-width="0.9"/>
<text x="857" y="597" font-size="6.5" text-anchor="start" fill="#7fa9b8" font-weight="normal" font-family="Liberation Sans"  stroke="#7fa9b8" stroke-width="0.22">bazen</text>
<line x1="856" y1="592" x2="856" y2="614" stroke="#7fa9b8" stroke-width="0.7"/>
<line x1="781" y1="560.3" x2="941" y2="560.3" stroke="#8ab" stroke-width="0.7"/>
<text x="861" y="558.5" font-size="7.2" text-anchor="middle" fill="#7fa9b8" font-weight="normal" font-family="Liberation Sans"  stroke="#7fa9b8" stroke-width="0.22">500</text>
<line x1="775.8" y1="573.5" x2="946" y2="573.5" stroke="#8ab" stroke-width="0.7"/>
<text x="861" y="571.5" font-size="7.2" text-anchor="middle" fill="#7fa9b8" font-weight="normal" font-family="Liberation Sans"  stroke="#7fa9b8" stroke-width="0.22">540</text>
<text x="777.5" y="546.5" font-size="7" text-anchor="middle" fill="#333" font-weight="normal" font-family="Liberation Sans"  stroke="#333" stroke-width="0.22">20</text>
<text x="778" y="558" font-size="7" text-anchor="middle" fill="#333" font-weight="normal" font-family="Liberation Sans"  stroke="#333" stroke-width="0.22">20</text>
<text x="943" y="558" font-size="7" text-anchor="middle" fill="#333" font-weight="normal" font-family="Liberation Sans"  stroke="#333" stroke-width="0.22">20</text>
<text x="953.5" y="585.5" font-size="7" text-anchor="middle" fill="#2a2a2a" font-weight="normal" font-family="Liberation Sans" transform="rotate(-90 953.5 585.5)"  stroke="#2a2a2a" stroke-width="0.22">300</text>
<text x="966" y="585.5" font-size="7" text-anchor="middle" fill="#2a2a2a" font-weight="normal" font-family="Liberation Sans" transform="rotate(-90 966 585.5)"  stroke="#2a2a2a" stroke-width="0.22">340</text>
<line x1="956" y1="537" x2="956" y2="635" stroke="#777" stroke-width="0.8"/>
<line x1="969" y1="532.6" x2="969" y2="640" stroke="#777" stroke-width="0.8"/>
<text x="953.5" y="538" font-size="7" text-anchor="middle" fill="#2a2a2a" font-weight="normal" font-family="Liberation Sans" transform="rotate(-90 953.5 538)"  stroke="#2a2a2a" stroke-width="0.22">20</text>
<text x="953.5" y="635" font-size="7" text-anchor="middle" fill="#2a2a2a" font-weight="normal" font-family="Liberation Sans" transform="rotate(-90 953.5 635)"  stroke="#2a2a2a" stroke-width="0.22">20</text>
</svg></div></body></html>
